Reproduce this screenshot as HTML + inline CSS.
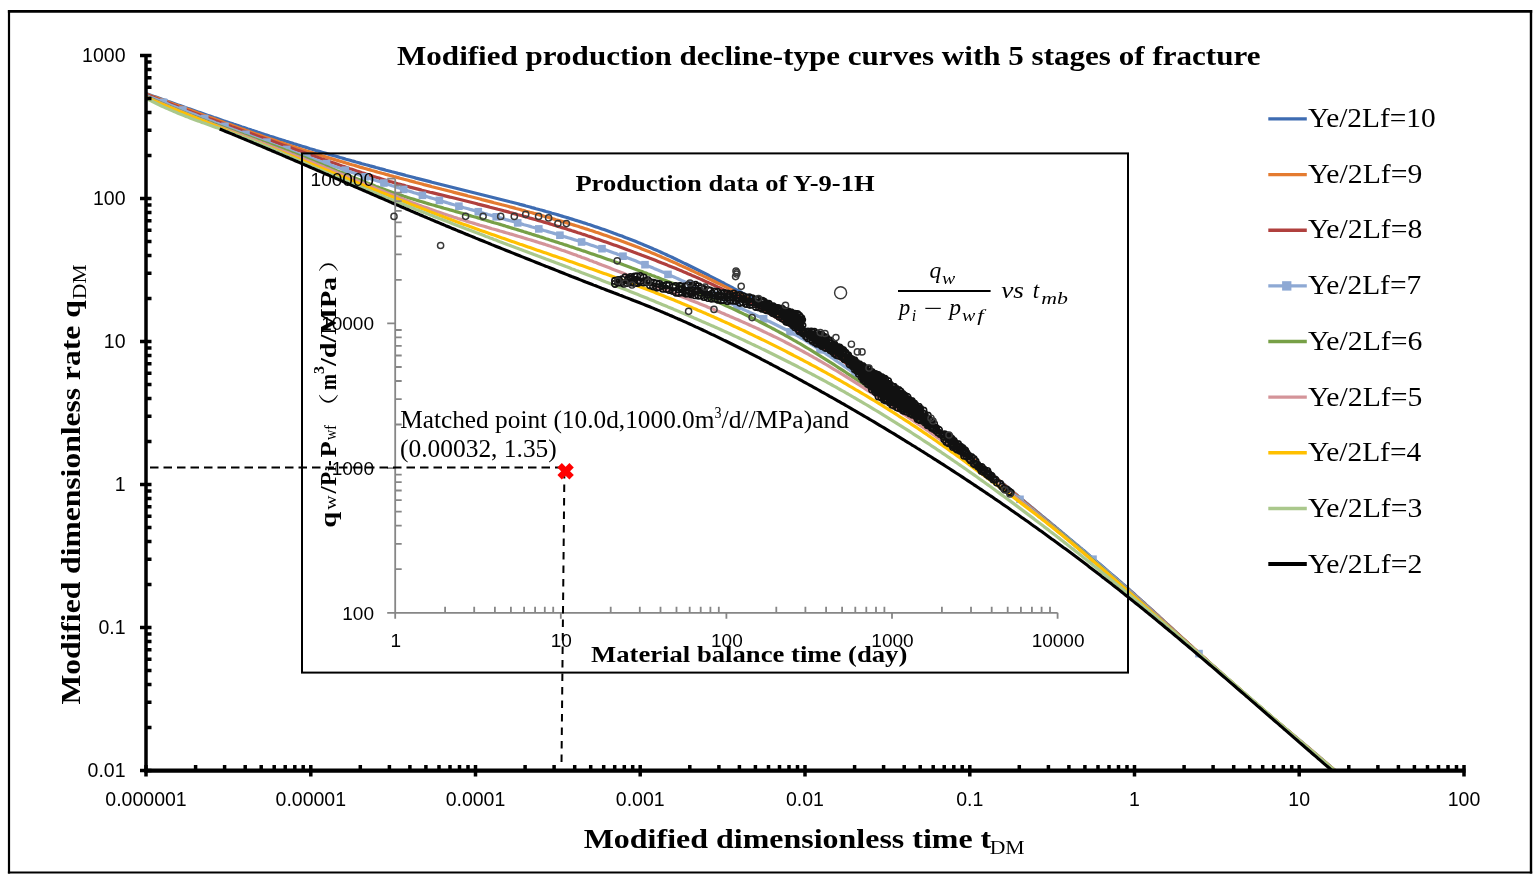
<!DOCTYPE html>
<html><head><meta charset="utf-8"><title>Modified production decline-type curves</title>
<style>html,body{margin:0;padding:0;background:#fff;overflow:hidden;} svg{display:block;}</style></head>
<body><svg width="1539" height="882" viewBox="0 0 1539 882">
<rect width="1539" height="882" fill="#fff"/>
<g stroke="#000" fill="none"><line x1="7.9" y1="11.4" x2="1532.2" y2="11.4" stroke-width="2.8"/><line x1="7.9" y1="872.5" x2="1532.2" y2="872.5" stroke-width="2.2"/><line x1="9" y1="10" x2="9" y2="873.6" stroke-width="2.2"/><line x1="1531" y1="10" x2="1531" y2="873.6" stroke-width="2.4"/></g>
<text x="395.7" y="647.0" font-family="'Liberation Sans',Arial,sans-serif" font-size="19" font-weight="normal" text-anchor="middle" fill="#000">1</text>
<text x="561.3" y="647.0" font-family="'Liberation Sans',Arial,sans-serif" font-size="19" font-weight="normal" text-anchor="middle" fill="#000">10</text>
<text x="726.9" y="647.0" font-family="'Liberation Sans',Arial,sans-serif" font-size="19" font-weight="normal" text-anchor="middle" fill="#000">100</text>
<text x="892.5" y="647.0" font-family="'Liberation Sans',Arial,sans-serif" font-size="19" font-weight="normal" text-anchor="middle" fill="#000">1000</text>
<text x="1058.1" y="647.0" font-family="'Liberation Sans',Arial,sans-serif" font-size="19" font-weight="normal" text-anchor="middle" fill="#000">10000</text>
<text x="575.40" y="190.70" font-family="'Liberation Serif',serif" font-size="24" font-weight="bold" font-style="normal" fill="#000" textLength="299.22" lengthAdjust="spacingAndGlyphs">Production data of Y-9-1H</text>
<text x="591.00" y="661.50" font-family="'Liberation Serif',serif" font-size="23.5" font-weight="bold" font-style="normal" fill="#000" textLength="316.36" lengthAdjust="spacingAndGlyphs">Material balance time (day)</text>
<text transform="translate(336.00,527.79) rotate(-90)" x="0" y="0" font-family="'Liberation Serif',serif" font-size="24" font-weight="bold" font-style="normal" fill="#000" textLength="15.92" lengthAdjust="spacingAndGlyphs">q</text>
<text transform="translate(335.80,509.80) rotate(-90)" x="0" y="0" font-family="'Liberation Serif',serif" font-size="16" font-weight="normal" font-style="normal" fill="#000" textLength="14.45" lengthAdjust="spacingAndGlyphs">w</text>
<text transform="translate(336.00,493.60) rotate(-90)" x="0" y="0" font-family="'Liberation Serif',serif" font-size="24" font-weight="bold" font-style="normal" fill="#000" textLength="7.24" lengthAdjust="spacingAndGlyphs">/</text>
<text transform="translate(336.20,486.00) rotate(-90)" x="0" y="0" font-family="'Liberation Serif',serif" font-size="24" font-weight="bold" font-style="normal" fill="#000" textLength="14.25" lengthAdjust="spacingAndGlyphs">P</text>
<text transform="translate(335.80,472.00) rotate(-90)" x="0" y="0" font-family="'Liberation Serif',serif" font-size="16" font-weight="normal" font-style="normal" fill="#000" textLength="6.12" lengthAdjust="spacingAndGlyphs">i</text>
<text transform="translate(336.00,466.00) rotate(-90)" x="0" y="0" font-family="'Liberation Serif',serif" font-size="24" font-weight="bold" font-style="normal" fill="#000" textLength="5.71" lengthAdjust="spacingAndGlyphs">-</text>
<text transform="translate(336.20,457.40) rotate(-90)" x="0" y="0" font-family="'Liberation Serif',serif" font-size="24" font-weight="bold" font-style="normal" fill="#000" textLength="16.35" lengthAdjust="spacingAndGlyphs">P</text>
<text transform="translate(335.80,440.00) rotate(-90)" x="0" y="0" font-family="'Liberation Serif',serif" font-size="16" font-weight="normal" font-style="normal" fill="#000" textLength="14.90" lengthAdjust="spacingAndGlyphs">wf</text>
<text transform="translate(335.90,420.78) rotate(-90)" x="0" y="0" font-family="'Liberation Serif','Noto Serif CJK SC','Noto Sans CJK SC',serif" font-size="20" font-weight="normal" font-style="normal" fill="#000" textLength="27.67" lengthAdjust="spacingAndGlyphs">（</text>
<text transform="translate(336.00,389.90) rotate(-90)" x="0" y="0" font-family="'Liberation Serif',serif" font-size="24" font-weight="bold" font-style="normal" fill="#000" textLength="15.90" lengthAdjust="spacingAndGlyphs">m</text>
<text transform="translate(323.50,374.00) rotate(-90)" x="0" y="0" font-family="'Liberation Serif',serif" font-size="15" font-weight="bold" font-style="normal" fill="#000" textLength="8.04" lengthAdjust="spacingAndGlyphs">3</text>
<text transform="translate(336.00,366.00) rotate(-90)" x="0" y="0" font-family="'Liberation Serif',serif" font-size="24" font-weight="bold" font-style="normal" fill="#000" textLength="89.20" lengthAdjust="spacingAndGlyphs">/d/MPa</text>
<text transform="translate(335.90,272.85) rotate(-90)" x="0" y="0" font-family="'Liberation Serif','Noto Serif CJK SC','Noto Sans CJK SC',serif" font-size="20" font-weight="normal" font-style="normal" fill="#000" textLength="27.00" lengthAdjust="spacingAndGlyphs">）</text>
<text x="400.20" y="427.70" font-family="'Liberation Serif',serif" font-size="24.5" font-weight="normal" font-style="normal" fill="#000" textLength="314.28" lengthAdjust="spacingAndGlyphs">Matched point (10.0d,1000.0m</text>
<text x="714.60" y="417.60" font-family="'Liberation Serif',serif" font-size="16" font-weight="normal" font-style="normal" fill="#000" textLength="7.00" lengthAdjust="spacingAndGlyphs">3</text>
<text x="721.60" y="427.70" font-family="'Liberation Serif',serif" font-size="24.5" font-weight="normal" font-style="normal" fill="#000" textLength="127.32" lengthAdjust="spacingAndGlyphs">/d//MPa)and</text>
<text x="399.96" y="456.80" font-family="'Liberation Serif',serif" font-size="24.5" font-weight="normal" font-style="normal" fill="#000" textLength="156.86" lengthAdjust="spacingAndGlyphs">(0.00032, 1.35)</text>
<line x1="898" y1="291" x2="990.6" y2="291" stroke="#000" stroke-width="2"/>
<text x="929.50" y="278.00" font-family="'Liberation Serif',serif" font-size="23" font-weight="normal" font-style="italic" fill="#000" textLength="11.71" lengthAdjust="spacingAndGlyphs">q</text>
<text x="942.10" y="283.80" font-family="'Liberation Serif',serif" font-size="16" font-weight="normal" font-style="italic" fill="#000" textLength="13.19" lengthAdjust="spacingAndGlyphs">w</text>
<text x="898.88" y="314.50" font-family="'Liberation Serif',serif" font-size="23" font-weight="normal" font-style="italic" fill="#000" textLength="11.21" lengthAdjust="spacingAndGlyphs">p</text>
<text x="911.85" y="320.70" font-family="'Liberation Serif',serif" font-size="16" font-weight="normal" font-style="italic" fill="#000">i</text>
<text x="923.75" y="315.50" font-family="'Liberation Serif',serif" font-size="23" font-weight="normal" font-style="normal" fill="#000" textLength="18.77" lengthAdjust="spacingAndGlyphs">−</text>
<text x="949.32" y="314.50" font-family="'Liberation Serif',serif" font-size="23" font-weight="normal" font-style="italic" fill="#000" textLength="11.79" lengthAdjust="spacingAndGlyphs">p</text>
<text x="961.90" y="320.70" font-family="'Liberation Serif',serif" font-size="16" font-weight="normal" font-style="italic" fill="#000" textLength="13.29" lengthAdjust="spacingAndGlyphs">w</text>
<text x="977.20" y="320.70" font-family="'Liberation Serif',serif" font-size="16" font-weight="normal" font-style="italic" fill="#000" textLength="6.43" lengthAdjust="spacingAndGlyphs">f</text>
<text x="1001.20" y="297.60" font-family="'Liberation Serif',serif" font-size="23" font-weight="normal" font-style="italic" fill="#000" textLength="22.80" lengthAdjust="spacingAndGlyphs">vs</text>
<text x="1032.75" y="297.60" font-family="'Liberation Serif',serif" font-size="23" font-weight="normal" font-style="italic" fill="#000">t</text>
<text x="1041.30" y="303.60" font-family="'Liberation Serif',serif" font-size="16" font-weight="normal" font-style="italic" fill="#000" textLength="26.67" lengthAdjust="spacingAndGlyphs">mb</text>
<defs><clipPath id="plotclip"><rect x="146" y="20" width="1320" height="750.6"/></clipPath></defs>
<g clip-path="url(#plotclip)">
<path d="M146.0,93.5 L148.0,94.2 L150.0,94.9 L152.0,95.7 L154.0,96.4 L156.0,97.1 L158.0,97.8 L160.0,98.5 L162.0,99.2 L164.0,99.9 L166.0,100.6 L168.0,101.4 L170.0,102.1 L172.0,102.8 L174.0,103.5 L176.0,104.2 L178.0,104.9 L180.0,105.6 L182.0,106.3 L184.0,107.0 L186.0,107.7 L188.0,108.4 L190.0,109.1 L192.0,109.8 L194.0,110.5 L196.0,111.2 L198.0,111.9 L200.0,112.6 L202.0,113.3 L204.0,114.0 L206.0,114.7 L208.0,115.4 L210.0,116.1 L212.0,116.8 L214.0,117.5 L216.0,118.1 L218.0,118.8 L220.0,119.5 L222.0,120.2 L224.0,120.9 L226.0,121.6 L228.0,122.2 L230.0,122.9 L232.0,123.6 L234.0,124.3 L236.0,124.9 L238.0,125.6 L240.0,126.3 L242.0,127.0 L244.0,127.6 L246.0,128.3 L248.0,129.0 L250.0,129.6 L252.0,130.3 L254.0,130.9 L256.0,131.6 L258.0,132.3 L260.0,132.9 L262.0,133.6 L264.0,134.2 L266.0,134.9 L268.0,135.5 L270.0,136.2 L272.0,136.8 L274.0,137.4 L276.0,138.1 L278.0,138.7 L280.0,139.4 L282.0,140.0 L284.0,140.6 L286.0,141.3 L288.0,141.9 L290.0,142.5 L292.0,143.1 L294.0,143.8 L296.0,144.4 L298.0,145.0 L300.0,145.6 L302.0,146.2 L304.0,146.8 L306.0,147.4 L308.0,148.0 L310.0,148.7 L312.0,149.3 L314.0,149.9 L316.0,150.5 L318.0,151.0 L320.0,151.6 L322.0,152.2 L324.0,152.8 L326.0,153.4 L328.0,154.0 L330.0,154.6 L332.0,155.2 L334.0,155.7 L336.0,156.3 L338.0,156.9 L340.0,157.5 L342.0,158.0 L344.0,158.6 L346.0,159.2 L348.0,159.7 L350.0,160.3 L352.0,160.9 L354.0,161.4 L356.0,162.0 L358.0,162.5 L360.0,163.1 L362.0,163.7 L364.0,164.2 L366.0,164.8 L368.0,165.3 L370.0,165.9 L372.0,166.4 L374.0,166.9 L376.0,167.5 L378.0,168.0 L380.0,168.6 L382.0,169.1 L384.0,169.6 L386.0,170.2 L388.0,170.7 L390.0,171.2 L392.0,171.8 L394.0,172.3 L396.0,172.8 L398.0,173.4 L400.0,173.9 L402.0,174.4 L404.0,174.9 L406.0,175.5 L408.0,176.0 L410.0,176.5 L412.0,177.0 L414.0,177.5 L416.0,178.1 L418.0,178.6 L420.0,179.1 L422.0,179.6 L424.0,180.1 L426.0,180.6 L428.0,181.1 L430.0,181.6 L432.0,182.2 L434.0,182.7 L436.0,183.2 L438.0,183.7 L440.0,184.2 L442.0,184.7 L444.0,185.2 L446.0,185.7 L448.0,186.2 L450.0,186.7 L452.0,187.2 L454.0,187.7 L456.0,188.2 L458.0,188.7 L460.0,189.2 L462.0,189.7 L464.0,190.2 L466.0,190.7 L468.0,191.2 L470.0,191.7 L472.0,192.2 L474.0,192.7 L476.0,193.2 L478.0,193.7 L480.0,194.2 L482.0,194.7 L484.0,195.2 L486.0,195.7 L488.0,196.2 L490.0,196.7 L492.0,197.2 L494.0,197.7 L496.0,198.2 L498.0,198.7 L500.0,199.2 L502.0,199.7 L504.0,200.2 L506.0,200.7 L508.0,201.2 L510.0,201.8 L512.0,202.3 L514.0,202.8 L516.0,203.3 L518.0,203.8 L520.0,204.4 L522.0,204.9 L524.0,205.4 L526.0,206.0 L528.0,206.5 L530.0,207.0 L532.0,207.6 L534.0,208.1 L536.0,208.7 L538.0,209.2 L540.0,209.8 L542.0,210.3 L544.0,210.9 L546.0,211.5 L548.0,212.0 L550.0,212.6 L552.0,213.2 L554.0,213.7 L556.0,214.3 L558.0,214.9 L560.0,215.5 L562.0,216.1 L564.0,216.7 L566.0,217.3 L568.0,217.9 L570.0,218.5 L572.0,219.1 L574.0,219.7 L576.0,220.4 L578.0,221.0 L580.0,221.6 L582.0,222.2 L584.0,222.9 L586.0,223.5 L588.0,224.2 L590.0,224.8 L592.0,225.5 L594.0,226.2 L596.0,226.9 L598.0,227.5 L600.0,228.2 L602.0,228.9 L604.0,229.6 L606.0,230.3 L608.0,231.0 L610.0,231.7 L612.0,232.4 L614.0,233.2 L616.0,233.9 L618.0,234.7 L620.0,235.4 L622.0,236.1 L624.0,236.9 L626.0,237.7 L628.0,238.4 L630.0,239.2 L632.0,240.0 L634.0,240.8 L636.0,241.6 L638.0,242.4 L640.0,243.2 L642.0,244.1 L644.0,244.9 L646.0,245.7 L648.0,246.6 L650.0,247.4 L652.0,248.3 L654.0,249.2 L656.0,250.0 L658.0,250.9 L660.0,251.8 L662.0,252.7 L664.0,253.6 L666.0,254.5 L668.0,255.5 L670.0,256.4 L672.0,257.3 L674.0,258.3 L676.0,259.2 L678.0,260.2 L680.0,261.1 L682.0,262.1 L684.0,263.1 L686.0,264.0 L688.0,265.0 L690.0,266.0 L692.0,267.0 L694.0,268.0 L696.0,269.0 L698.0,270.0 L700.0,271.0 L702.0,272.0 L704.0,273.0 L706.0,274.0 L708.0,275.0 L710.0,276.1 L712.0,277.1 L714.0,278.1 L716.0,279.2 L718.0,280.2 L720.0,281.2 L722.0,282.3 L724.0,283.3 L726.0,284.4 L728.0,285.4 L730.0,286.5 L732.0,287.5 L734.0,288.6 L736.0,289.6 L738.0,290.7 L740.0,291.8 L742.0,292.8 L744.0,293.9 L746.0,294.9 L748.0,296.0 L750.0,297.1 L752.0,298.2 L754.0,299.2 L756.0,300.3 L758.0,301.4 L760.0,302.5 L762.0,303.6 L764.0,304.7 L766.0,305.8 L768.0,307.0 L770.0,308.1 L772.0,309.2 L774.0,310.4 L776.0,311.5 L778.0,312.7 L780.0,313.8 L782.0,315.0 L784.0,316.2 L786.0,317.4 L788.0,318.6 L790.0,319.8 L792.0,321.0 L794.0,322.3 L796.0,323.5 L798.0,324.8 L800.0,326.0 L802.0,327.3 L804.0,328.6 L806.0,329.9 L808.0,331.2 L810.0,332.6 L812.0,333.9 L814.0,335.2 L816.0,336.6 L818.0,338.0 L820.0,339.4 L822.0,340.7 L824.0,342.1 L826.0,343.6 L828.0,345.0 L830.0,346.4 L832.0,347.8 L834.0,349.3 L836.0,350.7 L838.0,352.2 L840.0,353.6 L842.0,355.1 L844.0,356.6 L846.0,358.1 L848.0,359.6 L850.0,361.1 L852.0,362.6 L854.0,364.1 L856.0,365.6 L858.0,367.1 L860.0,368.7 L862.0,370.2 L864.0,371.7 L866.0,373.3 L868.0,374.8 L870.0,376.3 L872.0,377.9 L874.0,379.5 L876.0,381.0 L878.0,382.6 L880.0,384.1 L882.0,385.7 L884.0,387.3 L886.0,388.8 L888.0,390.4 L890.0,392.0 L892.0,393.5 L894.0,395.1 L896.0,396.7 L898.0,398.3 L900.0,399.8 L902.0,401.4 L904.0,403.0 L906.0,404.6 L908.0,406.1 L910.0,407.7 L912.0,409.3 L914.0,410.9 L916.0,412.4 L918.0,414.0 L920.0,415.6 L922.0,417.2 L924.0,418.7 L926.0,420.3 L928.0,421.9 L930.0,423.5 L932.0,425.1 L934.0,426.7 L936.0,428.3 L938.0,429.9 L940.0,431.5 L942.0,433.1 L944.0,434.7 L946.0,436.3 L948.0,438.0 L950.0,439.6 L952.0,441.2 L954.0,442.8 L956.0,444.5 L958.0,446.1 L960.0,447.8 L962.0,449.4 L964.0,451.1 L966.0,452.7 L968.0,454.4 L970.0,456.0 L972.0,457.7 L974.0,459.4 L976.0,461.0 L978.0,462.7 L980.0,464.4 L982.0,466.0 L984.0,467.7 L986.0,469.4 L988.0,471.0 L990.0,472.7 L992.0,474.4 L994.0,476.0 L996.0,477.7 L998.0,479.4 L1000.0,481.0 L1002.0,482.7 L1004.0,484.3 L1006.0,486.0 L1008.0,487.7 L1010.0,489.3 L1012.0,491.0 L1014.0,492.6 L1016.0,494.3 L1018.0,496.0 L1020.0,497.6 L1022.0,499.3 L1024.0,500.9 L1026.0,502.6 L1028.0,504.3 L1030.0,505.9 L1032.0,507.6 L1034.0,509.2 L1036.0,510.9 L1038.0,512.6 L1040.0,514.2 L1042.0,515.9 L1044.0,517.5 L1046.0,519.2 L1048.0,520.8 L1050.0,522.5 L1052.0,524.2 L1054.0,525.8 L1056.0,527.5 L1058.0,529.1 L1060.0,530.8 L1062.0,532.5 L1064.0,534.1 L1066.0,535.8 L1068.0,537.4 L1070.0,539.1 L1072.0,540.8 L1074.0,542.4 L1076.0,544.1 L1078.0,545.8 L1080.0,547.5 L1082.0,549.1 L1084.0,550.8 L1086.0,552.5 L1088.0,554.2 L1090.0,555.9 L1092.0,557.5 L1094.0,559.2 L1096.0,560.9 L1098.0,562.6 L1100.0,564.3 L1102.0,566.0 L1104.0,567.7 L1106.0,569.4 L1108.0,571.2 L1110.0,572.9 L1112.0,574.6 L1114.0,576.3 L1116.0,578.0 L1118.0,579.8 L1120.0,581.5 L1122.0,583.3 L1124.0,585.0 L1126.0,586.8 L1128.0,588.5 L1130.0,590.3 L1132.0,592.0 L1134.0,593.8 L1136.0,595.6 L1138.0,597.4 L1140.0,599.2 L1142.0,601.0 L1144.0,602.7 L1146.0,604.6 L1148.0,606.4 L1150.0,608.2 L1152.0,610.0 L1154.0,611.8 L1156.0,613.7 L1158.0,615.5 L1160.0,617.4 L1162.0,619.2 L1164.0,621.1 L1166.0,622.9 L1168.0,624.8 L1170.0,626.6 L1172.0,628.5 L1174.0,630.4 L1176.0,632.2 L1178.0,634.1 L1180.0,635.9 L1182.0,637.8 L1184.0,639.7 L1186.0,641.5 L1188.0,643.4 L1190.0,645.2 L1192.0,647.1 L1194.0,648.9 L1196.0,650.7 L1198.0,652.6 L1200.0,654.4 L1202.0,656.2 L1204.0,658.0 L1206.0,659.8 L1208.0,661.6 L1210.0,663.4 L1212.0,665.2 L1214.0,667.0 L1216.0,668.8 L1218.0,670.6 L1220.0,672.4 L1222.0,674.1 L1224.0,675.9 L1226.0,677.7 L1228.0,679.4 L1230.0,681.2 L1232.0,682.9 L1234.0,684.7 L1236.0,686.4 L1238.0,688.2 L1240.0,689.9 L1242.0,691.6 L1244.0,693.4 L1246.0,695.1 L1248.0,696.8 L1250.0,698.5 L1252.0,700.2 L1254.0,701.9 L1256.0,703.6 L1258.0,705.3 L1260.0,707.0 L1262.0,708.7 L1264.0,710.4 L1266.0,712.1 L1268.0,713.8 L1270.0,715.5 L1272.0,717.2 L1274.0,718.9 L1276.0,720.5 L1278.0,722.2 L1280.0,723.9 L1282.0,725.6 L1284.0,727.3 L1286.0,729.0 L1288.0,730.6 L1290.0,732.3 L1292.0,734.0 L1294.0,735.7 L1296.0,737.4 L1298.0,739.1 L1300.0,740.7 L1302.0,742.4 L1304.0,744.1 L1306.0,745.8 L1308.0,747.5 L1310.0,749.2 L1312.0,750.9 L1314.0,752.6 L1316.0,754.3 L1318.0,756.0 L1320.0,757.7 L1322.0,759.4 L1324.0,761.1 L1326.0,762.9 L1328.0,764.6 L1330.0,766.3 L1332.0,768.0 L1334.0,769.8 L1336.0,771.5 L1338.0,773.2 L1340.0,775.0 L1342.0,776.7 L1344.0,778.5 L1346.0,780.3" fill="none" stroke="#3E6CB2" stroke-width="3.2" stroke-linejoin="round"/>
<path d="M146.0,94.0 L148.0,94.7 L150.0,95.4 L152.0,96.2 L154.0,96.9 L156.0,97.6 L158.0,98.3 L160.0,99.1 L162.0,99.8 L164.0,100.5 L166.0,101.3 L168.0,102.0 L170.0,102.7 L172.0,103.4 L174.0,104.2 L176.0,104.9 L178.0,105.6 L180.0,106.4 L182.0,107.1 L184.0,107.8 L186.0,108.6 L188.0,109.3 L190.0,110.0 L192.0,110.8 L194.0,111.5 L196.0,112.2 L198.0,113.0 L200.0,113.7 L202.0,114.4 L204.0,115.2 L206.0,115.9 L208.0,116.6 L210.0,117.4 L212.0,118.1 L214.0,118.8 L216.0,119.6 L218.0,120.3 L220.0,121.0 L222.0,121.7 L224.0,122.5 L226.0,123.2 L228.0,123.9 L230.0,124.6 L232.0,125.3 L234.0,126.1 L236.0,126.8 L238.0,127.5 L240.0,128.2 L242.0,128.9 L244.0,129.6 L246.0,130.4 L248.0,131.1 L250.0,131.8 L252.0,132.5 L254.0,133.2 L256.0,133.9 L258.0,134.6 L260.0,135.3 L262.0,136.0 L264.0,136.7 L266.0,137.4 L268.0,138.1 L270.0,138.8 L272.0,139.4 L274.0,140.1 L276.0,140.8 L278.0,141.5 L280.0,142.2 L282.0,142.8 L284.0,143.5 L286.0,144.2 L288.0,144.9 L290.0,145.5 L292.0,146.2 L294.0,146.8 L296.0,147.5 L298.0,148.2 L300.0,148.8 L302.0,149.5 L304.0,150.1 L306.0,150.7 L308.0,151.4 L310.0,152.0 L312.0,152.6 L314.0,153.3 L316.0,153.9 L318.0,154.5 L320.0,155.2 L322.0,155.8 L324.0,156.4 L326.0,157.0 L328.0,157.6 L330.0,158.2 L332.0,158.8 L334.0,159.4 L336.0,160.0 L338.0,160.6 L340.0,161.2 L342.0,161.8 L344.0,162.4 L346.0,163.0 L348.0,163.6 L350.0,164.2 L352.0,164.8 L354.0,165.3 L356.0,165.9 L358.0,166.5 L360.0,167.1 L362.0,167.6 L364.0,168.2 L366.0,168.8 L368.0,169.4 L370.0,169.9 L372.0,170.5 L374.0,171.0 L376.0,171.6 L378.0,172.2 L380.0,172.7 L382.0,173.3 L384.0,173.8 L386.0,174.4 L388.0,174.9 L390.0,175.5 L392.0,176.0 L394.0,176.6 L396.0,177.1 L398.0,177.6 L400.0,178.2 L402.0,178.7 L404.0,179.3 L406.0,179.8 L408.0,180.3 L410.0,180.9 L412.0,181.4 L414.0,181.9 L416.0,182.5 L418.0,183.0 L420.0,183.5 L422.0,184.0 L424.0,184.6 L426.0,185.1 L428.0,185.6 L430.0,186.1 L432.0,186.7 L434.0,187.2 L436.0,187.7 L438.0,188.2 L440.0,188.7 L442.0,189.3 L444.0,189.8 L446.0,190.3 L448.0,190.8 L450.0,191.3 L452.0,191.8 L454.0,192.4 L456.0,192.9 L458.0,193.4 L460.0,193.9 L462.0,194.4 L464.0,194.9 L466.0,195.4 L468.0,196.0 L470.0,196.5 L472.0,197.0 L474.0,197.5 L476.0,198.0 L478.0,198.5 L480.0,199.0 L482.0,199.6 L484.0,200.1 L486.0,200.6 L488.0,201.1 L490.0,201.6 L492.0,202.1 L494.0,202.7 L496.0,203.2 L498.0,203.7 L500.0,204.2 L502.0,204.8 L504.0,205.3 L506.0,205.8 L508.0,206.3 L510.0,206.9 L512.0,207.4 L514.0,207.9 L516.0,208.5 L518.0,209.0 L520.0,209.5 L522.0,210.1 L524.0,210.6 L526.0,211.2 L528.0,211.7 L530.0,212.3 L532.0,212.8 L534.0,213.4 L536.0,213.9 L538.0,214.5 L540.0,215.1 L542.0,215.6 L544.0,216.2 L546.0,216.8 L548.0,217.3 L550.0,217.9 L552.0,218.5 L554.0,219.1 L556.0,219.7 L558.0,220.2 L560.0,220.8 L562.0,221.4 L564.0,222.0 L566.0,222.6 L568.0,223.2 L570.0,223.9 L572.0,224.5 L574.0,225.1 L576.0,225.7 L578.0,226.3 L580.0,227.0 L582.0,227.6 L584.0,228.2 L586.0,228.9 L588.0,229.5 L590.0,230.2 L592.0,230.8 L594.0,231.5 L596.0,232.2 L598.0,232.8 L600.0,233.5 L602.0,234.2 L604.0,234.9 L606.0,235.6 L608.0,236.3 L610.0,237.0 L612.0,237.7 L614.0,238.4 L616.0,239.1 L618.0,239.8 L620.0,240.5 L622.0,241.3 L624.0,242.0 L626.0,242.7 L628.0,243.5 L630.0,244.2 L632.0,245.0 L634.0,245.8 L636.0,246.6 L638.0,247.3 L640.0,248.1 L642.0,248.9 L644.0,249.7 L646.0,250.5 L648.0,251.3 L650.0,252.1 L652.0,253.0 L654.0,253.8 L656.0,254.6 L658.0,255.5 L660.0,256.3 L662.0,257.2 L664.0,258.1 L666.0,258.9 L668.0,259.8 L670.0,260.7 L672.0,261.6 L674.0,262.4 L676.0,263.3 L678.0,264.2 L680.0,265.2 L682.0,266.1 L684.0,267.0 L686.0,267.9 L688.0,268.8 L690.0,269.8 L692.0,270.7 L694.0,271.6 L696.0,272.6 L698.0,273.5 L700.0,274.5 L702.0,275.4 L704.0,276.4 L706.0,277.3 L708.0,278.3 L710.0,279.3 L712.0,280.2 L714.0,281.2 L716.0,282.2 L718.0,283.2 L720.0,284.1 L722.0,285.1 L724.0,286.1 L726.0,287.1 L728.0,288.1 L730.0,289.1 L732.0,290.1 L734.0,291.1 L736.0,292.1 L738.0,293.1 L740.0,294.1 L742.0,295.1 L744.0,296.1 L746.0,297.1 L748.0,298.1 L750.0,299.1 L752.0,300.2 L754.0,301.2 L756.0,302.2 L758.0,303.3 L760.0,304.3 L762.0,305.4 L764.0,306.5 L766.0,307.5 L768.0,308.6 L770.0,309.7 L772.0,310.8 L774.0,311.9 L776.0,313.1 L778.0,314.2 L780.0,315.3 L782.0,316.5 L784.0,317.7 L786.0,318.9 L788.0,320.1 L790.0,321.3 L792.0,322.5 L794.0,323.7 L796.0,325.0 L798.0,326.3 L800.0,327.6 L802.0,328.9 L804.0,330.2 L806.0,331.6 L808.0,332.9 L810.0,334.3 L812.0,335.7 L814.0,337.1 L816.0,338.5 L818.0,339.9 L820.0,341.3 L822.0,342.7 L824.0,344.2 L826.0,345.7 L828.0,347.1 L830.0,348.6 L832.0,350.1 L834.0,351.5 L836.0,353.0 L838.0,354.5 L840.0,356.0 L842.0,357.5 L844.0,359.0 L846.0,360.5 L848.0,362.0 L850.0,363.5 L852.0,365.0 L854.0,366.5 L856.0,368.0 L858.0,369.5 L860.0,370.9 L862.0,372.4 L864.0,373.9 L866.0,375.4 L868.0,376.9 L870.0,378.4 L872.0,379.9 L874.0,381.4 L876.0,382.9 L878.0,384.4 L880.0,385.9 L882.0,387.4 L884.0,388.9 L886.0,390.4 L888.0,391.9 L890.0,393.4 L892.0,394.9 L894.0,396.4 L896.0,397.9 L898.0,399.4 L900.0,400.9 L902.0,402.4 L904.0,404.0 L906.0,405.5 L908.0,407.0 L910.0,408.6 L912.0,410.1 L914.0,411.6 L916.0,413.2 L918.0,414.7 L920.0,416.3 L922.0,417.9 L924.0,419.4 L926.0,421.0 L928.0,422.5 L930.0,424.1 L932.0,425.7 L934.0,427.3 L936.0,428.9 L938.0,430.4 L940.0,432.0 L942.0,433.6 L944.0,435.2 L946.0,436.8 L948.0,438.4 L950.0,440.0 L952.0,441.6 L954.0,443.3 L956.0,444.9 L958.0,446.5 L960.0,448.1 L962.0,449.8 L964.0,451.4 L966.0,453.0 L968.0,454.7 L970.0,456.3 L972.0,457.9 L974.0,459.6 L976.0,461.2 L978.0,462.9 L980.0,464.6 L982.0,466.2 L984.0,467.9 L986.0,469.5 L988.0,471.2 L990.0,472.9 L992.0,474.5 L994.0,476.2 L996.0,477.9 L998.0,479.5 L1000.0,481.2 L1002.0,482.9 L1004.0,484.6 L1006.0,486.3 L1008.0,487.9 L1010.0,489.6 L1012.0,491.3 L1014.0,493.0 L1016.0,494.7 L1018.0,496.3 L1020.0,498.0 L1022.0,499.7 L1024.0,501.4 L1026.0,503.1 L1028.0,504.8 L1030.0,506.5 L1032.0,508.1 L1034.0,509.8 L1036.0,511.5 L1038.0,513.2 L1040.0,514.9 L1042.0,516.6 L1044.0,518.3 L1046.0,519.9 L1048.0,521.6 L1050.0,523.3 L1052.0,525.0 L1054.0,526.7 L1056.0,528.3 L1058.0,530.0 L1060.0,531.7 L1062.0,533.4 L1064.0,535.1 L1066.0,536.7 L1068.0,538.4 L1070.0,540.1 L1072.0,541.8 L1074.0,543.5 L1076.0,545.1 L1078.0,546.8 L1080.0,548.5 L1082.0,550.2 L1084.0,551.9 L1086.0,553.5 L1088.0,555.2 L1090.0,556.9 L1092.0,558.6 L1094.0,560.3 L1096.0,562.0 L1098.0,563.7 L1100.0,565.4 L1102.0,567.1 L1104.0,568.8 L1106.0,570.5 L1108.0,572.2 L1110.0,573.9 L1112.0,575.6 L1114.0,577.3 L1116.0,579.0 L1118.0,580.7 L1120.0,582.4 L1122.0,584.2 L1124.0,585.9 L1126.0,587.6 L1128.0,589.3 L1130.0,591.1 L1132.0,592.8 L1134.0,594.6 L1136.0,596.3 L1138.0,598.1 L1140.0,599.8 L1142.0,601.6 L1144.0,603.3 L1146.0,605.1 L1148.0,606.9 L1150.0,608.7 L1152.0,610.5 L1154.0,612.3 L1156.0,614.0 L1158.0,615.8 L1160.0,617.6 L1162.0,619.5 L1164.0,621.3 L1166.0,623.1 L1168.0,624.9 L1170.0,626.7 L1172.0,628.5 L1174.0,630.4 L1176.0,632.2 L1178.0,634.0 L1180.0,635.8 L1182.0,637.7 L1184.0,639.5 L1186.0,641.3 L1188.0,643.2 L1190.0,645.0 L1192.0,646.8 L1194.0,648.7 L1196.0,650.5 L1198.0,652.3 L1200.0,654.1 L1202.0,656.0 L1204.0,657.8 L1206.0,659.6 L1208.0,661.4 L1210.0,663.3 L1212.0,665.1 L1214.0,666.9 L1216.0,668.7 L1218.0,670.5 L1220.0,672.3 L1222.0,674.1 L1224.0,675.9 L1226.0,677.7 L1228.0,679.5 L1230.0,681.3 L1232.0,683.1 L1234.0,684.8 L1236.0,686.6 L1238.0,688.4 L1240.0,690.1 L1242.0,691.9 L1244.0,693.6 L1246.0,695.3 L1248.0,697.1 L1250.0,698.8 L1252.0,700.5 L1254.0,702.2 L1256.0,703.9 L1258.0,705.6 L1260.0,707.3 L1262.0,709.0 L1264.0,710.6 L1266.0,712.3 L1268.0,714.0 L1270.0,715.7 L1272.0,717.3 L1274.0,719.0 L1276.0,720.6 L1278.0,722.3 L1280.0,724.0 L1282.0,725.6 L1284.0,727.3 L1286.0,728.9 L1288.0,730.6 L1290.0,732.3 L1292.0,733.9 L1294.0,735.6 L1296.0,737.3 L1298.0,738.9 L1300.0,740.6 L1302.0,742.3 L1304.0,744.0 L1306.0,745.7 L1308.0,747.3 L1310.0,749.0 L1312.0,750.7 L1314.0,752.4 L1316.0,754.1 L1318.0,755.8 L1320.0,757.6 L1322.0,759.3 L1324.0,761.0 L1326.0,762.7 L1328.0,764.5 L1330.0,766.2 L1332.0,767.9 L1334.0,769.7 L1336.0,771.4 L1338.0,773.2 L1340.0,775.0 L1342.0,776.7 L1344.0,778.5 L1346.0,780.3" fill="none" stroke="#E47B30" stroke-width="3.2" stroke-linejoin="round"/>
<path d="M146.0,94.4 L148.0,95.2 L150.0,96.0 L152.0,96.8 L154.0,97.6 L156.0,98.4 L158.0,99.2 L160.0,99.9 L162.0,100.7 L164.0,101.5 L166.0,102.3 L168.0,103.1 L170.0,103.8 L172.0,104.6 L174.0,105.4 L176.0,106.1 L178.0,106.9 L180.0,107.7 L182.0,108.4 L184.0,109.2 L186.0,109.9 L188.0,110.7 L190.0,111.4 L192.0,112.2 L194.0,112.9 L196.0,113.7 L198.0,114.4 L200.0,115.2 L202.0,115.9 L204.0,116.7 L206.0,117.4 L208.0,118.1 L210.0,118.9 L212.0,119.6 L214.0,120.3 L216.0,121.1 L218.0,121.8 L220.0,122.5 L222.0,123.2 L224.0,124.0 L226.0,124.7 L228.0,125.4 L230.0,126.1 L232.0,126.9 L234.0,127.6 L236.0,128.3 L238.0,129.0 L240.0,129.7 L242.0,130.5 L244.0,131.2 L246.0,131.9 L248.0,132.6 L250.0,133.3 L252.0,134.0 L254.0,134.7 L256.0,135.5 L258.0,136.2 L260.0,136.9 L262.0,137.6 L264.0,138.3 L266.0,139.0 L268.0,139.7 L270.0,140.4 L272.0,141.1 L274.0,141.8 L276.0,142.6 L278.0,143.3 L280.0,144.0 L282.0,144.7 L284.0,145.4 L286.0,146.1 L288.0,146.8 L290.0,147.5 L292.0,148.2 L294.0,148.9 L296.0,149.7 L298.0,150.4 L300.0,151.1 L302.0,151.8 L304.0,152.5 L306.0,153.2 L308.0,153.9 L310.0,154.6 L312.0,155.4 L314.0,156.1 L316.0,156.8 L318.0,157.5 L320.0,158.2 L322.0,158.9 L324.0,159.6 L326.0,160.3 L328.0,161.0 L330.0,161.7 L332.0,162.4 L334.0,163.1 L336.0,163.8 L338.0,164.5 L340.0,165.2 L342.0,165.9 L344.0,166.6 L346.0,167.3 L348.0,168.0 L350.0,168.7 L352.0,169.3 L354.0,170.0 L356.0,170.7 L358.0,171.4 L360.0,172.0 L362.0,172.7 L364.0,173.3 L366.0,174.0 L368.0,174.6 L370.0,175.3 L372.0,175.9 L374.0,176.6 L376.0,177.2 L378.0,177.8 L380.0,178.4 L382.0,179.1 L384.0,179.7 L386.0,180.3 L388.0,180.9 L390.0,181.5 L392.0,182.0 L394.0,182.6 L396.0,183.2 L398.0,183.8 L400.0,184.3 L402.0,184.9 L404.0,185.4 L406.0,186.0 L408.0,186.5 L410.0,187.1 L412.0,187.6 L414.0,188.1 L416.0,188.6 L418.0,189.1 L420.0,189.6 L422.0,190.2 L424.0,190.7 L426.0,191.2 L428.0,191.7 L430.0,192.2 L432.0,192.6 L434.0,193.1 L436.0,193.6 L438.0,194.1 L440.0,194.6 L442.0,195.1 L444.0,195.6 L446.0,196.1 L448.0,196.6 L450.0,197.1 L452.0,197.5 L454.0,198.0 L456.0,198.5 L458.0,199.0 L460.0,199.5 L462.0,200.0 L464.0,200.5 L466.0,201.0 L468.0,201.5 L470.0,202.0 L472.0,202.5 L474.0,203.0 L476.0,203.5 L478.0,204.1 L480.0,204.6 L482.0,205.1 L484.0,205.6 L486.0,206.1 L488.0,206.6 L490.0,207.2 L492.0,207.7 L494.0,208.2 L496.0,208.7 L498.0,209.3 L500.0,209.8 L502.0,210.3 L504.0,210.9 L506.0,211.4 L508.0,211.9 L510.0,212.5 L512.0,213.0 L514.0,213.6 L516.0,214.1 L518.0,214.7 L520.0,215.2 L522.0,215.8 L524.0,216.4 L526.0,216.9 L528.0,217.5 L530.0,218.1 L532.0,218.6 L534.0,219.2 L536.0,219.8 L538.0,220.4 L540.0,221.0 L542.0,221.5 L544.0,222.1 L546.0,222.7 L548.0,223.3 L550.0,223.9 L552.0,224.5 L554.0,225.1 L556.0,225.7 L558.0,226.4 L560.0,227.0 L562.0,227.6 L564.0,228.2 L566.0,228.8 L568.0,229.5 L570.0,230.1 L572.0,230.8 L574.0,231.4 L576.0,232.0 L578.0,232.7 L580.0,233.3 L582.0,234.0 L584.0,234.6 L586.0,235.3 L588.0,236.0 L590.0,236.6 L592.0,237.3 L594.0,238.0 L596.0,238.7 L598.0,239.3 L600.0,240.0 L602.0,240.7 L604.0,241.4 L606.0,242.1 L608.0,242.8 L610.0,243.5 L612.0,244.2 L614.0,244.9 L616.0,245.6 L618.0,246.3 L620.0,247.1 L622.0,247.8 L624.0,248.5 L626.0,249.2 L628.0,250.0 L630.0,250.7 L632.0,251.4 L634.0,252.2 L636.0,252.9 L638.0,253.7 L640.0,254.4 L642.0,255.2 L644.0,255.9 L646.0,256.7 L648.0,257.5 L650.0,258.3 L652.0,259.0 L654.0,259.8 L656.0,260.6 L658.0,261.4 L660.0,262.2 L662.0,263.0 L664.0,263.7 L666.0,264.5 L668.0,265.4 L670.0,266.2 L672.0,267.0 L674.0,267.8 L676.0,268.6 L678.0,269.4 L680.0,270.3 L682.0,271.1 L684.0,272.0 L686.0,272.8 L688.0,273.7 L690.0,274.5 L692.0,275.4 L694.0,276.2 L696.0,277.1 L698.0,278.0 L700.0,278.9 L702.0,279.8 L704.0,280.7 L706.0,281.6 L708.0,282.5 L710.0,283.4 L712.0,284.3 L714.0,285.2 L716.0,286.1 L718.0,287.1 L720.0,288.0 L722.0,289.0 L724.0,289.9 L726.0,290.9 L728.0,291.9 L730.0,292.8 L732.0,293.8 L734.0,294.8 L736.0,295.8 L738.0,296.8 L740.0,297.8 L742.0,298.8 L744.0,299.8 L746.0,300.9 L748.0,301.9 L750.0,303.0 L752.0,304.0 L754.0,305.1 L756.0,306.1 L758.0,307.2 L760.0,308.3 L762.0,309.4 L764.0,310.5 L766.0,311.6 L768.0,312.7 L770.0,313.9 L772.0,315.0 L774.0,316.1 L776.0,317.3 L778.0,318.5 L780.0,319.6 L782.0,320.8 L784.0,322.0 L786.0,323.2 L788.0,324.4 L790.0,325.6 L792.0,326.8 L794.0,328.1 L796.0,329.3 L798.0,330.6 L800.0,331.8 L802.0,333.1 L804.0,334.4 L806.0,335.7 L808.0,337.0 L810.0,338.3 L812.0,339.6 L814.0,340.9 L816.0,342.3 L818.0,343.6 L820.0,344.9 L822.0,346.3 L824.0,347.7 L826.0,349.0 L828.0,350.4 L830.0,351.8 L832.0,353.2 L834.0,354.6 L836.0,356.0 L838.0,357.4 L840.0,358.8 L842.0,360.3 L844.0,361.7 L846.0,363.1 L848.0,364.6 L850.0,366.0 L852.0,367.4 L854.0,368.9 L856.0,370.4 L858.0,371.8 L860.0,373.3 L862.0,374.7 L864.0,376.2 L866.0,377.7 L868.0,379.2 L870.0,380.6 L872.0,382.1 L874.0,383.6 L876.0,385.1 L878.0,386.6 L880.0,388.1 L882.0,389.6 L884.0,391.1 L886.0,392.6 L888.0,394.0 L890.0,395.5 L892.0,397.0 L894.0,398.5 L896.0,400.0 L898.0,401.5 L900.0,403.0 L902.0,404.5 L904.0,406.0 L906.0,407.5 L908.0,409.0 L910.0,410.5 L912.0,412.0 L914.0,413.5 L916.0,415.0 L918.0,416.5 L920.0,418.0 L922.0,419.5 L924.0,421.0 L926.0,422.6 L928.0,424.1 L930.0,425.6 L932.0,427.1 L934.0,428.7 L936.0,430.2 L938.0,431.7 L940.0,433.3 L942.0,434.9 L944.0,436.4 L946.0,438.0 L948.0,439.6 L950.0,441.2 L952.0,442.8 L954.0,444.4 L956.0,446.0 L958.0,447.6 L960.0,449.2 L962.0,450.8 L964.0,452.5 L966.0,454.1 L968.0,455.8 L970.0,457.4 L972.0,459.0 L974.0,460.7 L976.0,462.4 L978.0,464.0 L980.0,465.7 L982.0,467.3 L984.0,469.0 L986.0,470.7 L988.0,472.3 L990.0,474.0 L992.0,475.6 L994.0,477.3 L996.0,478.9 L998.0,480.6 L1000.0,482.2 L1002.0,483.9 L1004.0,485.5 L1006.0,487.2 L1008.0,488.8 L1010.0,490.5 L1012.0,492.1 L1014.0,493.8 L1016.0,495.4 L1018.0,497.1 L1020.0,498.7 L1022.0,500.4 L1024.0,502.0 L1026.0,503.7 L1028.0,505.3 L1030.0,507.0 L1032.0,508.6 L1034.0,510.3 L1036.0,511.9 L1038.0,513.6 L1040.0,515.3 L1042.0,516.9 L1044.0,518.6 L1046.0,520.2 L1048.0,521.9 L1050.0,523.6 L1052.0,525.2 L1054.0,526.9 L1056.0,528.6 L1058.0,530.3 L1060.0,531.9 L1062.0,533.6 L1064.0,535.3 L1066.0,537.0 L1068.0,538.7 L1070.0,540.4 L1072.0,542.0 L1074.0,543.7 L1076.0,545.4 L1078.0,547.1 L1080.0,548.8 L1082.0,550.5 L1084.0,552.2 L1086.0,553.9 L1088.0,555.6 L1090.0,557.4 L1092.0,559.1 L1094.0,560.8 L1096.0,562.5 L1098.0,564.2 L1100.0,565.9 L1102.0,567.6 L1104.0,569.4 L1106.0,571.1 L1108.0,572.8 L1110.0,574.5 L1112.0,576.3 L1114.0,578.0 L1116.0,579.7 L1118.0,581.5 L1120.0,583.2 L1122.0,585.0 L1124.0,586.7 L1126.0,588.4 L1128.0,590.2 L1130.0,591.9 L1132.0,593.7 L1134.0,595.4 L1136.0,597.2 L1138.0,598.9 L1140.0,600.7 L1142.0,602.4 L1144.0,604.2 L1146.0,606.0 L1148.0,607.7 L1150.0,609.5 L1152.0,611.3 L1154.0,613.0 L1156.0,614.8 L1158.0,616.6 L1160.0,618.3 L1162.0,620.1 L1164.0,621.9 L1166.0,623.7 L1168.0,625.4 L1170.0,627.2 L1172.0,629.0 L1174.0,630.8 L1176.0,632.6 L1178.0,634.3 L1180.0,636.1 L1182.0,637.9 L1184.0,639.7 L1186.0,641.5 L1188.0,643.3 L1190.0,645.0 L1192.0,646.8 L1194.0,648.6 L1196.0,650.4 L1198.0,652.2 L1200.0,654.0 L1202.0,655.7 L1204.0,657.5 L1206.0,659.3 L1208.0,661.1 L1210.0,662.9 L1212.0,664.7 L1214.0,666.4 L1216.0,668.2 L1218.0,670.0 L1220.0,671.8 L1222.0,673.6 L1224.0,675.3 L1226.0,677.1 L1228.0,678.9 L1230.0,680.6 L1232.0,682.4 L1234.0,684.2 L1236.0,686.0 L1238.0,687.7 L1240.0,689.5 L1242.0,691.2 L1244.0,693.0 L1246.0,694.8 L1248.0,696.5 L1250.0,698.3 L1252.0,700.0 L1254.0,701.8 L1256.0,703.5 L1258.0,705.3 L1260.0,707.0 L1262.0,708.7 L1264.0,710.5 L1266.0,712.2 L1268.0,713.9 L1270.0,715.7 L1272.0,717.4 L1274.0,719.1 L1276.0,720.8 L1278.0,722.5 L1280.0,724.3 L1282.0,726.0 L1284.0,727.7 L1286.0,729.4 L1288.0,731.1 L1290.0,732.8 L1292.0,734.5 L1294.0,736.1 L1296.0,737.8 L1298.0,739.5 L1300.0,741.2 L1302.0,742.9 L1304.0,744.5 L1306.0,746.2 L1308.0,747.9 L1310.0,749.6 L1312.0,751.2 L1314.0,752.9 L1316.0,754.6 L1318.0,756.3 L1320.0,757.9 L1322.0,759.6 L1324.0,761.3 L1326.0,763.0 L1328.0,764.7 L1330.0,766.4 L1332.0,768.1 L1334.0,769.8 L1336.0,771.5 L1338.0,773.2 L1340.0,774.9 L1342.0,776.6 L1344.0,778.4 L1346.0,780.1" fill="none" stroke="#B0403E" stroke-width="3.2" stroke-linejoin="round"/>
<path d="M146.0,95.4 L148.0,96.2 L150.0,97.0 L152.0,97.7 L154.0,98.5 L156.0,99.3 L158.0,100.1 L160.0,100.9 L162.0,101.7 L164.0,102.5 L166.0,103.3 L168.0,104.1 L170.0,104.9 L172.0,105.7 L174.0,106.5 L176.0,107.3 L178.0,108.1 L180.0,108.9 L182.0,109.6 L184.0,110.4 L186.0,111.2 L188.0,112.0 L190.0,112.8 L192.0,113.6 L194.0,114.3 L196.0,115.1 L198.0,115.9 L200.0,116.7 L202.0,117.5 L204.0,118.2 L206.0,119.0 L208.0,119.8 L210.0,120.6 L212.0,121.3 L214.0,122.1 L216.0,122.9 L218.0,123.6 L220.0,124.4 L222.0,125.2 L224.0,126.0 L226.0,126.7 L228.0,127.5 L230.0,128.2 L232.0,129.0 L234.0,129.8 L236.0,130.5 L238.0,131.3 L240.0,132.0 L242.0,132.8 L244.0,133.6 L246.0,134.3 L248.0,135.1 L250.0,135.8 L252.0,136.6 L254.0,137.3 L256.0,138.1 L258.0,138.8 L260.0,139.6 L262.0,140.3 L264.0,141.1 L266.0,141.8 L268.0,142.5 L270.0,143.3 L272.0,144.0 L274.0,144.8 L276.0,145.5 L278.0,146.2 L280.0,147.0 L282.0,147.7 L284.0,148.4 L286.0,149.2 L288.0,149.9 L290.0,150.6 L292.0,151.3 L294.0,152.1 L296.0,152.8 L298.0,153.5 L300.0,154.2 L302.0,154.9 L304.0,155.7 L306.0,156.4 L308.0,157.1 L310.0,157.8 L312.0,158.5 L314.0,159.2 L316.0,159.9 L318.0,160.6 L320.0,161.3 L322.0,162.0 L324.0,162.7 L326.0,163.4 L328.0,164.1 L330.0,164.8 L332.0,165.5 L334.0,166.2 L336.0,166.9 L338.0,167.6 L340.0,168.3 L342.0,169.0 L344.0,169.7 L346.0,170.4 L348.0,171.1 L350.0,171.7 L352.0,172.4 L354.0,173.1 L356.0,173.8 L358.0,174.5 L360.0,175.1 L362.0,175.8 L364.0,176.5 L366.0,177.1 L368.0,177.8 L370.0,178.5 L372.0,179.1 L374.0,179.8 L376.0,180.5 L378.0,181.1 L380.0,181.8 L382.0,182.4 L384.0,183.1 L386.0,183.7 L388.0,184.4 L390.0,185.0 L392.0,185.7 L394.0,186.3 L396.0,187.0 L398.0,187.6 L400.0,188.2 L402.0,188.9 L404.0,189.5 L406.0,190.1 L408.0,190.8 L410.0,191.4 L412.0,192.0 L414.0,192.7 L416.0,193.3 L418.0,193.9 L420.0,194.5 L422.0,195.1 L424.0,195.8 L426.0,196.4 L428.0,197.0 L430.0,197.6 L432.0,198.2 L434.0,198.8 L436.0,199.4 L438.0,200.0 L440.0,200.6 L442.0,201.2 L444.0,201.8 L446.0,202.4 L448.0,203.0 L450.0,203.6 L452.0,204.2 L454.0,204.8 L456.0,205.3 L458.0,205.9 L460.0,206.5 L462.0,207.1 L464.0,207.7 L466.0,208.2 L468.0,208.8 L470.0,209.4 L472.0,209.9 L474.0,210.5 L476.0,211.1 L478.0,211.7 L480.0,212.2 L482.0,212.8 L484.0,213.4 L486.0,213.9 L488.0,214.5 L490.0,215.0 L492.0,215.6 L494.0,216.2 L496.0,216.7 L498.0,217.3 L500.0,217.9 L502.0,218.4 L504.0,219.0 L506.0,219.6 L508.0,220.1 L510.0,220.7 L512.0,221.3 L514.0,221.8 L516.0,222.4 L518.0,223.0 L520.0,223.5 L522.0,224.1 L524.0,224.7 L526.0,225.2 L528.0,225.8 L530.0,226.4 L532.0,227.0 L534.0,227.5 L536.0,228.1 L538.0,228.7 L540.0,229.3 L542.0,229.9 L544.0,230.5 L546.0,231.0 L548.0,231.6 L550.0,232.2 L552.0,232.8 L554.0,233.4 L556.0,234.0 L558.0,234.6 L560.0,235.2 L562.0,235.8 L564.0,236.5 L566.0,237.1 L568.0,237.7 L570.0,238.3 L572.0,238.9 L574.0,239.6 L576.0,240.2 L578.0,240.8 L580.0,241.5 L582.0,242.1 L584.0,242.7 L586.0,243.4 L588.0,244.0 L590.0,244.7 L592.0,245.4 L594.0,246.0 L596.0,246.7 L598.0,247.4 L600.0,248.1 L602.0,248.7 L604.0,249.4 L606.0,250.1 L608.0,250.8 L610.0,251.5 L612.0,252.2 L614.0,252.9 L616.0,253.6 L618.0,254.4 L620.0,255.1 L622.0,255.8 L624.0,256.6 L626.0,257.3 L628.0,258.1 L630.0,258.8 L632.0,259.6 L634.0,260.3 L636.0,261.1 L638.0,261.9 L640.0,262.7 L642.0,263.5 L644.0,264.3 L646.0,265.1 L648.0,265.9 L650.0,266.7 L652.0,267.5 L654.0,268.4 L656.0,269.2 L658.0,270.1 L660.0,270.9 L662.0,271.8 L664.0,272.6 L666.0,273.5 L668.0,274.4 L670.0,275.2 L672.0,276.1 L674.0,277.0 L676.0,277.9 L678.0,278.8 L680.0,279.7 L682.0,280.6 L684.0,281.5 L686.0,282.4 L688.0,283.3 L690.0,284.3 L692.0,285.2 L694.0,286.1 L696.0,287.0 L698.0,288.0 L700.0,288.9 L702.0,289.8 L704.0,290.8 L706.0,291.7 L708.0,292.7 L710.0,293.6 L712.0,294.5 L714.0,295.5 L716.0,296.4 L718.0,297.4 L720.0,298.3 L722.0,299.3 L724.0,300.2 L726.0,301.2 L728.0,302.1 L730.0,303.1 L732.0,304.0 L734.0,304.9 L736.0,305.9 L738.0,306.8 L740.0,307.8 L742.0,308.7 L744.0,309.7 L746.0,310.6 L748.0,311.5 L750.0,312.5 L752.0,313.4 L754.0,314.3 L756.0,315.3 L758.0,316.2 L760.0,317.1 L762.0,318.0 L764.0,319.0 L766.0,319.9 L768.0,320.9 L770.0,321.8 L772.0,322.8 L774.0,323.7 L776.0,324.7 L778.0,325.7 L780.0,326.7 L782.0,327.7 L784.0,328.7 L786.0,329.7 L788.0,330.8 L790.0,331.8 L792.0,332.9 L794.0,334.0 L796.0,335.1 L798.0,336.2 L800.0,337.4 L802.0,338.5 L804.0,339.7 L806.0,340.9 L808.0,342.1 L810.0,343.4 L812.0,344.6 L814.0,345.9 L816.0,347.2 L818.0,348.5 L820.0,349.8 L822.0,351.1 L824.0,352.4 L826.0,353.8 L828.0,355.1 L830.0,356.5 L832.0,357.8 L834.0,359.2 L836.0,360.6 L838.0,362.0 L840.0,363.3 L842.0,364.7 L844.0,366.1 L846.0,367.5 L848.0,368.9 L850.0,370.3 L852.0,371.6 L854.0,373.0 L856.0,374.4 L858.0,375.8 L860.0,377.2 L862.0,378.5 L864.0,379.9 L866.0,381.3 L868.0,382.7 L870.0,384.0 L872.0,385.4 L874.0,386.8 L876.0,388.2 L878.0,389.5 L880.0,390.9 L882.0,392.3 L884.0,393.7 L886.0,395.1 L888.0,396.4 L890.0,397.8 L892.0,399.2 L894.0,400.6 L896.0,402.0 L898.0,403.4 L900.0,404.8 L902.0,406.2 L904.0,407.7 L906.0,409.1 L908.0,410.5 L910.0,411.9 L912.0,413.4 L914.0,414.8 L916.0,416.3 L918.0,417.7 L920.0,419.2 L922.0,420.6 L924.0,422.1 L926.0,423.6 L928.0,425.1 L930.0,426.6 L932.0,428.1 L934.0,429.6 L936.0,431.1 L938.0,432.6 L940.0,434.2 L942.0,435.7 L944.0,437.3 L946.0,438.8 L948.0,440.4 L950.0,442.0 L952.0,443.6 L954.0,445.2 L956.0,446.8 L958.0,448.4 L960.0,450.0 L962.0,451.7 L964.0,453.3 L966.0,454.9 L968.0,456.6 L970.0,458.2 L972.0,459.9 L974.0,461.6 L976.0,463.2 L978.0,464.9 L980.0,466.5 L982.0,468.2 L984.0,469.9 L986.0,471.5 L988.0,473.2 L990.0,474.8 L992.0,476.5 L994.0,478.1 L996.0,479.8 L998.0,481.4 L1000.0,483.1 L1002.0,484.7 L1004.0,486.3 L1006.0,488.0 L1008.0,489.6 L1010.0,491.2 L1012.0,492.8 L1014.0,494.5 L1016.0,496.1 L1018.0,497.7 L1020.0,499.3 L1022.0,500.9 L1024.0,502.6 L1026.0,504.2 L1028.0,505.8 L1030.0,507.4 L1032.0,509.0 L1034.0,510.6 L1036.0,512.3 L1038.0,513.9 L1040.0,515.5 L1042.0,517.1 L1044.0,518.7 L1046.0,520.4 L1048.0,522.0 L1050.0,523.6 L1052.0,525.2 L1054.0,526.9 L1056.0,528.5 L1058.0,530.1 L1060.0,531.7 L1062.0,533.4 L1064.0,535.0 L1066.0,536.7 L1068.0,538.3 L1070.0,539.9 L1072.0,541.6 L1074.0,543.3 L1076.0,544.9 L1078.0,546.6 L1080.0,548.2 L1082.0,549.9 L1084.0,551.6 L1086.0,553.3 L1088.0,555.0 L1090.0,556.6 L1092.0,558.3 L1094.0,560.0 L1096.0,561.7 L1098.0,563.4 L1100.0,565.2 L1102.0,566.9 L1104.0,568.6 L1106.0,570.3 L1108.0,572.1 L1110.0,573.8 L1112.0,575.6 L1114.0,577.3 L1116.0,579.1 L1118.0,580.8 L1120.0,582.6 L1122.0,584.3 L1124.0,586.1 L1126.0,587.9 L1128.0,589.6 L1130.0,591.4 L1132.0,593.2 L1134.0,595.0 L1136.0,596.8 L1138.0,598.6 L1140.0,600.3 L1142.0,602.1 L1144.0,603.9 L1146.0,605.7 L1148.0,607.5 L1150.0,609.3 L1152.0,611.1 L1154.0,612.9 L1156.0,614.7 L1158.0,616.5 L1160.0,618.3 L1162.0,620.2 L1164.0,622.0 L1166.0,623.8 L1168.0,625.6 L1170.0,627.4 L1172.0,629.2 L1174.0,631.0 L1176.0,632.8 L1178.0,634.6 L1180.0,636.4 L1182.0,638.3 L1184.0,640.1 L1186.0,641.9 L1188.0,643.7 L1190.0,645.5 L1192.0,647.3 L1194.0,649.1 L1196.0,650.9 L1198.0,652.7 L1200.0,654.5 L1202.0,656.3 L1204.0,658.1 L1206.0,659.9 L1208.0,661.7 L1210.0,663.5 L1212.0,665.3 L1214.0,667.1 L1216.0,668.8 L1218.0,670.6 L1220.0,672.4 L1222.0,674.2 L1224.0,675.9 L1226.0,677.7 L1228.0,679.5 L1230.0,681.2 L1232.0,683.0 L1234.0,684.7 L1236.0,686.5 L1238.0,688.2 L1240.0,690.0 L1242.0,691.7 L1244.0,693.4 L1246.0,695.2 L1248.0,696.9 L1250.0,698.6 L1252.0,700.3 L1254.0,702.0 L1256.0,703.7 L1258.0,705.4 L1260.0,707.1 L1262.0,708.8 L1264.0,710.5 L1266.0,712.2 L1268.0,713.9 L1270.0,715.6 L1272.0,717.2 L1274.0,718.9 L1276.0,720.6 L1278.0,722.3 L1280.0,723.9 L1282.0,725.6 L1284.0,727.3 L1286.0,728.9 L1288.0,730.6 L1290.0,732.3 L1292.0,734.0 L1294.0,735.6 L1296.0,737.3 L1298.0,739.0 L1300.0,740.7 L1302.0,742.3 L1304.0,744.0 L1306.0,745.7 L1308.0,747.4 L1310.0,749.1 L1312.0,750.8 L1314.0,752.5 L1316.0,754.2 L1318.0,755.9 L1320.0,757.6 L1322.0,759.3 L1324.0,761.0 L1326.0,762.7 L1328.0,764.5 L1330.0,766.2 L1332.0,767.9 L1334.0,769.7 L1336.0,771.4 L1338.0,773.2 L1340.0,775.0 L1342.0,776.7 L1344.0,778.5 L1346.0,780.3" fill="none" stroke="#8EA9D4" stroke-width="3.2" stroke-linejoin="round"/>
<rect x="159.6" y="98.5" width="7.6" height="7.6" fill="#8EA9D4"/>
<rect x="179.1" y="106.2" width="7.6" height="7.6" fill="#8EA9D4"/>
<rect x="200.9" y="114.7" width="7.6" height="7.6" fill="#8EA9D4"/>
<rect x="221.2" y="122.5" width="7.6" height="7.6" fill="#8EA9D4"/>
<rect x="242.2" y="130.5" width="7.6" height="7.6" fill="#8EA9D4"/>
<rect x="263.1" y="138.3" width="7.6" height="7.6" fill="#8EA9D4"/>
<rect x="283.0" y="145.6" width="7.6" height="7.6" fill="#8EA9D4"/>
<rect x="302.9" y="152.8" width="7.6" height="7.6" fill="#8EA9D4"/>
<rect x="322.7" y="159.8" width="7.6" height="7.6" fill="#8EA9D4"/>
<rect x="341.5" y="166.3" width="7.6" height="7.6" fill="#8EA9D4"/>
<rect x="361.3" y="173.0" width="7.6" height="7.6" fill="#8EA9D4"/>
<rect x="380.1" y="179.2" width="7.6" height="7.6" fill="#8EA9D4"/>
<rect x="399.9" y="185.6" width="7.6" height="7.6" fill="#8EA9D4"/>
<rect x="418.6" y="191.5" width="7.6" height="7.6" fill="#8EA9D4"/>
<rect x="435.6" y="196.6" width="7.6" height="7.6" fill="#8EA9D4"/>
<rect x="455.1" y="202.4" width="7.6" height="7.6" fill="#8EA9D4"/>
<rect x="474.5" y="207.9" width="7.6" height="7.6" fill="#8EA9D4"/>
<rect x="492.4" y="213.0" width="7.6" height="7.6" fill="#8EA9D4"/>
<rect x="513.9" y="219.1" width="7.6" height="7.6" fill="#8EA9D4"/>
<rect x="535.0" y="225.1" width="7.6" height="7.6" fill="#8EA9D4"/>
<rect x="556.1" y="231.4" width="7.6" height="7.6" fill="#8EA9D4"/>
<rect x="577.8" y="238.2" width="7.6" height="7.6" fill="#8EA9D4"/>
<rect x="598.2" y="244.9" width="7.6" height="7.6" fill="#8EA9D4"/>
<rect x="619.2" y="252.4" width="7.6" height="7.6" fill="#8EA9D4"/>
<rect x="641.2" y="260.9" width="7.6" height="7.6" fill="#8EA9D4"/>
<rect x="664.2" y="270.6" width="7.6" height="7.6" fill="#8EA9D4"/>
<rect x="686.7" y="280.7" width="7.6" height="7.6" fill="#8EA9D4"/>
<rect x="709.2" y="291.2" width="7.6" height="7.6" fill="#8EA9D4"/>
<rect x="733.2" y="302.6" width="7.6" height="7.6" fill="#8EA9D4"/>
<rect x="759.8" y="315.0" width="7.6" height="7.6" fill="#8EA9D4"/>
<rect x="786.2" y="328.0" width="7.6" height="7.6" fill="#8EA9D4"/>
<rect x="816.2" y="346.0" width="7.6" height="7.6" fill="#8EA9D4"/>
<rect x="851.2" y="369.9" width="7.6" height="7.6" fill="#8EA9D4"/>
<rect x="895.2" y="400.3" width="7.6" height="7.6" fill="#8EA9D4"/>
<rect x="960.2" y="449.5" width="7.6" height="7.6" fill="#8EA9D4"/>
<rect x="1016.2" y="495.5" width="7.6" height="7.6" fill="#8EA9D4"/>
<rect x="1089.2" y="555.4" width="7.6" height="7.6" fill="#8EA9D4"/>
<rect x="1195.2" y="649.8" width="7.6" height="7.6" fill="#8EA9D4"/>
<path d="M146.0,96.2 L148.0,97.1 L150.0,98.0 L152.0,98.9 L154.0,99.8 L156.0,100.7 L158.0,101.5 L160.0,102.4 L162.0,103.3 L164.0,104.1 L166.0,105.0 L168.0,105.8 L170.0,106.6 L172.0,107.5 L174.0,108.3 L176.0,109.1 L178.0,109.9 L180.0,110.8 L182.0,111.6 L184.0,112.4 L186.0,113.2 L188.0,113.9 L190.0,114.7 L192.0,115.5 L194.0,116.3 L196.0,117.1 L198.0,117.8 L200.0,118.6 L202.0,119.4 L204.0,120.1 L206.0,120.9 L208.0,121.6 L210.0,122.4 L212.0,123.1 L214.0,123.9 L216.0,124.6 L218.0,125.4 L220.0,126.1 L222.0,126.8 L224.0,127.6 L226.0,128.3 L228.0,129.0 L230.0,129.8 L232.0,130.5 L234.0,131.2 L236.0,132.0 L238.0,132.7 L240.0,133.4 L242.0,134.1 L244.0,134.9 L246.0,135.6 L248.0,136.3 L250.0,137.0 L252.0,137.8 L254.0,138.5 L256.0,139.2 L258.0,140.0 L260.0,140.7 L262.0,141.4 L264.0,142.2 L266.0,142.9 L268.0,143.6 L270.0,144.4 L272.0,145.1 L274.0,145.8 L276.0,146.6 L278.0,147.3 L280.0,148.1 L282.0,148.8 L284.0,149.6 L286.0,150.4 L288.0,151.1 L290.0,151.9 L292.0,152.7 L294.0,153.4 L296.0,154.2 L298.0,155.0 L300.0,155.8 L302.0,156.6 L304.0,157.3 L306.0,158.1 L308.0,158.9 L310.0,159.8 L312.0,160.6 L314.0,161.4 L316.0,162.2 L318.0,163.0 L320.0,163.8 L322.0,164.6 L324.0,165.5 L326.0,166.3 L328.0,167.1 L330.0,167.9 L332.0,168.7 L334.0,169.6 L336.0,170.4 L338.0,171.2 L340.0,172.0 L342.0,172.8 L344.0,173.7 L346.0,174.5 L348.0,175.3 L350.0,176.1 L352.0,176.9 L354.0,177.7 L356.0,178.5 L358.0,179.3 L360.0,180.1 L362.0,180.9 L364.0,181.7 L366.0,182.5 L368.0,183.3 L370.0,184.1 L372.0,184.8 L374.0,185.6 L376.0,186.4 L378.0,187.1 L380.0,187.9 L382.0,188.6 L384.0,189.3 L386.0,190.1 L388.0,190.8 L390.0,191.5 L392.0,192.2 L394.0,192.9 L396.0,193.6 L398.0,194.3 L400.0,195.0 L402.0,195.6 L404.0,196.3 L406.0,196.9 L408.0,197.6 L410.0,198.2 L412.0,198.8 L414.0,199.4 L416.0,200.0 L418.0,200.6 L420.0,201.2 L422.0,201.8 L424.0,202.4 L426.0,203.0 L428.0,203.6 L430.0,204.2 L432.0,204.8 L434.0,205.3 L436.0,205.9 L438.0,206.5 L440.0,207.0 L442.0,207.6 L444.0,208.2 L446.0,208.7 L448.0,209.3 L450.0,209.9 L452.0,210.4 L454.0,211.0 L456.0,211.6 L458.0,212.1 L460.0,212.7 L462.0,213.3 L464.0,213.9 L466.0,214.4 L468.0,215.0 L470.0,215.6 L472.0,216.2 L474.0,216.8 L476.0,217.3 L478.0,217.9 L480.0,218.5 L482.0,219.1 L484.0,219.7 L486.0,220.3 L488.0,220.9 L490.0,221.5 L492.0,222.1 L494.0,222.7 L496.0,223.2 L498.0,223.8 L500.0,224.4 L502.0,225.0 L504.0,225.6 L506.0,226.3 L508.0,226.9 L510.0,227.5 L512.0,228.1 L514.0,228.7 L516.0,229.3 L518.0,229.9 L520.0,230.5 L522.0,231.1 L524.0,231.8 L526.0,232.4 L528.0,233.0 L530.0,233.6 L532.0,234.3 L534.0,234.9 L536.0,235.5 L538.0,236.1 L540.0,236.8 L542.0,237.4 L544.0,238.0 L546.0,238.7 L548.0,239.3 L550.0,240.0 L552.0,240.6 L554.0,241.2 L556.0,241.9 L558.0,242.5 L560.0,243.2 L562.0,243.8 L564.0,244.5 L566.0,245.1 L568.0,245.8 L570.0,246.5 L572.0,247.1 L574.0,247.8 L576.0,248.5 L578.0,249.1 L580.0,249.8 L582.0,250.5 L584.0,251.1 L586.0,251.8 L588.0,252.5 L590.0,253.2 L592.0,253.9 L594.0,254.5 L596.0,255.2 L598.0,255.9 L600.0,256.6 L602.0,257.3 L604.0,258.0 L606.0,258.7 L608.0,259.4 L610.0,260.1 L612.0,260.8 L614.0,261.5 L616.0,262.2 L618.0,262.9 L620.0,263.6 L622.0,264.3 L624.0,265.1 L626.0,265.8 L628.0,266.5 L630.0,267.2 L632.0,268.0 L634.0,268.7 L636.0,269.4 L638.0,270.2 L640.0,270.9 L642.0,271.6 L644.0,272.4 L646.0,273.1 L648.0,273.9 L650.0,274.6 L652.0,275.4 L654.0,276.1 L656.0,276.9 L658.0,277.6 L660.0,278.4 L662.0,279.2 L664.0,279.9 L666.0,280.7 L668.0,281.5 L670.0,282.3 L672.0,283.0 L674.0,283.8 L676.0,284.6 L678.0,285.4 L680.0,286.2 L682.0,287.0 L684.0,287.8 L686.0,288.6 L688.0,289.4 L690.0,290.2 L692.0,291.0 L694.0,291.9 L696.0,292.7 L698.0,293.5 L700.0,294.4 L702.0,295.2 L704.0,296.1 L706.0,296.9 L708.0,297.8 L710.0,298.6 L712.0,299.5 L714.0,300.4 L716.0,301.2 L718.0,302.1 L720.0,303.0 L722.0,303.9 L724.0,304.8 L726.0,305.7 L728.0,306.6 L730.0,307.5 L732.0,308.4 L734.0,309.4 L736.0,310.3 L738.0,311.2 L740.0,312.2 L742.0,313.1 L744.0,314.1 L746.0,315.0 L748.0,316.0 L750.0,317.0 L752.0,318.0 L754.0,318.9 L756.0,319.9 L758.0,320.9 L760.0,322.0 L762.0,323.0 L764.0,324.0 L766.0,325.0 L768.0,326.1 L770.0,327.1 L772.0,328.2 L774.0,329.2 L776.0,330.3 L778.0,331.4 L780.0,332.5 L782.0,333.5 L784.0,334.6 L786.0,335.8 L788.0,336.9 L790.0,338.0 L792.0,339.1 L794.0,340.3 L796.0,341.4 L798.0,342.6 L800.0,343.7 L802.0,344.9 L804.0,346.1 L806.0,347.3 L808.0,348.5 L810.0,349.7 L812.0,350.9 L814.0,352.1 L816.0,353.4 L818.0,354.6 L820.0,355.8 L822.0,357.1 L824.0,358.3 L826.0,359.6 L828.0,360.9 L830.0,362.2 L832.0,363.4 L834.0,364.7 L836.0,366.0 L838.0,367.3 L840.0,368.6 L842.0,369.9 L844.0,371.2 L846.0,372.5 L848.0,373.9 L850.0,375.2 L852.0,376.5 L854.0,377.8 L856.0,379.2 L858.0,380.5 L860.0,381.8 L862.0,383.2 L864.0,384.5 L866.0,385.9 L868.0,387.2 L870.0,388.6 L872.0,389.9 L874.0,391.3 L876.0,392.6 L878.0,394.0 L880.0,395.3 L882.0,396.7 L884.0,398.0 L886.0,399.4 L888.0,400.7 L890.0,402.1 L892.0,403.4 L894.0,404.8 L896.0,406.1 L898.0,407.5 L900.0,408.8 L902.0,410.2 L904.0,411.5 L906.0,412.9 L908.0,414.2 L910.0,415.6 L912.0,416.9 L914.0,418.3 L916.0,419.6 L918.0,421.0 L920.0,422.4 L922.0,423.7 L924.0,425.1 L926.0,426.5 L928.0,427.9 L930.0,429.3 L932.0,430.7 L934.0,432.2 L936.0,433.6 L938.0,435.1 L940.0,436.5 L942.0,438.0 L944.0,439.5 L946.0,441.0 L948.0,442.5 L950.0,444.1 L952.0,445.7 L954.0,447.2 L956.0,448.8 L958.0,450.5 L960.0,452.1 L962.0,453.7 L964.0,455.4 L966.0,457.0 L968.0,458.7 L970.0,460.4 L972.0,462.0 L974.0,463.7 L976.0,465.4 L978.0,467.1 L980.0,468.7 L982.0,470.4 L984.0,472.1 L986.0,473.7 L988.0,475.4 L990.0,477.0 L992.0,478.6 L994.0,480.3 L996.0,481.9 L998.0,483.5 L1000.0,485.1 L1002.0,486.7 L1004.0,488.3 L1006.0,489.8 L1008.0,491.4 L1010.0,493.0 L1012.0,494.5 L1014.0,496.1 L1016.0,497.6 L1018.0,499.2 L1020.0,500.7 L1022.0,502.3 L1024.0,503.8 L1026.0,505.4 L1028.0,506.9 L1030.0,508.5 L1032.0,510.0 L1034.0,511.6 L1036.0,513.2 L1038.0,514.7 L1040.0,516.3 L1042.0,517.8 L1044.0,519.4 L1046.0,521.0 L1048.0,522.6 L1050.0,524.2 L1052.0,525.8 L1054.0,527.4 L1056.0,529.0 L1058.0,530.6 L1060.0,532.2 L1062.0,533.9 L1064.0,535.5 L1066.0,537.2 L1068.0,538.8 L1070.0,540.5 L1072.0,542.2 L1074.0,543.8 L1076.0,545.5 L1078.0,547.2 L1080.0,548.9 L1082.0,550.6 L1084.0,552.3 L1086.0,554.0 L1088.0,555.7 L1090.0,557.4 L1092.0,559.1 L1094.0,560.8 L1096.0,562.6 L1098.0,564.3 L1100.0,566.0 L1102.0,567.8 L1104.0,569.5 L1106.0,571.3 L1108.0,573.0 L1110.0,574.8 L1112.0,576.5 L1114.0,578.3 L1116.0,580.0 L1118.0,581.8 L1120.0,583.6 L1122.0,585.3 L1124.0,587.1 L1126.0,588.9 L1128.0,590.6 L1130.0,592.4 L1132.0,594.2 L1134.0,595.9 L1136.0,597.7 L1138.0,599.5 L1140.0,601.3 L1142.0,603.0 L1144.0,604.8 L1146.0,606.6 L1148.0,608.4 L1150.0,610.2 L1152.0,611.9 L1154.0,613.7 L1156.0,615.5 L1158.0,617.3 L1160.0,619.0 L1162.0,620.8 L1164.0,622.6 L1166.0,624.3 L1168.0,626.1 L1170.0,627.9 L1172.0,629.7 L1174.0,631.4 L1176.0,633.2 L1178.0,635.0 L1180.0,636.7 L1182.0,638.5 L1184.0,640.3 L1186.0,642.0 L1188.0,643.8 L1190.0,645.6 L1192.0,647.3 L1194.0,649.1 L1196.0,650.9 L1198.0,652.6 L1200.0,654.4 L1202.0,656.1 L1204.0,657.9 L1206.0,659.7 L1208.0,661.4 L1210.0,663.2 L1212.0,664.9 L1214.0,666.7 L1216.0,668.4 L1218.0,670.2 L1220.0,671.9 L1222.0,673.7 L1224.0,675.5 L1226.0,677.2 L1228.0,678.9 L1230.0,680.7 L1232.0,682.4 L1234.0,684.2 L1236.0,685.9 L1238.0,687.7 L1240.0,689.4 L1242.0,691.2 L1244.0,692.9 L1246.0,694.6 L1248.0,696.4 L1250.0,698.1 L1252.0,699.9 L1254.0,701.6 L1256.0,703.3 L1258.0,705.1 L1260.0,706.8 L1262.0,708.5 L1264.0,710.3 L1266.0,712.0 L1268.0,713.7 L1270.0,715.4 L1272.0,717.2 L1274.0,718.9 L1276.0,720.6 L1278.0,722.3 L1280.0,724.1 L1282.0,725.8 L1284.0,727.5 L1286.0,729.2 L1288.0,730.9 L1290.0,732.6 L1292.0,734.3 L1294.0,736.1 L1296.0,737.8 L1298.0,739.5 L1300.0,741.2 L1302.0,742.9 L1304.0,744.6 L1306.0,746.3 L1308.0,748.0 L1310.0,749.7 L1312.0,751.4 L1314.0,753.1 L1316.0,754.8 L1318.0,756.5 L1320.0,758.2 L1322.0,759.9 L1324.0,761.5 L1326.0,763.2 L1328.0,764.9 L1330.0,766.6 L1332.0,768.3 L1334.0,770.0 L1336.0,771.6 L1338.0,773.3 L1340.0,775.0 L1342.0,776.7 L1344.0,778.3 L1346.0,780.0" fill="none" stroke="#77A047" stroke-width="3.2" stroke-linejoin="round"/>
<path d="M146.0,96.9 L148.0,97.7 L150.0,98.6 L152.0,99.5 L154.0,100.4 L156.0,101.2 L158.0,102.1 L160.0,102.9 L162.0,103.8 L164.0,104.6 L166.0,105.5 L168.0,106.3 L170.0,107.2 L172.0,108.0 L174.0,108.8 L176.0,109.6 L178.0,110.5 L180.0,111.3 L182.0,112.1 L184.0,112.9 L186.0,113.7 L188.0,114.5 L190.0,115.3 L192.0,116.1 L194.0,116.9 L196.0,117.7 L198.0,118.5 L200.0,119.2 L202.0,120.0 L204.0,120.8 L206.0,121.6 L208.0,122.4 L210.0,123.1 L212.0,123.9 L214.0,124.7 L216.0,125.4 L218.0,126.2 L220.0,127.0 L222.0,127.7 L224.0,128.5 L226.0,129.3 L228.0,130.0 L230.0,130.8 L232.0,131.5 L234.0,132.3 L236.0,133.1 L238.0,133.8 L240.0,134.6 L242.0,135.3 L244.0,136.1 L246.0,136.8 L248.0,137.6 L250.0,138.3 L252.0,139.1 L254.0,139.8 L256.0,140.6 L258.0,141.4 L260.0,142.1 L262.0,142.9 L264.0,143.6 L266.0,144.4 L268.0,145.1 L270.0,145.9 L272.0,146.7 L274.0,147.4 L276.0,148.2 L278.0,149.0 L280.0,149.7 L282.0,150.5 L284.0,151.3 L286.0,152.0 L288.0,152.8 L290.0,153.6 L292.0,154.4 L294.0,155.1 L296.0,155.9 L298.0,156.7 L300.0,157.5 L302.0,158.3 L304.0,159.1 L306.0,159.9 L308.0,160.7 L310.0,161.5 L312.0,162.3 L314.0,163.1 L316.0,163.9 L318.0,164.7 L320.0,165.5 L322.0,166.3 L324.0,167.1 L326.0,168.0 L328.0,168.8 L330.0,169.6 L332.0,170.4 L334.0,171.2 L336.0,172.0 L338.0,172.9 L340.0,173.7 L342.0,174.5 L344.0,175.3 L346.0,176.1 L348.0,177.0 L350.0,177.8 L352.0,178.6 L354.0,179.4 L356.0,180.2 L358.0,181.1 L360.0,181.9 L362.0,182.7 L364.0,183.5 L366.0,184.3 L368.0,185.1 L370.0,185.9 L372.0,186.8 L374.0,187.6 L376.0,188.4 L378.0,189.2 L380.0,190.0 L382.0,190.8 L384.0,191.6 L386.0,192.4 L388.0,193.2 L390.0,194.0 L392.0,194.7 L394.0,195.5 L396.0,196.3 L398.0,197.1 L400.0,197.9 L402.0,198.6 L404.0,199.4 L406.0,200.2 L408.0,200.9 L410.0,201.7 L412.0,202.5 L414.0,203.2 L416.0,203.9 L418.0,204.7 L420.0,205.4 L422.0,206.2 L424.0,206.9 L426.0,207.6 L428.0,208.3 L430.0,209.1 L432.0,209.8 L434.0,210.5 L436.0,211.2 L438.0,211.9 L440.0,212.5 L442.0,213.2 L444.0,213.9 L446.0,214.6 L448.0,215.2 L450.0,215.9 L452.0,216.5 L454.0,217.2 L456.0,217.8 L458.0,218.5 L460.0,219.1 L462.0,219.7 L464.0,220.3 L466.0,221.0 L468.0,221.6 L470.0,222.2 L472.0,222.8 L474.0,223.4 L476.0,224.0 L478.0,224.6 L480.0,225.2 L482.0,225.7 L484.0,226.3 L486.0,226.9 L488.0,227.5 L490.0,228.1 L492.0,228.7 L494.0,229.2 L496.0,229.8 L498.0,230.4 L500.0,231.0 L502.0,231.5 L504.0,232.1 L506.0,232.7 L508.0,233.3 L510.0,233.9 L512.0,234.4 L514.0,235.0 L516.0,235.6 L518.0,236.2 L520.0,236.8 L522.0,237.4 L524.0,238.0 L526.0,238.6 L528.0,239.2 L530.0,239.8 L532.0,240.4 L534.0,241.0 L536.0,241.6 L538.0,242.2 L540.0,242.9 L542.0,243.5 L544.0,244.1 L546.0,244.8 L548.0,245.4 L550.0,246.1 L552.0,246.8 L554.0,247.4 L556.0,248.1 L558.0,248.8 L560.0,249.5 L562.0,250.2 L564.0,250.8 L566.0,251.6 L568.0,252.3 L570.0,253.0 L572.0,253.7 L574.0,254.4 L576.0,255.1 L578.0,255.9 L580.0,256.6 L582.0,257.4 L584.0,258.1 L586.0,258.8 L588.0,259.6 L590.0,260.4 L592.0,261.1 L594.0,261.9 L596.0,262.6 L598.0,263.4 L600.0,264.2 L602.0,265.0 L604.0,265.7 L606.0,266.5 L608.0,267.3 L610.0,268.1 L612.0,268.9 L614.0,269.7 L616.0,270.4 L618.0,271.2 L620.0,272.0 L622.0,272.8 L624.0,273.6 L626.0,274.4 L628.0,275.2 L630.0,276.0 L632.0,276.8 L634.0,277.6 L636.0,278.4 L638.0,279.2 L640.0,280.0 L642.0,280.8 L644.0,281.6 L646.0,282.4 L648.0,283.2 L650.0,284.0 L652.0,284.8 L654.0,285.6 L656.0,286.4 L658.0,287.2 L660.0,288.0 L662.0,288.7 L664.0,289.5 L666.0,290.3 L668.0,291.1 L670.0,291.9 L672.0,292.7 L674.0,293.5 L676.0,294.3 L678.0,295.1 L680.0,295.9 L682.0,296.7 L684.0,297.5 L686.0,298.3 L688.0,299.1 L690.0,299.9 L692.0,300.7 L694.0,301.5 L696.0,302.3 L698.0,303.1 L700.0,303.9 L702.0,304.7 L704.0,305.5 L706.0,306.3 L708.0,307.2 L710.0,308.0 L712.0,308.8 L714.0,309.6 L716.0,310.5 L718.0,311.3 L720.0,312.1 L722.0,313.0 L724.0,313.8 L726.0,314.7 L728.0,315.5 L730.0,316.4 L732.0,317.2 L734.0,318.1 L736.0,319.0 L738.0,319.8 L740.0,320.7 L742.0,321.6 L744.0,322.5 L746.0,323.4 L748.0,324.3 L750.0,325.2 L752.0,326.1 L754.0,327.0 L756.0,327.9 L758.0,328.8 L760.0,329.8 L762.0,330.7 L764.0,331.7 L766.0,332.6 L768.0,333.6 L770.0,334.5 L772.0,335.5 L774.0,336.5 L776.0,337.4 L778.0,338.4 L780.0,339.4 L782.0,340.4 L784.0,341.4 L786.0,342.5 L788.0,343.5 L790.0,344.5 L792.0,345.6 L794.0,346.6 L796.0,347.7 L798.0,348.7 L800.0,349.8 L802.0,350.9 L804.0,352.0 L806.0,353.1 L808.0,354.2 L810.0,355.3 L812.0,356.4 L814.0,357.6 L816.0,358.7 L818.0,359.9 L820.0,361.0 L822.0,362.2 L824.0,363.3 L826.0,364.5 L828.0,365.7 L830.0,366.9 L832.0,368.1 L834.0,369.3 L836.0,370.5 L838.0,371.7 L840.0,372.9 L842.0,374.2 L844.0,375.4 L846.0,376.6 L848.0,377.9 L850.0,379.1 L852.0,380.4 L854.0,381.6 L856.0,382.9 L858.0,384.2 L860.0,385.4 L862.0,386.7 L864.0,388.0 L866.0,389.3 L868.0,390.6 L870.0,391.9 L872.0,393.2 L874.0,394.5 L876.0,395.8 L878.0,397.1 L880.0,398.4 L882.0,399.7 L884.0,401.0 L886.0,402.4 L888.0,403.7 L890.0,405.0 L892.0,406.4 L894.0,407.7 L896.0,409.0 L898.0,410.4 L900.0,411.7 L902.0,413.1 L904.0,414.4 L906.0,415.7 L908.0,417.1 L910.0,418.4 L912.0,419.8 L914.0,421.2 L916.0,422.5 L918.0,423.9 L920.0,425.3 L922.0,426.7 L924.0,428.0 L926.0,429.4 L928.0,430.8 L930.0,432.2 L932.0,433.6 L934.0,435.0 L936.0,436.5 L938.0,437.9 L940.0,439.3 L942.0,440.8 L944.0,442.2 L946.0,443.7 L948.0,445.2 L950.0,446.6 L952.0,448.1 L954.0,449.6 L956.0,451.1 L958.0,452.6 L960.0,454.2 L962.0,455.7 L964.0,457.2 L966.0,458.8 L968.0,460.3 L970.0,461.9 L972.0,463.4 L974.0,465.0 L976.0,466.5 L978.0,468.1 L980.0,469.7 L982.0,471.2 L984.0,472.8 L986.0,474.3 L988.0,475.9 L990.0,477.5 L992.0,479.0 L994.0,480.6 L996.0,482.2 L998.0,483.7 L1000.0,485.3 L1002.0,486.9 L1004.0,488.4 L1006.0,490.0 L1008.0,491.6 L1010.0,493.1 L1012.0,494.7 L1014.0,496.2 L1016.0,497.8 L1018.0,499.4 L1020.0,501.0 L1022.0,502.5 L1024.0,504.1 L1026.0,505.7 L1028.0,507.3 L1030.0,508.8 L1032.0,510.4 L1034.0,512.0 L1036.0,513.6 L1038.0,515.2 L1040.0,516.8 L1042.0,518.4 L1044.0,520.0 L1046.0,521.6 L1048.0,523.3 L1050.0,524.9 L1052.0,526.5 L1054.0,528.1 L1056.0,529.8 L1058.0,531.4 L1060.0,533.1 L1062.0,534.7 L1064.0,536.4 L1066.0,538.1 L1068.0,539.7 L1070.0,541.4 L1072.0,543.1 L1074.0,544.7 L1076.0,546.4 L1078.0,548.1 L1080.0,549.8 L1082.0,551.5 L1084.0,553.2 L1086.0,554.9 L1088.0,556.6 L1090.0,558.3 L1092.0,560.0 L1094.0,561.7 L1096.0,563.4 L1098.0,565.2 L1100.0,566.9 L1102.0,568.6 L1104.0,570.3 L1106.0,572.1 L1108.0,573.8 L1110.0,575.5 L1112.0,577.3 L1114.0,579.0 L1116.0,580.8 L1118.0,582.5 L1120.0,584.2 L1122.0,586.0 L1124.0,587.7 L1126.0,589.5 L1128.0,591.2 L1130.0,593.0 L1132.0,594.7 L1134.0,596.5 L1136.0,598.2 L1138.0,600.0 L1140.0,601.8 L1142.0,603.5 L1144.0,605.3 L1146.0,607.0 L1148.0,608.8 L1150.0,610.5 L1152.0,612.3 L1154.0,614.1 L1156.0,615.8 L1158.0,617.6 L1160.0,619.3 L1162.0,621.1 L1164.0,622.8 L1166.0,624.6 L1168.0,626.4 L1170.0,628.1 L1172.0,629.9 L1174.0,631.6 L1176.0,633.4 L1178.0,635.1 L1180.0,636.9 L1182.0,638.7 L1184.0,640.4 L1186.0,642.2 L1188.0,643.9 L1190.0,645.7 L1192.0,647.4 L1194.0,649.2 L1196.0,650.9 L1198.0,652.7 L1200.0,654.5 L1202.0,656.2 L1204.0,658.0 L1206.0,659.7 L1208.0,661.5 L1210.0,663.2 L1212.0,665.0 L1214.0,666.7 L1216.0,668.5 L1218.0,670.2 L1220.0,672.0 L1222.0,673.7 L1224.0,675.5 L1226.0,677.2 L1228.0,679.0 L1230.0,680.7 L1232.0,682.4 L1234.0,684.2 L1236.0,685.9 L1238.0,687.7 L1240.0,689.4 L1242.0,691.2 L1244.0,692.9 L1246.0,694.6 L1248.0,696.4 L1250.0,698.1 L1252.0,699.8 L1254.0,701.6 L1256.0,703.3 L1258.0,705.0 L1260.0,706.8 L1262.0,708.5 L1264.0,710.2 L1266.0,712.0 L1268.0,713.7 L1270.0,715.4 L1272.0,717.1 L1274.0,718.9 L1276.0,720.6 L1278.0,722.3 L1280.0,724.0 L1282.0,725.8 L1284.0,727.5 L1286.0,729.2 L1288.0,730.9 L1290.0,732.6 L1292.0,734.3 L1294.0,736.1 L1296.0,737.8 L1298.0,739.5 L1300.0,741.2 L1302.0,742.9 L1304.0,744.6 L1306.0,746.3 L1308.0,748.0 L1310.0,749.7 L1312.0,751.4 L1314.0,753.1 L1316.0,754.8 L1318.0,756.5 L1320.0,758.2 L1322.0,759.9 L1324.0,761.5 L1326.0,763.2 L1328.0,764.9 L1330.0,766.6 L1332.0,768.3 L1334.0,770.0 L1336.0,771.6 L1338.0,773.3 L1340.0,775.0 L1342.0,776.7 L1344.0,778.3 L1346.0,780.0" fill="none" stroke="#D49499" stroke-width="3.2" stroke-linejoin="round"/>
<path d="M146.0,97.6 L148.0,98.4 L150.0,99.3 L152.0,100.1 L154.0,100.9 L156.0,101.8 L158.0,102.6 L160.0,103.4 L162.0,104.3 L164.0,105.1 L166.0,105.9 L168.0,106.8 L170.0,107.6 L172.0,108.4 L174.0,109.2 L176.0,110.0 L178.0,110.8 L180.0,111.7 L182.0,112.5 L184.0,113.3 L186.0,114.1 L188.0,114.9 L190.0,115.7 L192.0,116.5 L194.0,117.3 L196.0,118.1 L198.0,118.9 L200.0,119.7 L202.0,120.5 L204.0,121.3 L206.0,122.1 L208.0,122.9 L210.0,123.7 L212.0,124.5 L214.0,125.3 L216.0,126.1 L218.0,126.9 L220.0,127.7 L222.0,128.5 L224.0,129.3 L226.0,130.1 L228.0,130.9 L230.0,131.7 L232.0,132.5 L234.0,133.3 L236.0,134.1 L238.0,134.9 L240.0,135.7 L242.0,136.4 L244.0,137.2 L246.0,138.0 L248.0,138.8 L250.0,139.6 L252.0,140.4 L254.0,141.2 L256.0,142.0 L258.0,142.8 L260.0,143.6 L262.0,144.3 L264.0,145.1 L266.0,145.9 L268.0,146.7 L270.0,147.5 L272.0,148.3 L274.0,149.1 L276.0,149.9 L278.0,150.7 L280.0,151.5 L282.0,152.3 L284.0,153.1 L286.0,153.9 L288.0,154.7 L290.0,155.5 L292.0,156.3 L294.0,157.1 L296.0,157.9 L298.0,158.7 L300.0,159.5 L302.0,160.3 L304.0,161.1 L306.0,161.9 L308.0,162.7 L310.0,163.5 L312.0,164.3 L314.0,165.1 L316.0,165.9 L318.0,166.7 L320.0,167.6 L322.0,168.4 L324.0,169.2 L326.0,170.0 L328.0,170.8 L330.0,171.6 L332.0,172.4 L334.0,173.2 L336.0,174.1 L338.0,174.9 L340.0,175.7 L342.0,176.5 L344.0,177.3 L346.0,178.1 L348.0,178.9 L350.0,179.8 L352.0,180.6 L354.0,181.4 L356.0,182.2 L358.0,183.0 L360.0,183.8 L362.0,184.6 L364.0,185.4 L366.0,186.3 L368.0,187.1 L370.0,187.9 L372.0,188.7 L374.0,189.5 L376.0,190.3 L378.0,191.1 L380.0,191.9 L382.0,192.7 L384.0,193.5 L386.0,194.3 L388.0,195.1 L390.0,195.9 L392.0,196.7 L394.0,197.5 L396.0,198.3 L398.0,199.1 L400.0,199.9 L402.0,200.7 L404.0,201.5 L406.0,202.3 L408.0,203.1 L410.0,203.9 L412.0,204.7 L414.0,205.4 L416.0,206.2 L418.0,207.0 L420.0,207.8 L422.0,208.6 L424.0,209.3 L426.0,210.1 L428.0,210.9 L430.0,211.7 L432.0,212.4 L434.0,213.2 L436.0,214.0 L438.0,214.7 L440.0,215.5 L442.0,216.2 L444.0,217.0 L446.0,217.7 L448.0,218.5 L450.0,219.2 L452.0,220.0 L454.0,220.7 L456.0,221.5 L458.0,222.2 L460.0,222.9 L462.0,223.7 L464.0,224.4 L466.0,225.1 L468.0,225.8 L470.0,226.6 L472.0,227.3 L474.0,228.0 L476.0,228.7 L478.0,229.4 L480.0,230.2 L482.0,230.9 L484.0,231.6 L486.0,232.3 L488.0,233.0 L490.0,233.7 L492.0,234.4 L494.0,235.1 L496.0,235.8 L498.0,236.5 L500.0,237.2 L502.0,237.9 L504.0,238.6 L506.0,239.3 L508.0,240.0 L510.0,240.7 L512.0,241.4 L514.0,242.1 L516.0,242.8 L518.0,243.5 L520.0,244.2 L522.0,244.8 L524.0,245.5 L526.0,246.2 L528.0,246.9 L530.0,247.6 L532.0,248.3 L534.0,249.0 L536.0,249.7 L538.0,250.4 L540.0,251.0 L542.0,251.7 L544.0,252.4 L546.0,253.1 L548.0,253.8 L550.0,254.5 L552.0,255.2 L554.0,255.9 L556.0,256.5 L558.0,257.2 L560.0,257.9 L562.0,258.6 L564.0,259.3 L566.0,260.0 L568.0,260.7 L570.0,261.4 L572.0,262.1 L574.0,262.8 L576.0,263.5 L578.0,264.2 L580.0,264.9 L582.0,265.6 L584.0,266.3 L586.0,267.0 L588.0,267.7 L590.0,268.4 L592.0,269.1 L594.0,269.8 L596.0,270.5 L598.0,271.2 L600.0,272.0 L602.0,272.7 L604.0,273.4 L606.0,274.1 L608.0,274.8 L610.0,275.6 L612.0,276.3 L614.0,277.0 L616.0,277.7 L618.0,278.5 L620.0,279.2 L622.0,279.9 L624.0,280.7 L626.0,281.4 L628.0,282.2 L630.0,282.9 L632.0,283.7 L634.0,284.4 L636.0,285.2 L638.0,285.9 L640.0,286.7 L642.0,287.5 L644.0,288.2 L646.0,289.0 L648.0,289.8 L650.0,290.5 L652.0,291.3 L654.0,292.1 L656.0,292.9 L658.0,293.7 L660.0,294.5 L662.0,295.3 L664.0,296.1 L666.0,296.9 L668.0,297.7 L670.0,298.5 L672.0,299.3 L674.0,300.1 L676.0,300.9 L678.0,301.8 L680.0,302.6 L682.0,303.4 L684.0,304.2 L686.0,305.1 L688.0,305.9 L690.0,306.8 L692.0,307.6 L694.0,308.5 L696.0,309.3 L698.0,310.2 L700.0,311.0 L702.0,311.9 L704.0,312.8 L706.0,313.6 L708.0,314.5 L710.0,315.4 L712.0,316.3 L714.0,317.1 L716.0,318.0 L718.0,318.9 L720.0,319.8 L722.0,320.7 L724.0,321.6 L726.0,322.5 L728.0,323.4 L730.0,324.3 L732.0,325.3 L734.0,326.2 L736.0,327.1 L738.0,328.0 L740.0,329.0 L742.0,329.9 L744.0,330.8 L746.0,331.8 L748.0,332.7 L750.0,333.7 L752.0,334.6 L754.0,335.6 L756.0,336.6 L758.0,337.5 L760.0,338.5 L762.0,339.5 L764.0,340.4 L766.0,341.4 L768.0,342.4 L770.0,343.4 L772.0,344.4 L774.0,345.4 L776.0,346.4 L778.0,347.4 L780.0,348.4 L782.0,349.4 L784.0,350.4 L786.0,351.4 L788.0,352.5 L790.0,353.5 L792.0,354.5 L794.0,355.6 L796.0,356.6 L798.0,357.6 L800.0,358.7 L802.0,359.7 L804.0,360.8 L806.0,361.9 L808.0,362.9 L810.0,364.0 L812.0,365.1 L814.0,366.1 L816.0,367.2 L818.0,368.3 L820.0,369.4 L822.0,370.5 L824.0,371.6 L826.0,372.7 L828.0,373.8 L830.0,374.9 L832.0,376.0 L834.0,377.1 L836.0,378.3 L838.0,379.4 L840.0,380.5 L842.0,381.7 L844.0,382.8 L846.0,383.9 L848.0,385.1 L850.0,386.3 L852.0,387.4 L854.0,388.6 L856.0,389.8 L858.0,390.9 L860.0,392.1 L862.0,393.3 L864.0,394.5 L866.0,395.7 L868.0,396.9 L870.0,398.1 L872.0,399.3 L874.0,400.5 L876.0,401.7 L878.0,402.9 L880.0,404.2 L882.0,405.4 L884.0,406.6 L886.0,407.9 L888.0,409.1 L890.0,410.4 L892.0,411.7 L894.0,412.9 L896.0,414.2 L898.0,415.5 L900.0,416.8 L902.0,418.0 L904.0,419.3 L906.0,420.6 L908.0,421.9 L910.0,423.2 L912.0,424.6 L914.0,425.9 L916.0,427.2 L918.0,428.5 L920.0,429.9 L922.0,431.2 L924.0,432.6 L926.0,433.9 L928.0,435.3 L930.0,436.6 L932.0,438.0 L934.0,439.4 L936.0,440.8 L938.0,442.2 L940.0,443.6 L942.0,445.0 L944.0,446.4 L946.0,447.8 L948.0,449.2 L950.0,450.6 L952.0,452.1 L954.0,453.5 L956.0,454.9 L958.0,456.4 L960.0,457.8 L962.0,459.3 L964.0,460.8 L966.0,462.2 L968.0,463.7 L970.0,465.2 L972.0,466.6 L974.0,468.1 L976.0,469.6 L978.0,471.1 L980.0,472.6 L982.0,474.0 L984.0,475.5 L986.0,477.0 L988.0,478.5 L990.0,480.0 L992.0,481.5 L994.0,482.9 L996.0,484.4 L998.0,485.9 L1000.0,487.4 L1002.0,488.9 L1004.0,490.4 L1006.0,491.9 L1008.0,493.4 L1010.0,494.8 L1012.0,496.3 L1014.0,497.8 L1016.0,499.3 L1018.0,500.8 L1020.0,502.3 L1022.0,503.9 L1024.0,505.4 L1026.0,506.9 L1028.0,508.4 L1030.0,509.9 L1032.0,511.5 L1034.0,513.0 L1036.0,514.5 L1038.0,516.1 L1040.0,517.6 L1042.0,519.2 L1044.0,520.8 L1046.0,522.3 L1048.0,523.9 L1050.0,525.5 L1052.0,527.1 L1054.0,528.7 L1056.0,530.3 L1058.0,531.9 L1060.0,533.5 L1062.0,535.1 L1064.0,536.8 L1066.0,538.4 L1068.0,540.1 L1070.0,541.7 L1072.0,543.4 L1074.0,545.0 L1076.0,546.7 L1078.0,548.4 L1080.0,550.0 L1082.0,551.7 L1084.0,553.4 L1086.0,555.1 L1088.0,556.8 L1090.0,558.5 L1092.0,560.2 L1094.0,561.9 L1096.0,563.6 L1098.0,565.3 L1100.0,567.1 L1102.0,568.8 L1104.0,570.5 L1106.0,572.2 L1108.0,574.0 L1110.0,575.7 L1112.0,577.5 L1114.0,579.2 L1116.0,580.9 L1118.0,582.7 L1120.0,584.4 L1122.0,586.2 L1124.0,587.9 L1126.0,589.7 L1128.0,591.4 L1130.0,593.2 L1132.0,595.0 L1134.0,596.7 L1136.0,598.5 L1138.0,600.2 L1140.0,602.0 L1142.0,603.8 L1144.0,605.5 L1146.0,607.3 L1148.0,609.0 L1150.0,610.8 L1152.0,612.6 L1154.0,614.3 L1156.0,616.1 L1158.0,617.8 L1160.0,619.6 L1162.0,621.4 L1164.0,623.1 L1166.0,624.9 L1168.0,626.6 L1170.0,628.4 L1172.0,630.1 L1174.0,631.9 L1176.0,633.6 L1178.0,635.4 L1180.0,637.1 L1182.0,638.9 L1184.0,640.7 L1186.0,642.4 L1188.0,644.2 L1190.0,645.9 L1192.0,647.7 L1194.0,649.4 L1196.0,651.2 L1198.0,652.9 L1200.0,654.7 L1202.0,656.4 L1204.0,658.1 L1206.0,659.9 L1208.0,661.6 L1210.0,663.4 L1212.0,665.1 L1214.0,666.9 L1216.0,668.6 L1218.0,670.4 L1220.0,672.1 L1222.0,673.8 L1224.0,675.6 L1226.0,677.3 L1228.0,679.1 L1230.0,680.8 L1232.0,682.5 L1234.0,684.3 L1236.0,686.0 L1238.0,687.7 L1240.0,689.5 L1242.0,691.2 L1244.0,692.9 L1246.0,694.7 L1248.0,696.4 L1250.0,698.1 L1252.0,699.9 L1254.0,701.6 L1256.0,703.3 L1258.0,705.0 L1260.0,706.8 L1262.0,708.5 L1264.0,710.2 L1266.0,711.9 L1268.0,713.7 L1270.0,715.4 L1272.0,717.1 L1274.0,718.8 L1276.0,720.5 L1278.0,722.3 L1280.0,724.0 L1282.0,725.7 L1284.0,727.4 L1286.0,729.1 L1288.0,730.8 L1290.0,732.5 L1292.0,734.3 L1294.0,736.0 L1296.0,737.7 L1298.0,739.4 L1300.0,741.1 L1302.0,742.8 L1304.0,744.5 L1306.0,746.2 L1308.0,747.9 L1310.0,749.6 L1312.0,751.3 L1314.0,753.0 L1316.0,754.7 L1318.0,756.4 L1320.0,758.1 L1322.0,759.8 L1324.0,761.5 L1326.0,763.2 L1328.0,764.9 L1330.0,766.6 L1332.0,768.3 L1334.0,769.9 L1336.0,771.6 L1338.0,773.3 L1340.0,775.0 L1342.0,776.7 L1344.0,778.4 L1346.0,780.1" fill="none" stroke="#FFC000" stroke-width="3.2" stroke-linejoin="round"/>
<path d="M146.0,98.1 L148.0,99.2 L150.0,100.2 L152.0,101.3 L154.0,102.3 L156.0,103.3 L158.0,104.3 L160.0,105.2 L162.0,106.2 L164.0,107.1 L166.0,108.0 L168.0,108.9 L170.0,109.8 L172.0,110.6 L174.0,111.5 L176.0,112.3 L178.0,113.2 L180.0,114.0 L182.0,114.8 L184.0,115.6 L186.0,116.4 L188.0,117.1 L190.0,117.9 L192.0,118.7 L194.0,119.4 L196.0,120.2 L198.0,120.9 L200.0,121.6 L202.0,122.4 L204.0,123.1 L206.0,123.8 L208.0,124.5 L210.0,125.2 L212.0,125.9 L214.0,126.7 L216.0,127.4 L218.0,128.1 L220.0,128.8 L222.0,129.5 L224.0,130.2 L226.0,130.9 L228.0,131.6 L230.0,132.3 L232.0,133.0 L234.0,133.8 L236.0,134.5 L238.0,135.2 L240.0,136.0 L242.0,136.7 L244.0,137.5 L246.0,138.2 L248.0,139.0 L250.0,139.8 L252.0,140.6 L254.0,141.4 L256.0,142.2 L258.0,143.0 L260.0,143.8 L262.0,144.6 L264.0,145.5 L266.0,146.3 L268.0,147.1 L270.0,148.0 L272.0,148.9 L274.0,149.7 L276.0,150.6 L278.0,151.5 L280.0,152.3 L282.0,153.2 L284.0,154.1 L286.0,155.0 L288.0,155.8 L290.0,156.7 L292.0,157.6 L294.0,158.5 L296.0,159.4 L298.0,160.3 L300.0,161.1 L302.0,162.0 L304.0,162.9 L306.0,163.8 L308.0,164.6 L310.0,165.5 L312.0,166.4 L314.0,167.2 L316.0,168.1 L318.0,169.0 L320.0,169.8 L322.0,170.7 L324.0,171.6 L326.0,172.4 L328.0,173.3 L330.0,174.1 L332.0,175.0 L334.0,175.8 L336.0,176.7 L338.0,177.5 L340.0,178.4 L342.0,179.2 L344.0,180.0 L346.0,180.9 L348.0,181.7 L350.0,182.6 L352.0,183.4 L354.0,184.2 L356.0,185.1 L358.0,185.9 L360.0,186.7 L362.0,187.5 L364.0,188.4 L366.0,189.2 L368.0,190.0 L370.0,190.8 L372.0,191.7 L374.0,192.5 L376.0,193.3 L378.0,194.1 L380.0,194.9 L382.0,195.7 L384.0,196.5 L386.0,197.4 L388.0,198.2 L390.0,199.0 L392.0,199.8 L394.0,200.6 L396.0,201.4 L398.0,202.2 L400.0,203.0 L402.0,203.8 L404.0,204.6 L406.0,205.4 L408.0,206.2 L410.0,207.0 L412.0,207.8 L414.0,208.6 L416.0,209.4 L418.0,210.1 L420.0,210.9 L422.0,211.7 L424.0,212.5 L426.0,213.3 L428.0,214.1 L430.0,214.9 L432.0,215.6 L434.0,216.4 L436.0,217.2 L438.0,218.0 L440.0,218.8 L442.0,219.5 L444.0,220.3 L446.0,221.1 L448.0,221.8 L450.0,222.6 L452.0,223.4 L454.0,224.2 L456.0,224.9 L458.0,225.7 L460.0,226.5 L462.0,227.2 L464.0,228.0 L466.0,228.8 L468.0,229.5 L470.0,230.3 L472.0,231.0 L474.0,231.8 L476.0,232.6 L478.0,233.3 L480.0,234.1 L482.0,234.8 L484.0,235.6 L486.0,236.4 L488.0,237.1 L490.0,237.9 L492.0,238.6 L494.0,239.4 L496.0,240.1 L498.0,240.9 L500.0,241.7 L502.0,242.4 L504.0,243.2 L506.0,243.9 L508.0,244.7 L510.0,245.4 L512.0,246.2 L514.0,246.9 L516.0,247.7 L518.0,248.4 L520.0,249.2 L522.0,249.9 L524.0,250.7 L526.0,251.4 L528.0,252.2 L530.0,253.0 L532.0,253.7 L534.0,254.5 L536.0,255.2 L538.0,256.0 L540.0,256.7 L542.0,257.5 L544.0,258.2 L546.0,259.0 L548.0,259.7 L550.0,260.5 L552.0,261.3 L554.0,262.0 L556.0,262.8 L558.0,263.5 L560.0,264.3 L562.0,265.0 L564.0,265.8 L566.0,266.6 L568.0,267.3 L570.0,268.1 L572.0,268.9 L574.0,269.6 L576.0,270.4 L578.0,271.1 L580.0,271.9 L582.0,272.7 L584.0,273.4 L586.0,274.2 L588.0,275.0 L590.0,275.8 L592.0,276.5 L594.0,277.3 L596.0,278.1 L598.0,278.8 L600.0,279.6 L602.0,280.4 L604.0,281.2 L606.0,282.0 L608.0,282.7 L610.0,283.5 L612.0,284.3 L614.0,285.1 L616.0,285.9 L618.0,286.7 L620.0,287.4 L622.0,288.2 L624.0,289.0 L626.0,289.8 L628.0,290.6 L630.0,291.4 L632.0,292.2 L634.0,293.0 L636.0,293.8 L638.0,294.6 L640.0,295.4 L642.0,296.2 L644.0,297.0 L646.0,297.8 L648.0,298.6 L650.0,299.5 L652.0,300.3 L654.0,301.1 L656.0,301.9 L658.0,302.7 L660.0,303.6 L662.0,304.4 L664.0,305.2 L666.0,306.0 L668.0,306.9 L670.0,307.7 L672.0,308.5 L674.0,309.4 L676.0,310.2 L678.0,311.1 L680.0,311.9 L682.0,312.7 L684.0,313.6 L686.0,314.5 L688.0,315.3 L690.0,316.2 L692.0,317.0 L694.0,317.9 L696.0,318.7 L698.0,319.6 L700.0,320.5 L702.0,321.4 L704.0,322.2 L706.0,323.1 L708.0,324.0 L710.0,324.9 L712.0,325.8 L714.0,326.6 L716.0,327.5 L718.0,328.4 L720.0,329.3 L722.0,330.2 L724.0,331.1 L726.0,332.0 L728.0,332.9 L730.0,333.8 L732.0,334.8 L734.0,335.7 L736.0,336.6 L738.0,337.5 L740.0,338.5 L742.0,339.4 L744.0,340.3 L746.0,341.3 L748.0,342.2 L750.0,343.1 L752.0,344.1 L754.0,345.0 L756.0,346.0 L758.0,346.9 L760.0,347.9 L762.0,348.9 L764.0,349.8 L766.0,350.8 L768.0,351.8 L770.0,352.8 L772.0,353.7 L774.0,354.7 L776.0,355.7 L778.0,356.7 L780.0,357.7 L782.0,358.7 L784.0,359.7 L786.0,360.7 L788.0,361.7 L790.0,362.7 L792.0,363.8 L794.0,364.8 L796.0,365.8 L798.0,366.8 L800.0,367.9 L802.0,368.9 L804.0,370.0 L806.0,371.0 L808.0,372.1 L810.0,373.1 L812.0,374.2 L814.0,375.2 L816.0,376.3 L818.0,377.4 L820.0,378.5 L822.0,379.5 L824.0,380.6 L826.0,381.7 L828.0,382.8 L830.0,383.9 L832.0,385.0 L834.0,386.1 L836.0,387.2 L838.0,388.4 L840.0,389.5 L842.0,390.6 L844.0,391.7 L846.0,392.9 L848.0,394.0 L850.0,395.2 L852.0,396.3 L854.0,397.5 L856.0,398.6 L858.0,399.8 L860.0,401.0 L862.0,402.1 L864.0,403.3 L866.0,404.5 L868.0,405.7 L870.0,406.9 L872.0,408.1 L874.0,409.3 L876.0,410.5 L878.0,411.7 L880.0,412.9 L882.0,414.1 L884.0,415.4 L886.0,416.6 L888.0,417.8 L890.0,419.1 L892.0,420.3 L894.0,421.6 L896.0,422.8 L898.0,424.1 L900.0,425.3 L902.0,426.6 L904.0,427.9 L906.0,429.1 L908.0,430.4 L910.0,431.7 L912.0,433.0 L914.0,434.3 L916.0,435.6 L918.0,436.9 L920.0,438.2 L922.0,439.5 L924.0,440.8 L926.0,442.1 L928.0,443.4 L930.0,444.7 L932.0,446.1 L934.0,447.4 L936.0,448.7 L938.0,450.1 L940.0,451.4 L942.0,452.8 L944.0,454.1 L946.0,455.5 L948.0,456.9 L950.0,458.2 L952.0,459.6 L954.0,461.0 L956.0,462.3 L958.0,463.7 L960.0,465.1 L962.0,466.5 L964.0,467.9 L966.0,469.3 L968.0,470.7 L970.0,472.1 L972.0,473.5 L974.0,474.9 L976.0,476.3 L978.0,477.7 L980.0,479.2 L982.0,480.6 L984.0,482.0 L986.0,483.5 L988.0,484.9 L990.0,486.3 L992.0,487.8 L994.0,489.2 L996.0,490.7 L998.0,492.1 L1000.0,493.6 L1002.0,495.1 L1004.0,496.5 L1006.0,498.0 L1008.0,499.5 L1010.0,500.9 L1012.0,502.4 L1014.0,503.9 L1016.0,505.4 L1018.0,506.9 L1020.0,508.4 L1022.0,509.9 L1024.0,511.4 L1026.0,512.9 L1028.0,514.4 L1030.0,515.9 L1032.0,517.4 L1034.0,518.9 L1036.0,520.5 L1038.0,522.0 L1040.0,523.5 L1042.0,525.0 L1044.0,526.6 L1046.0,528.1 L1048.0,529.6 L1050.0,531.2 L1052.0,532.7 L1054.0,534.3 L1056.0,535.8 L1058.0,537.4 L1060.0,538.9 L1062.0,540.5 L1064.0,542.1 L1066.0,543.6 L1068.0,545.2 L1070.0,546.8 L1072.0,548.4 L1074.0,549.9 L1076.0,551.5 L1078.0,553.1 L1080.0,554.7 L1082.0,556.3 L1084.0,557.9 L1086.0,559.5 L1088.0,561.1 L1090.0,562.7 L1092.0,564.3 L1094.0,565.9 L1096.0,567.5 L1098.0,569.1 L1100.0,570.7 L1102.0,572.4 L1104.0,574.0 L1106.0,575.6 L1108.0,577.2 L1110.0,578.9 L1112.0,580.5 L1114.0,582.1 L1116.0,583.8 L1118.0,585.4 L1120.0,587.0 L1122.0,588.7 L1124.0,590.3 L1126.0,592.0 L1128.0,593.6 L1130.0,595.3 L1132.0,596.9 L1134.0,598.6 L1136.0,600.3 L1138.0,601.9 L1140.0,603.6 L1142.0,605.3 L1144.0,606.9 L1146.0,608.6 L1148.0,610.3 L1150.0,612.0 L1152.0,613.7 L1154.0,615.3 L1156.0,617.0 L1158.0,618.7 L1160.0,620.4 L1162.0,622.1 L1164.0,623.8 L1166.0,625.5 L1168.0,627.2 L1170.0,628.9 L1172.0,630.6 L1174.0,632.3 L1176.0,634.0 L1178.0,635.7 L1180.0,637.4 L1182.0,639.1 L1184.0,640.8 L1186.0,642.5 L1188.0,644.3 L1190.0,646.0 L1192.0,647.7 L1194.0,649.4 L1196.0,651.1 L1198.0,652.8 L1200.0,654.6 L1202.0,656.3 L1204.0,658.0 L1206.0,659.7 L1208.0,661.5 L1210.0,663.2 L1212.0,664.9 L1214.0,666.6 L1216.0,668.4 L1218.0,670.1 L1220.0,671.8 L1222.0,673.6 L1224.0,675.3 L1226.0,677.0 L1228.0,678.8 L1230.0,680.5 L1232.0,682.2 L1234.0,684.0 L1236.0,685.7 L1238.0,687.4 L1240.0,689.2 L1242.0,690.9 L1244.0,692.6 L1246.0,694.4 L1248.0,696.1 L1250.0,697.8 L1252.0,699.6 L1254.0,701.3 L1256.0,703.0 L1258.0,704.8 L1260.0,706.5 L1262.0,708.2 L1264.0,710.0 L1266.0,711.7 L1268.0,713.4 L1270.0,715.2 L1272.0,716.9 L1274.0,718.6 L1276.0,720.4 L1278.0,722.1 L1280.0,723.8 L1282.0,725.6 L1284.0,727.3 L1286.0,729.0 L1288.0,730.7 L1290.0,732.4 L1292.0,734.2 L1294.0,735.9 L1296.0,737.6 L1298.0,739.3 L1300.0,741.0 L1302.0,742.8 L1304.0,744.5 L1306.0,746.2 L1308.0,747.9 L1310.0,749.6 L1312.0,751.3 L1314.0,753.0 L1316.0,754.7 L1318.0,756.4 L1320.0,758.1 L1322.0,759.8 L1324.0,761.5 L1326.0,763.2 L1328.0,764.9 L1330.0,766.6 L1332.0,768.3 L1334.0,770.0 L1336.0,771.7 L1338.0,773.4 L1340.0,775.1 L1342.0,776.7 L1344.0,778.4 L1346.0,780.1" fill="none" stroke="#AAC88C" stroke-width="3.2" stroke-linejoin="round"/>
<path d="M219.7,129.0 L221.7,129.8 L223.7,130.6 L225.7,131.5 L227.7,132.3 L229.7,133.1 L231.7,133.9 L233.7,134.7 L235.7,135.6 L237.7,136.4 L239.7,137.2 L241.7,138.1 L243.7,138.9 L245.7,139.7 L247.7,140.6 L249.7,141.4 L251.7,142.2 L253.7,143.1 L255.7,143.9 L257.7,144.8 L259.7,145.6 L261.7,146.4 L263.7,147.3 L265.7,148.1 L267.7,149.0 L269.7,149.8 L271.7,150.7 L273.7,151.5 L275.7,152.4 L277.7,153.2 L279.7,154.1 L281.7,154.9 L283.7,155.8 L285.7,156.7 L287.7,157.5 L289.7,158.4 L291.7,159.2 L293.7,160.1 L295.7,161.0 L297.7,161.8 L299.7,162.7 L301.7,163.6 L303.7,164.4 L305.7,165.3 L307.7,166.1 L309.7,167.0 L311.7,167.9 L313.7,168.7 L315.7,169.6 L317.7,170.5 L319.7,171.3 L321.7,172.2 L323.7,173.1 L325.7,174.0 L327.7,174.8 L329.7,175.7 L331.7,176.6 L333.7,177.4 L335.7,178.3 L337.7,179.2 L339.7,180.1 L341.7,180.9 L343.7,181.8 L345.7,182.7 L347.7,183.5 L349.7,184.4 L351.7,185.3 L353.7,186.2 L355.7,187.0 L357.7,187.9 L359.7,188.8 L361.7,189.6 L363.7,190.5 L365.7,191.4 L367.7,192.2 L369.7,193.1 L371.7,194.0 L373.7,194.9 L375.7,195.7 L377.7,196.6 L379.7,197.5 L381.7,198.3 L383.7,199.2 L385.7,200.1 L387.7,200.9 L389.7,201.8 L391.7,202.7 L393.7,203.5 L395.7,204.4 L397.7,205.2 L399.7,206.1 L401.7,207.0 L403.7,207.8 L405.7,208.7 L407.7,209.5 L409.7,210.4 L411.7,211.3 L413.7,212.1 L415.7,213.0 L417.7,213.8 L419.7,214.7 L421.7,215.5 L423.7,216.4 L425.7,217.2 L427.7,218.1 L429.7,218.9 L431.7,219.8 L433.7,220.6 L435.7,221.5 L437.7,222.3 L439.7,223.1 L441.7,224.0 L443.7,224.8 L445.7,225.7 L447.7,226.5 L449.7,227.3 L451.7,228.2 L453.7,229.0 L455.7,229.8 L457.7,230.7 L459.7,231.5 L461.7,232.3 L463.7,233.1 L465.7,234.0 L467.7,234.8 L469.7,235.6 L471.7,236.4 L473.7,237.2 L475.7,238.1 L477.7,238.9 L479.7,239.7 L481.7,240.5 L483.7,241.3 L485.7,242.1 L487.7,242.9 L489.7,243.7 L491.7,244.6 L493.7,245.4 L495.7,246.2 L497.7,247.0 L499.7,247.8 L501.7,248.6 L503.7,249.4 L505.7,250.2 L507.7,251.0 L509.7,251.8 L511.7,252.6 L513.7,253.4 L515.7,254.2 L517.7,255.0 L519.7,255.8 L521.7,256.6 L523.7,257.4 L525.7,258.2 L527.7,259.0 L529.7,259.8 L531.7,260.6 L533.7,261.4 L535.7,262.2 L537.7,263.0 L539.7,263.8 L541.7,264.6 L543.7,265.4 L545.7,266.2 L547.7,266.9 L549.7,267.7 L551.7,268.5 L553.7,269.3 L555.7,270.1 L557.7,270.9 L559.7,271.7 L561.7,272.5 L563.7,273.3 L565.7,274.1 L567.7,274.9 L569.7,275.7 L571.7,276.5 L573.7,277.2 L575.7,278.0 L577.7,278.8 L579.7,279.6 L581.7,280.4 L583.7,281.2 L585.7,282.0 L587.7,282.7 L589.7,283.5 L591.7,284.3 L593.7,285.1 L595.7,285.8 L597.7,286.6 L599.7,287.4 L601.7,288.2 L603.7,288.9 L605.7,289.7 L607.7,290.5 L609.7,291.2 L611.7,292.0 L613.7,292.8 L615.7,293.5 L617.7,294.3 L619.7,295.1 L621.7,295.8 L623.7,296.6 L625.7,297.4 L627.7,298.1 L629.7,298.9 L631.7,299.7 L633.7,300.5 L635.7,301.2 L637.7,302.0 L639.7,302.8 L641.7,303.6 L643.7,304.4 L645.7,305.2 L647.7,306.0 L649.7,306.8 L651.7,307.6 L653.7,308.4 L655.7,309.3 L657.7,310.1 L659.7,310.9 L661.7,311.8 L663.7,312.6 L665.7,313.5 L667.7,314.3 L669.7,315.2 L671.7,316.0 L673.7,316.9 L675.7,317.8 L677.7,318.7 L679.7,319.5 L681.7,320.4 L683.7,321.3 L685.7,322.2 L687.7,323.1 L689.7,324.0 L691.7,324.9 L693.7,325.8 L695.7,326.8 L697.7,327.7 L699.7,328.6 L701.7,329.5 L703.7,330.5 L705.7,331.4 L707.7,332.4 L709.7,333.3 L711.7,334.3 L713.7,335.2 L715.7,336.2 L717.7,337.1 L719.7,338.1 L721.7,339.1 L723.7,340.1 L725.7,341.0 L727.7,342.0 L729.7,343.0 L731.7,344.0 L733.7,345.0 L735.7,346.0 L737.7,347.0 L739.7,348.0 L741.7,349.0 L743.7,350.0 L745.7,351.0 L747.7,352.0 L749.7,353.1 L751.7,354.1 L753.7,355.1 L755.7,356.1 L757.7,357.2 L759.7,358.2 L761.7,359.3 L763.7,360.3 L765.7,361.4 L767.7,362.4 L769.7,363.5 L771.7,364.5 L773.7,365.6 L775.7,366.6 L777.7,367.7 L779.7,368.8 L781.7,369.8 L783.7,370.9 L785.7,372.0 L787.7,373.1 L789.7,374.1 L791.7,375.2 L793.7,376.3 L795.7,377.4 L797.7,378.5 L799.7,379.6 L801.7,380.7 L803.7,381.8 L805.7,382.9 L807.7,384.0 L809.7,385.1 L811.7,386.2 L813.7,387.3 L815.7,388.4 L817.7,389.5 L819.7,390.6 L821.7,391.8 L823.7,392.9 L825.7,394.0 L827.7,395.1 L829.7,396.3 L831.7,397.4 L833.7,398.5 L835.7,399.7 L837.7,400.8 L839.7,401.9 L841.7,403.1 L843.7,404.2 L845.7,405.4 L847.7,406.5 L849.7,407.7 L851.7,408.8 L853.7,410.0 L855.7,411.2 L857.7,412.3 L859.7,413.5 L861.7,414.7 L863.7,415.8 L865.7,417.0 L867.7,418.2 L869.7,419.4 L871.7,420.5 L873.7,421.7 L875.7,422.9 L877.7,424.1 L879.7,425.3 L881.7,426.5 L883.7,427.7 L885.7,428.9 L887.7,430.1 L889.7,431.3 L891.7,432.5 L893.7,433.7 L895.7,434.9 L897.7,436.2 L899.7,437.4 L901.7,438.6 L903.7,439.8 L905.7,441.1 L907.7,442.3 L909.7,443.5 L911.7,444.8 L913.7,446.0 L915.7,447.2 L917.7,448.5 L919.7,449.7 L921.7,451.0 L923.7,452.2 L925.7,453.5 L927.7,454.8 L929.7,456.0 L931.7,457.3 L933.7,458.6 L935.7,459.8 L937.7,461.1 L939.7,462.4 L941.7,463.7 L943.7,464.9 L945.7,466.2 L947.7,467.5 L949.7,468.8 L951.7,470.1 L953.7,471.4 L955.7,472.7 L957.7,474.0 L959.7,475.3 L961.7,476.6 L963.7,477.9 L965.7,479.3 L967.7,480.6 L969.7,481.9 L971.7,483.2 L973.7,484.6 L975.7,485.9 L977.7,487.2 L979.7,488.6 L981.7,489.9 L983.7,491.2 L985.7,492.6 L987.7,493.9 L989.7,495.3 L991.7,496.6 L993.7,498.0 L995.7,499.4 L997.7,500.7 L999.7,502.1 L1001.7,503.5 L1003.7,504.9 L1005.7,506.2 L1007.7,507.6 L1009.7,509.0 L1011.7,510.4 L1013.7,511.8 L1015.7,513.2 L1017.7,514.6 L1019.7,516.0 L1021.7,517.4 L1023.7,518.8 L1025.7,520.2 L1027.7,521.6 L1029.7,523.0 L1031.7,524.5 L1033.7,525.9 L1035.7,527.3 L1037.7,528.7 L1039.7,530.2 L1041.7,531.6 L1043.7,533.1 L1045.7,534.5 L1047.7,535.9 L1049.7,537.4 L1051.7,538.9 L1053.7,540.3 L1055.7,541.8 L1057.7,543.2 L1059.7,544.7 L1061.7,546.2 L1063.7,547.7 L1065.7,549.1 L1067.7,550.6 L1069.7,552.1 L1071.7,553.6 L1073.7,555.1 L1075.7,556.6 L1077.7,558.1 L1079.7,559.6 L1081.7,561.1 L1083.7,562.6 L1085.7,564.1 L1087.7,565.6 L1089.7,567.2 L1091.7,568.7 L1093.7,570.2 L1095.7,571.7 L1097.7,573.3 L1099.7,574.8 L1101.7,576.4 L1103.7,577.9 L1105.7,579.5 L1107.7,581.0 L1109.7,582.6 L1111.7,584.1 L1113.7,585.7 L1115.7,587.3 L1117.7,588.8 L1119.7,590.4 L1121.7,592.0 L1123.7,593.6 L1125.7,595.2 L1127.7,596.8 L1129.7,598.4 L1131.7,600.0 L1133.7,601.6 L1135.7,603.2 L1137.7,604.8 L1139.7,606.4 L1141.7,608.0 L1143.7,609.6 L1145.7,611.2 L1147.7,612.9 L1149.7,614.5 L1151.7,616.1 L1153.7,617.8 L1155.7,619.4 L1157.7,621.1 L1159.7,622.7 L1161.7,624.3 L1163.7,626.0 L1165.7,627.7 L1167.7,629.3 L1169.7,631.0 L1171.7,632.6 L1173.7,634.3 L1175.7,636.0 L1177.7,637.6 L1179.7,639.3 L1181.7,641.0 L1183.7,642.7 L1185.7,644.4 L1187.7,646.0 L1189.7,647.7 L1191.7,649.4 L1193.7,651.1 L1195.7,652.8 L1197.7,654.5 L1199.7,656.2 L1201.7,657.9 L1203.7,659.6 L1205.7,661.3 L1207.7,663.0 L1209.7,664.7 L1211.7,666.4 L1213.7,668.1 L1215.7,669.8 L1217.7,671.5 L1219.7,673.3 L1221.7,675.0 L1223.7,676.7 L1225.7,678.4 L1227.7,680.1 L1229.7,681.9 L1231.7,683.6 L1233.7,685.3 L1235.7,687.0 L1237.7,688.8 L1239.7,690.5 L1241.7,692.2 L1243.7,693.9 L1245.7,695.7 L1247.7,697.4 L1249.7,699.1 L1251.7,700.9 L1253.7,702.6 L1255.7,704.3 L1257.7,706.1 L1259.7,707.8 L1261.7,709.5 L1263.7,711.3 L1265.7,713.0 L1267.7,714.8 L1269.7,716.5 L1271.7,718.2 L1273.7,720.0 L1275.7,721.7 L1277.7,723.4 L1279.7,725.2 L1281.7,726.9 L1283.7,728.7 L1285.7,730.4 L1287.7,732.1 L1289.7,733.9 L1291.7,735.6 L1293.7,737.4 L1295.7,739.1 L1297.7,740.8 L1299.7,742.6 L1301.7,744.3 L1303.7,746.0 L1305.7,747.8 L1307.7,749.5 L1309.7,751.2 L1311.7,753.0 L1313.7,754.7 L1315.7,756.4 L1317.7,758.2 L1319.7,759.9 L1321.7,761.6 L1323.7,763.4 L1325.7,765.1 L1327.7,766.8 L1329.7,768.5 L1331.7,770.3 L1333.7,772.0 L1335.7,773.7 L1337.7,775.4 L1339.7,777.1 L1341.7,778.9 L1343.7,780.6 L1345.0,781.7" fill="none" stroke="#000000" stroke-width="3.1" stroke-linejoin="round"/>
</g>
<text x="374.0" y="185.7" font-family="'Liberation Sans',Arial,sans-serif" font-size="19" font-weight="normal" text-anchor="end" fill="#000">100000</text>
<text x="374.0" y="330.4" font-family="'Liberation Sans',Arial,sans-serif" font-size="19" font-weight="normal" text-anchor="end" fill="#000">10000</text>
<text x="374.0" y="475.1" font-family="'Liberation Sans',Arial,sans-serif" font-size="19" font-weight="normal" text-anchor="end" fill="#000">1000</text>
<text x="374.0" y="619.8" font-family="'Liberation Sans',Arial,sans-serif" font-size="19" font-weight="normal" text-anchor="end" fill="#000">100</text>
<rect x="302" y="153.4" width="826" height="519.2" fill="none" stroke="#000" stroke-width="2"/>
<path d="M395.2,178.7V612.8H1057.6M387.2,612.8H395.2M395.2,569.2H401.7M395.2,543.8H401.7M395.2,525.7H401.7M395.2,511.7H401.7M395.2,500.2H401.7M395.2,490.5H401.7M395.2,482.1H401.7M395.2,474.7H401.7M387.2,468.1H395.2M395.2,424.5H401.7M395.2,399.1H401.7M395.2,381.0H401.7M395.2,367.0H401.7M395.2,355.5H401.7M395.2,345.8H401.7M395.2,337.4H401.7M395.2,330.0H401.7M387.2,323.4H395.2M395.2,279.8H401.7M395.2,254.4H401.7M395.2,236.3H401.7M395.2,222.3H401.7M395.2,210.8H401.7M395.2,201.1H401.7M395.2,192.7H401.7M395.2,185.3H401.7M387.2,178.7H395.2M395.2,612.8V618.8M445.1,612.8V606.8M474.2,612.8V606.8M494.9,612.8V606.8M510.9,612.8V606.8M524.1,612.8V606.8M535.1,612.8V606.8M544.8,612.8V606.8M553.2,612.8V606.8M560.8,612.8V618.8M610.7,612.8V606.8M639.8,612.8V606.8M660.5,612.8V606.8M676.5,612.8V606.8M689.7,612.8V606.8M700.7,612.8V606.8M710.4,612.8V606.8M718.8,612.8V606.8M726.4,612.8V618.8M776.3,612.8V606.8M805.4,612.8V606.8M826.1,612.8V606.8M842.1,612.8V606.8M855.3,612.8V606.8M866.3,612.8V606.8M876.0,612.8V606.8M884.4,612.8V606.8M892.0,612.8V618.8M941.9,612.8V606.8M971.0,612.8V606.8M991.7,612.8V606.8M1007.7,612.8V606.8M1020.9,612.8V606.8M1031.9,612.8V606.8M1041.6,612.8V606.8M1050.0,612.8V606.8M1057.6,612.8V618.8" stroke="#868686" stroke-width="1.8" fill="none"/>
<line x1="150" y1="467.5" x2="560" y2="467.5" stroke="#000" stroke-width="2" stroke-dasharray="8.5 5"/>
<line x1="564.4" y1="470" x2="561.5" y2="764" stroke="#000" stroke-width="2" stroke-dasharray="7.5 6" stroke-dashoffset="-1"/>
<g stroke="#ff0000" stroke-width="6.2" stroke-linecap="butt"><line x1="559.6" y1="465.2" x2="571.6" y2="477.2"/><line x1="571.6" y1="465.2" x2="559.6" y2="477.2"/></g>
<path d="M611.8,280.9a3.3,3.3 0 1,0 6.6,0a3.3,3.3 0 1,0 -6.6,0M611.7,283.8a3.3,3.3 0 1,0 6.6,0a3.3,3.3 0 1,0 -6.6,0M615.0,280.1a3.3,3.3 0 1,0 6.6,0a3.3,3.3 0 1,0 -6.6,0M614.9,282.5a3.3,3.3 0 1,0 6.6,0a3.3,3.3 0 1,0 -6.6,0M618.5,279.3a3.3,3.3 0 1,0 6.6,0a3.3,3.3 0 1,0 -6.6,0M617.8,282.5a3.3,3.3 0 1,0 6.6,0a3.3,3.3 0 1,0 -6.6,0M621.7,277.4a3.3,3.3 0 1,0 6.6,0a3.3,3.3 0 1,0 -6.6,0M620.7,283.7a3.3,3.3 0 1,0 6.6,0a3.3,3.3 0 1,0 -6.6,0M625.2,278.4a3.3,3.3 0 1,0 6.6,0a3.3,3.3 0 1,0 -6.6,0M624.7,280.8a3.3,3.3 0 1,0 6.6,0a3.3,3.3 0 1,0 -6.6,0M623.8,282.8a3.3,3.3 0 1,0 6.6,0a3.3,3.3 0 1,0 -6.6,0M627.1,277.2a3.3,3.3 0 1,0 6.6,0a3.3,3.3 0 1,0 -6.6,0M627.3,279.7a3.3,3.3 0 1,0 6.6,0a3.3,3.3 0 1,0 -6.6,0M627.6,282.5a3.3,3.3 0 1,0 6.6,0a3.3,3.3 0 1,0 -6.6,0M631.4,276.5a3.3,3.3 0 1,0 6.6,0a3.3,3.3 0 1,0 -6.6,0M631.1,279.8a3.3,3.3 0 1,0 6.6,0a3.3,3.3 0 1,0 -6.6,0M631.1,282.9a3.3,3.3 0 1,0 6.6,0a3.3,3.3 0 1,0 -6.6,0M633.8,276.4a3.3,3.3 0 1,0 6.6,0a3.3,3.3 0 1,0 -6.6,0M634.8,280.3a3.3,3.3 0 1,0 6.6,0a3.3,3.3 0 1,0 -6.6,0M634.4,283.0a3.3,3.3 0 1,0 6.6,0a3.3,3.3 0 1,0 -6.6,0M636.9,276.2a3.3,3.3 0 1,0 6.6,0a3.3,3.3 0 1,0 -6.6,0M636.7,281.5a3.3,3.3 0 1,0 6.6,0a3.3,3.3 0 1,0 -6.6,0M640.4,277.5a3.3,3.3 0 1,0 6.6,0a3.3,3.3 0 1,0 -6.6,0M640.3,282.5a3.3,3.3 0 1,0 6.6,0a3.3,3.3 0 1,0 -6.6,0M644.2,280.1a3.3,3.3 0 1,0 6.6,0a3.3,3.3 0 1,0 -6.6,0M643.3,282.2a3.3,3.3 0 1,0 6.6,0a3.3,3.3 0 1,0 -6.6,0M646.9,282.1a3.3,3.3 0 1,0 6.6,0a3.3,3.3 0 1,0 -6.6,0M646.8,285.3a3.3,3.3 0 1,0 6.6,0a3.3,3.3 0 1,0 -6.6,0M650.3,282.8a3.3,3.3 0 1,0 6.6,0a3.3,3.3 0 1,0 -6.6,0M649.8,286.3a3.3,3.3 0 1,0 6.6,0a3.3,3.3 0 1,0 -6.6,0M653.1,283.6a3.3,3.3 0 1,0 6.6,0a3.3,3.3 0 1,0 -6.6,0M653.7,287.6a3.3,3.3 0 1,0 6.6,0a3.3,3.3 0 1,0 -6.6,0M656.1,284.1a3.3,3.3 0 1,0 6.6,0a3.3,3.3 0 1,0 -6.6,0M655.9,287.0a3.3,3.3 0 1,0 6.6,0a3.3,3.3 0 1,0 -6.6,0M659.2,285.8a3.3,3.3 0 1,0 6.6,0a3.3,3.3 0 1,0 -6.6,0M659.6,288.7a3.3,3.3 0 1,0 6.6,0a3.3,3.3 0 1,0 -6.6,0M663.2,285.1a3.3,3.3 0 1,0 6.6,0a3.3,3.3 0 1,0 -6.6,0M663.1,288.9a3.3,3.3 0 1,0 6.6,0a3.3,3.3 0 1,0 -6.6,0M666.0,285.4a3.3,3.3 0 1,0 6.6,0a3.3,3.3 0 1,0 -6.6,0M665.8,289.9a3.3,3.3 0 1,0 6.6,0a3.3,3.3 0 1,0 -6.6,0M669.7,287.4a3.3,3.3 0 1,0 6.6,0a3.3,3.3 0 1,0 -6.6,0M669.8,291.0a3.3,3.3 0 1,0 6.6,0a3.3,3.3 0 1,0 -6.6,0M672.4,286.2a3.3,3.3 0 1,0 6.6,0a3.3,3.3 0 1,0 -6.6,0M672.7,292.6a3.3,3.3 0 1,0 6.6,0a3.3,3.3 0 1,0 -6.6,0M676.4,286.1a3.3,3.3 0 1,0 6.6,0a3.3,3.3 0 1,0 -6.6,0M675.4,289.1a3.3,3.3 0 1,0 6.6,0a3.3,3.3 0 1,0 -6.6,0M675.5,292.9a3.3,3.3 0 1,0 6.6,0a3.3,3.3 0 1,0 -6.6,0M678.3,286.6a3.3,3.3 0 1,0 6.6,0a3.3,3.3 0 1,0 -6.6,0M679.0,289.2a3.3,3.3 0 1,0 6.6,0a3.3,3.3 0 1,0 -6.6,0M679.0,292.5a3.3,3.3 0 1,0 6.6,0a3.3,3.3 0 1,0 -6.6,0M682.0,286.3a3.3,3.3 0 1,0 6.6,0a3.3,3.3 0 1,0 -6.6,0M682.1,290.8a3.3,3.3 0 1,0 6.6,0a3.3,3.3 0 1,0 -6.6,0M682.6,293.6a3.3,3.3 0 1,0 6.6,0a3.3,3.3 0 1,0 -6.6,0M684.8,285.3a3.3,3.3 0 1,0 6.6,0a3.3,3.3 0 1,0 -6.6,0M685.7,290.6a3.3,3.3 0 1,0 6.6,0a3.3,3.3 0 1,0 -6.6,0M684.9,293.5a3.3,3.3 0 1,0 6.6,0a3.3,3.3 0 1,0 -6.6,0M689.1,285.7a3.3,3.3 0 1,0 6.6,0a3.3,3.3 0 1,0 -6.6,0M689.1,287.8a3.3,3.3 0 1,0 6.6,0a3.3,3.3 0 1,0 -6.6,0M688.6,292.0a3.3,3.3 0 1,0 6.6,0a3.3,3.3 0 1,0 -6.6,0M687.9,294.3a3.3,3.3 0 1,0 6.6,0a3.3,3.3 0 1,0 -6.6,0M692.3,284.9a3.3,3.3 0 1,0 6.6,0a3.3,3.3 0 1,0 -6.6,0M692.0,288.3a3.3,3.3 0 1,0 6.6,0a3.3,3.3 0 1,0 -6.6,0M692.2,291.5a3.3,3.3 0 1,0 6.6,0a3.3,3.3 0 1,0 -6.6,0M691.4,295.2a3.3,3.3 0 1,0 6.6,0a3.3,3.3 0 1,0 -6.6,0M695.2,286.3a3.3,3.3 0 1,0 6.6,0a3.3,3.3 0 1,0 -6.6,0M694.5,290.5a3.3,3.3 0 1,0 6.6,0a3.3,3.3 0 1,0 -6.6,0M695.4,295.7a3.3,3.3 0 1,0 6.6,0a3.3,3.3 0 1,0 -6.6,0M697.8,288.3a3.3,3.3 0 1,0 6.6,0a3.3,3.3 0 1,0 -6.6,0M697.7,292.9a3.3,3.3 0 1,0 6.6,0a3.3,3.3 0 1,0 -6.6,0M697.8,295.4a3.3,3.3 0 1,0 6.6,0a3.3,3.3 0 1,0 -6.6,0M700.7,289.1a3.3,3.3 0 1,0 6.6,0a3.3,3.3 0 1,0 -6.6,0M701.1,292.5a3.3,3.3 0 1,0 6.6,0a3.3,3.3 0 1,0 -6.6,0M700.8,297.0a3.3,3.3 0 1,0 6.6,0a3.3,3.3 0 1,0 -6.6,0M705.0,290.0a3.3,3.3 0 1,0 6.6,0a3.3,3.3 0 1,0 -6.6,0M704.7,294.8a3.3,3.3 0 1,0 6.6,0a3.3,3.3 0 1,0 -6.6,0M704.6,297.9a3.3,3.3 0 1,0 6.6,0a3.3,3.3 0 1,0 -6.6,0M707.0,290.7a3.3,3.3 0 1,0 6.6,0a3.3,3.3 0 1,0 -6.6,0M708.3,293.9a3.3,3.3 0 1,0 6.6,0a3.3,3.3 0 1,0 -6.6,0M708.3,298.6a3.3,3.3 0 1,0 6.6,0a3.3,3.3 0 1,0 -6.6,0M711.1,291.5a3.3,3.3 0 1,0 6.6,0a3.3,3.3 0 1,0 -6.6,0M711.2,295.5a3.3,3.3 0 1,0 6.6,0a3.3,3.3 0 1,0 -6.6,0M711.6,298.5a3.3,3.3 0 1,0 6.6,0a3.3,3.3 0 1,0 -6.6,0M714.2,291.9a3.3,3.3 0 1,0 6.6,0a3.3,3.3 0 1,0 -6.6,0M714.7,296.3a3.3,3.3 0 1,0 6.6,0a3.3,3.3 0 1,0 -6.6,0M714.4,299.6a3.3,3.3 0 1,0 6.6,0a3.3,3.3 0 1,0 -6.6,0M717.9,293.5a3.3,3.3 0 1,0 6.6,0a3.3,3.3 0 1,0 -6.6,0M717.6,295.9a3.3,3.3 0 1,0 6.6,0a3.3,3.3 0 1,0 -6.6,0M717.8,300.2a3.3,3.3 0 1,0 6.6,0a3.3,3.3 0 1,0 -6.6,0M720.9,293.1a3.3,3.3 0 1,0 6.6,0a3.3,3.3 0 1,0 -6.6,0M720.6,297.2a3.3,3.3 0 1,0 6.6,0a3.3,3.3 0 1,0 -6.6,0M720.3,300.0a3.3,3.3 0 1,0 6.6,0a3.3,3.3 0 1,0 -6.6,0M723.9,293.7a3.3,3.3 0 1,0 6.6,0a3.3,3.3 0 1,0 -6.6,0M723.9,296.1a3.3,3.3 0 1,0 6.6,0a3.3,3.3 0 1,0 -6.6,0M724.2,301.0a3.3,3.3 0 1,0 6.6,0a3.3,3.3 0 1,0 -6.6,0M726.7,294.3a3.3,3.3 0 1,0 6.6,0a3.3,3.3 0 1,0 -6.6,0M727.0,297.6a3.3,3.3 0 1,0 6.6,0a3.3,3.3 0 1,0 -6.6,0M727.4,300.3a3.3,3.3 0 1,0 6.6,0a3.3,3.3 0 1,0 -6.6,0M730.5,293.5a3.3,3.3 0 1,0 6.6,0a3.3,3.3 0 1,0 -6.6,0M730.2,296.6a3.3,3.3 0 1,0 6.6,0a3.3,3.3 0 1,0 -6.6,0M729.7,300.7a3.3,3.3 0 1,0 6.6,0a3.3,3.3 0 1,0 -6.6,0M733.3,295.2a3.3,3.3 0 1,0 6.6,0a3.3,3.3 0 1,0 -6.6,0M733.9,298.2a3.3,3.3 0 1,0 6.6,0a3.3,3.3 0 1,0 -6.6,0M732.6,300.8a3.3,3.3 0 1,0 6.6,0a3.3,3.3 0 1,0 -6.6,0M736.7,295.2a3.3,3.3 0 1,0 6.6,0a3.3,3.3 0 1,0 -6.6,0M736.0,298.3a3.3,3.3 0 1,0 6.6,0a3.3,3.3 0 1,0 -6.6,0M736.7,302.8a3.3,3.3 0 1,0 6.6,0a3.3,3.3 0 1,0 -6.6,0M740.2,296.3a3.3,3.3 0 1,0 6.6,0a3.3,3.3 0 1,0 -6.6,0M739.9,299.3a3.3,3.3 0 1,0 6.6,0a3.3,3.3 0 1,0 -6.6,0M739.6,302.3a3.3,3.3 0 1,0 6.6,0a3.3,3.3 0 1,0 -6.6,0M743.5,297.7a3.3,3.3 0 1,0 6.6,0a3.3,3.3 0 1,0 -6.6,0M742.7,301.1a3.3,3.3 0 1,0 6.6,0a3.3,3.3 0 1,0 -6.6,0M742.6,303.8a3.3,3.3 0 1,0 6.6,0a3.3,3.3 0 1,0 -6.6,0M746.1,297.3a3.3,3.3 0 1,0 6.6,0a3.3,3.3 0 1,0 -6.6,0M746.6,301.8a3.3,3.3 0 1,0 6.6,0a3.3,3.3 0 1,0 -6.6,0M746.7,304.8a3.3,3.3 0 1,0 6.6,0a3.3,3.3 0 1,0 -6.6,0M748.8,298.4a3.3,3.3 0 1,0 6.6,0a3.3,3.3 0 1,0 -6.6,0M749.0,301.9a3.3,3.3 0 1,0 6.6,0a3.3,3.3 0 1,0 -6.6,0M749.2,304.7a3.3,3.3 0 1,0 6.6,0a3.3,3.3 0 1,0 -6.6,0M752.5,299.8a3.3,3.3 0 1,0 6.6,0a3.3,3.3 0 1,0 -6.6,0M753.0,302.4a3.3,3.3 0 1,0 6.6,0a3.3,3.3 0 1,0 -6.6,0M752.4,306.8a3.3,3.3 0 1,0 6.6,0a3.3,3.3 0 1,0 -6.6,0M755.0,299.5a3.3,3.3 0 1,0 6.6,0a3.3,3.3 0 1,0 -6.6,0M755.1,304.3a3.3,3.3 0 1,0 6.6,0a3.3,3.3 0 1,0 -6.6,0M755.8,307.4a3.3,3.3 0 1,0 6.6,0a3.3,3.3 0 1,0 -6.6,0M759.3,300.8a3.3,3.3 0 1,0 6.6,0a3.3,3.3 0 1,0 -6.6,0M758.4,302.6a3.3,3.3 0 1,0 6.6,0a3.3,3.3 0 1,0 -6.6,0M758.2,305.7a3.3,3.3 0 1,0 6.6,0a3.3,3.3 0 1,0 -6.6,0M758.5,308.7a3.3,3.3 0 1,0 6.6,0a3.3,3.3 0 1,0 -6.6,0M760.5,301.5a3.3,3.3 0 1,0 6.6,0a3.3,3.3 0 1,0 -6.6,0M761.0,304.6a3.3,3.3 0 1,0 6.6,0a3.3,3.3 0 1,0 -6.6,0M761.3,306.8a3.3,3.3 0 1,0 6.6,0a3.3,3.3 0 1,0 -6.6,0M761.7,309.4a3.3,3.3 0 1,0 6.6,0a3.3,3.3 0 1,0 -6.6,0M762.9,303.6a3.3,3.3 0 1,0 6.6,0a3.3,3.3 0 1,0 -6.6,0M762.9,305.4a3.3,3.3 0 1,0 6.6,0a3.3,3.3 0 1,0 -6.6,0M763.3,306.7a3.3,3.3 0 1,0 6.6,0a3.3,3.3 0 1,0 -6.6,0M762.9,310.1a3.3,3.3 0 1,0 6.6,0a3.3,3.3 0 1,0 -6.6,0M765.3,303.9a3.3,3.3 0 1,0 6.6,0a3.3,3.3 0 1,0 -6.6,0M765.5,306.8a3.3,3.3 0 1,0 6.6,0a3.3,3.3 0 1,0 -6.6,0M765.9,308.8a3.3,3.3 0 1,0 6.6,0a3.3,3.3 0 1,0 -6.6,0M765.9,310.6a3.3,3.3 0 1,0 6.6,0a3.3,3.3 0 1,0 -6.6,0M767.1,306.2a3.3,3.3 0 1,0 6.6,0a3.3,3.3 0 1,0 -6.6,0M768.0,308.3a3.3,3.3 0 1,0 6.6,0a3.3,3.3 0 1,0 -6.6,0M767.6,309.0a3.3,3.3 0 1,0 6.6,0a3.3,3.3 0 1,0 -6.6,0M768.3,312.0a3.3,3.3 0 1,0 6.6,0a3.3,3.3 0 1,0 -6.6,0M770.0,306.3a3.3,3.3 0 1,0 6.6,0a3.3,3.3 0 1,0 -6.6,0M770.3,309.3a3.3,3.3 0 1,0 6.6,0a3.3,3.3 0 1,0 -6.6,0M769.8,311.5a3.3,3.3 0 1,0 6.6,0a3.3,3.3 0 1,0 -6.6,0M769.5,313.1a3.3,3.3 0 1,0 6.6,0a3.3,3.3 0 1,0 -6.6,0M772.5,307.9a3.3,3.3 0 1,0 6.6,0a3.3,3.3 0 1,0 -6.6,0M772.4,309.9a3.3,3.3 0 1,0 6.6,0a3.3,3.3 0 1,0 -6.6,0M772.7,311.2a3.3,3.3 0 1,0 6.6,0a3.3,3.3 0 1,0 -6.6,0M772.8,314.7a3.3,3.3 0 1,0 6.6,0a3.3,3.3 0 1,0 -6.6,0M774.7,308.1a3.3,3.3 0 1,0 6.6,0a3.3,3.3 0 1,0 -6.6,0M774.9,310.0a3.3,3.3 0 1,0 6.6,0a3.3,3.3 0 1,0 -6.6,0M774.1,313.2a3.3,3.3 0 1,0 6.6,0a3.3,3.3 0 1,0 -6.6,0M774.2,314.1a3.3,3.3 0 1,0 6.6,0a3.3,3.3 0 1,0 -6.6,0M776.9,308.7a3.3,3.3 0 1,0 6.6,0a3.3,3.3 0 1,0 -6.6,0M775.8,311.2a3.3,3.3 0 1,0 6.6,0a3.3,3.3 0 1,0 -6.6,0M775.9,314.3a3.3,3.3 0 1,0 6.6,0a3.3,3.3 0 1,0 -6.6,0M776.0,316.8a3.3,3.3 0 1,0 6.6,0a3.3,3.3 0 1,0 -6.6,0M779.1,308.9a3.3,3.3 0 1,0 6.6,0a3.3,3.3 0 1,0 -6.6,0M778.2,311.4a3.3,3.3 0 1,0 6.6,0a3.3,3.3 0 1,0 -6.6,0M779.0,315.0a3.3,3.3 0 1,0 6.6,0a3.3,3.3 0 1,0 -6.6,0M779.0,318.4a3.3,3.3 0 1,0 6.6,0a3.3,3.3 0 1,0 -6.6,0M780.9,310.6a3.3,3.3 0 1,0 6.6,0a3.3,3.3 0 1,0 -6.6,0M780.3,313.0a3.3,3.3 0 1,0 6.6,0a3.3,3.3 0 1,0 -6.6,0M780.9,314.1a3.3,3.3 0 1,0 6.6,0a3.3,3.3 0 1,0 -6.6,0M781.2,316.6a3.3,3.3 0 1,0 6.6,0a3.3,3.3 0 1,0 -6.6,0M780.9,319.6a3.3,3.3 0 1,0 6.6,0a3.3,3.3 0 1,0 -6.6,0M783.2,311.2a3.3,3.3 0 1,0 6.6,0a3.3,3.3 0 1,0 -6.6,0M782.9,312.8a3.3,3.3 0 1,0 6.6,0a3.3,3.3 0 1,0 -6.6,0M783.7,316.4a3.3,3.3 0 1,0 6.6,0a3.3,3.3 0 1,0 -6.6,0M783.6,317.8a3.3,3.3 0 1,0 6.6,0a3.3,3.3 0 1,0 -6.6,0M783.1,321.8a3.3,3.3 0 1,0 6.6,0a3.3,3.3 0 1,0 -6.6,0M784.9,311.6a3.3,3.3 0 1,0 6.6,0a3.3,3.3 0 1,0 -6.6,0M785.3,314.3a3.3,3.3 0 1,0 6.6,0a3.3,3.3 0 1,0 -6.6,0M784.6,317.2a3.3,3.3 0 1,0 6.6,0a3.3,3.3 0 1,0 -6.6,0M785.3,320.6a3.3,3.3 0 1,0 6.6,0a3.3,3.3 0 1,0 -6.6,0M785.7,322.3a3.3,3.3 0 1,0 6.6,0a3.3,3.3 0 1,0 -6.6,0M787.5,312.4a3.3,3.3 0 1,0 6.6,0a3.3,3.3 0 1,0 -6.6,0M786.9,314.9a3.3,3.3 0 1,0 6.6,0a3.3,3.3 0 1,0 -6.6,0M787.4,317.0a3.3,3.3 0 1,0 6.6,0a3.3,3.3 0 1,0 -6.6,0M788.1,320.1a3.3,3.3 0 1,0 6.6,0a3.3,3.3 0 1,0 -6.6,0M787.5,321.3a3.3,3.3 0 1,0 6.6,0a3.3,3.3 0 1,0 -6.6,0M787.4,323.4a3.3,3.3 0 1,0 6.6,0a3.3,3.3 0 1,0 -6.6,0M790.3,313.5a3.3,3.3 0 1,0 6.6,0a3.3,3.3 0 1,0 -6.6,0M789.4,315.4a3.3,3.3 0 1,0 6.6,0a3.3,3.3 0 1,0 -6.6,0M789.9,317.4a3.3,3.3 0 1,0 6.6,0a3.3,3.3 0 1,0 -6.6,0M789.2,321.3a3.3,3.3 0 1,0 6.6,0a3.3,3.3 0 1,0 -6.6,0M789.0,323.6a3.3,3.3 0 1,0 6.6,0a3.3,3.3 0 1,0 -6.6,0M789.3,325.0a3.3,3.3 0 1,0 6.6,0a3.3,3.3 0 1,0 -6.6,0M791.7,313.9a3.3,3.3 0 1,0 6.6,0a3.3,3.3 0 1,0 -6.6,0M792.1,316.0a3.3,3.3 0 1,0 6.6,0a3.3,3.3 0 1,0 -6.6,0M792.2,318.3a3.3,3.3 0 1,0 6.6,0a3.3,3.3 0 1,0 -6.6,0M791.9,321.0a3.3,3.3 0 1,0 6.6,0a3.3,3.3 0 1,0 -6.6,0M791.5,324.0a3.3,3.3 0 1,0 6.6,0a3.3,3.3 0 1,0 -6.6,0M791.8,327.2a3.3,3.3 0 1,0 6.6,0a3.3,3.3 0 1,0 -6.6,0M794.0,314.0a3.3,3.3 0 1,0 6.6,0a3.3,3.3 0 1,0 -6.6,0M793.6,316.7a3.3,3.3 0 1,0 6.6,0a3.3,3.3 0 1,0 -6.6,0M794.3,318.6a3.3,3.3 0 1,0 6.6,0a3.3,3.3 0 1,0 -6.6,0M794.1,321.8a3.3,3.3 0 1,0 6.6,0a3.3,3.3 0 1,0 -6.6,0M794.3,324.7a3.3,3.3 0 1,0 6.6,0a3.3,3.3 0 1,0 -6.6,0M793.7,327.1a3.3,3.3 0 1,0 6.6,0a3.3,3.3 0 1,0 -6.6,0M794.5,329.4a3.3,3.3 0 1,0 6.6,0a3.3,3.3 0 1,0 -6.6,0M796.0,315.6a3.3,3.3 0 1,0 6.6,0a3.3,3.3 0 1,0 -6.6,0M796.9,317.2a3.3,3.3 0 1,0 6.6,0a3.3,3.3 0 1,0 -6.6,0M797.0,319.6a3.3,3.3 0 1,0 6.6,0a3.3,3.3 0 1,0 -6.6,0M795.8,323.5a3.3,3.3 0 1,0 6.6,0a3.3,3.3 0 1,0 -6.6,0M796.6,324.9a3.3,3.3 0 1,0 6.6,0a3.3,3.3 0 1,0 -6.6,0M795.7,327.6a3.3,3.3 0 1,0 6.6,0a3.3,3.3 0 1,0 -6.6,0M796.2,331.3a3.3,3.3 0 1,0 6.6,0a3.3,3.3 0 1,0 -6.6,0M798.0,318.0a3.3,3.3 0 1,0 6.6,0a3.3,3.3 0 1,0 -6.6,0M798.8,319.8a3.3,3.3 0 1,0 6.6,0a3.3,3.3 0 1,0 -6.6,0M798.1,321.6a3.3,3.3 0 1,0 6.6,0a3.3,3.3 0 1,0 -6.6,0M799.1,325.3a3.3,3.3 0 1,0 6.6,0a3.3,3.3 0 1,0 -6.6,0M798.0,328.3a3.3,3.3 0 1,0 6.6,0a3.3,3.3 0 1,0 -6.6,0M798.9,330.0a3.3,3.3 0 1,0 6.6,0a3.3,3.3 0 1,0 -6.6,0M798.8,332.4a3.3,3.3 0 1,0 6.6,0a3.3,3.3 0 1,0 -6.6,0M800.1,331.5a3.3,3.3 0 1,0 6.6,0a3.3,3.3 0 1,0 -6.6,0M800.1,333.5a3.3,3.3 0 1,0 6.6,0a3.3,3.3 0 1,0 -6.6,0M802.9,332.2a3.3,3.3 0 1,0 6.6,0a3.3,3.3 0 1,0 -6.6,0M802.4,336.0a3.3,3.3 0 1,0 6.6,0a3.3,3.3 0 1,0 -6.6,0M804.7,331.6a3.3,3.3 0 1,0 6.6,0a3.3,3.3 0 1,0 -6.6,0M805.8,335.4a3.3,3.3 0 1,0 6.6,0a3.3,3.3 0 1,0 -6.6,0M804.5,338.1a3.3,3.3 0 1,0 6.6,0a3.3,3.3 0 1,0 -6.6,0M807.9,331.5a3.3,3.3 0 1,0 6.6,0a3.3,3.3 0 1,0 -6.6,0M807.7,334.4a3.3,3.3 0 1,0 6.6,0a3.3,3.3 0 1,0 -6.6,0M807.3,336.4a3.3,3.3 0 1,0 6.6,0a3.3,3.3 0 1,0 -6.6,0M807.2,338.9a3.3,3.3 0 1,0 6.6,0a3.3,3.3 0 1,0 -6.6,0M808.8,332.5a3.3,3.3 0 1,0 6.6,0a3.3,3.3 0 1,0 -6.6,0M810.0,335.4a3.3,3.3 0 1,0 6.6,0a3.3,3.3 0 1,0 -6.6,0M809.4,337.2a3.3,3.3 0 1,0 6.6,0a3.3,3.3 0 1,0 -6.6,0M809.4,340.9a3.3,3.3 0 1,0 6.6,0a3.3,3.3 0 1,0 -6.6,0M811.2,331.9a3.3,3.3 0 1,0 6.6,0a3.3,3.3 0 1,0 -6.6,0M811.0,334.8a3.3,3.3 0 1,0 6.6,0a3.3,3.3 0 1,0 -6.6,0M812.1,337.9a3.3,3.3 0 1,0 6.6,0a3.3,3.3 0 1,0 -6.6,0M812.2,340.0a3.3,3.3 0 1,0 6.6,0a3.3,3.3 0 1,0 -6.6,0M811.6,342.2a3.3,3.3 0 1,0 6.6,0a3.3,3.3 0 1,0 -6.6,0M813.9,333.6a3.3,3.3 0 1,0 6.6,0a3.3,3.3 0 1,0 -6.6,0M814.3,336.7a3.3,3.3 0 1,0 6.6,0a3.3,3.3 0 1,0 -6.6,0M814.5,337.9a3.3,3.3 0 1,0 6.6,0a3.3,3.3 0 1,0 -6.6,0M814.3,341.2a3.3,3.3 0 1,0 6.6,0a3.3,3.3 0 1,0 -6.6,0M813.8,343.7a3.3,3.3 0 1,0 6.6,0a3.3,3.3 0 1,0 -6.6,0M816.6,335.1a3.3,3.3 0 1,0 6.6,0a3.3,3.3 0 1,0 -6.6,0M816.5,337.3a3.3,3.3 0 1,0 6.6,0a3.3,3.3 0 1,0 -6.6,0M816.0,339.9a3.3,3.3 0 1,0 6.6,0a3.3,3.3 0 1,0 -6.6,0M815.5,342.3a3.3,3.3 0 1,0 6.6,0a3.3,3.3 0 1,0 -6.6,0M816.1,344.1a3.3,3.3 0 1,0 6.6,0a3.3,3.3 0 1,0 -6.6,0M818.1,334.6a3.3,3.3 0 1,0 6.6,0a3.3,3.3 0 1,0 -6.6,0M818.5,338.2a3.3,3.3 0 1,0 6.6,0a3.3,3.3 0 1,0 -6.6,0M818.9,340.0a3.3,3.3 0 1,0 6.6,0a3.3,3.3 0 1,0 -6.6,0M818.1,343.3a3.3,3.3 0 1,0 6.6,0a3.3,3.3 0 1,0 -6.6,0M818.4,345.8a3.3,3.3 0 1,0 6.6,0a3.3,3.3 0 1,0 -6.6,0M820.3,336.5a3.3,3.3 0 1,0 6.6,0a3.3,3.3 0 1,0 -6.6,0M820.7,339.9a3.3,3.3 0 1,0 6.6,0a3.3,3.3 0 1,0 -6.6,0M820.9,341.9a3.3,3.3 0 1,0 6.6,0a3.3,3.3 0 1,0 -6.6,0M819.8,345.0a3.3,3.3 0 1,0 6.6,0a3.3,3.3 0 1,0 -6.6,0M820.8,346.9a3.3,3.3 0 1,0 6.6,0a3.3,3.3 0 1,0 -6.6,0M822.6,337.4a3.3,3.3 0 1,0 6.6,0a3.3,3.3 0 1,0 -6.6,0M822.3,339.5a3.3,3.3 0 1,0 6.6,0a3.3,3.3 0 1,0 -6.6,0M822.1,342.6a3.3,3.3 0 1,0 6.6,0a3.3,3.3 0 1,0 -6.6,0M823.3,344.9a3.3,3.3 0 1,0 6.6,0a3.3,3.3 0 1,0 -6.6,0M822.7,348.0a3.3,3.3 0 1,0 6.6,0a3.3,3.3 0 1,0 -6.6,0M825.0,340.4a3.3,3.3 0 1,0 6.6,0a3.3,3.3 0 1,0 -6.6,0M825.1,342.8a3.3,3.3 0 1,0 6.6,0a3.3,3.3 0 1,0 -6.6,0M824.3,344.9a3.3,3.3 0 1,0 6.6,0a3.3,3.3 0 1,0 -6.6,0M825.3,346.8a3.3,3.3 0 1,0 6.6,0a3.3,3.3 0 1,0 -6.6,0M825.5,348.2a3.3,3.3 0 1,0 6.6,0a3.3,3.3 0 1,0 -6.6,0M827.1,340.7a3.3,3.3 0 1,0 6.6,0a3.3,3.3 0 1,0 -6.6,0M827.1,343.0a3.3,3.3 0 1,0 6.6,0a3.3,3.3 0 1,0 -6.6,0M826.5,346.0a3.3,3.3 0 1,0 6.6,0a3.3,3.3 0 1,0 -6.6,0M827.0,348.8a3.3,3.3 0 1,0 6.6,0a3.3,3.3 0 1,0 -6.6,0M827.2,350.3a3.3,3.3 0 1,0 6.6,0a3.3,3.3 0 1,0 -6.6,0M829.0,342.8a3.3,3.3 0 1,0 6.6,0a3.3,3.3 0 1,0 -6.6,0M829.4,346.2a3.3,3.3 0 1,0 6.6,0a3.3,3.3 0 1,0 -6.6,0M829.6,348.3a3.3,3.3 0 1,0 6.6,0a3.3,3.3 0 1,0 -6.6,0M828.6,351.2a3.3,3.3 0 1,0 6.6,0a3.3,3.3 0 1,0 -6.6,0M830.9,344.4a3.3,3.3 0 1,0 6.6,0a3.3,3.3 0 1,0 -6.6,0M831.9,346.9a3.3,3.3 0 1,0 6.6,0a3.3,3.3 0 1,0 -6.6,0M832.1,350.0a3.3,3.3 0 1,0 6.6,0a3.3,3.3 0 1,0 -6.6,0M830.9,353.3a3.3,3.3 0 1,0 6.6,0a3.3,3.3 0 1,0 -6.6,0M834.3,347.1a3.3,3.3 0 1,0 6.6,0a3.3,3.3 0 1,0 -6.6,0M834.3,348.1a3.3,3.3 0 1,0 6.6,0a3.3,3.3 0 1,0 -6.6,0M833.7,351.4a3.3,3.3 0 1,0 6.6,0a3.3,3.3 0 1,0 -6.6,0M833.3,355.1a3.3,3.3 0 1,0 6.6,0a3.3,3.3 0 1,0 -6.6,0M836.5,347.6a3.3,3.3 0 1,0 6.6,0a3.3,3.3 0 1,0 -6.6,0M835.9,350.6a3.3,3.3 0 1,0 6.6,0a3.3,3.3 0 1,0 -6.6,0M836.3,353.7a3.3,3.3 0 1,0 6.6,0a3.3,3.3 0 1,0 -6.6,0M835.4,355.7a3.3,3.3 0 1,0 6.6,0a3.3,3.3 0 1,0 -6.6,0M838.0,349.1a3.3,3.3 0 1,0 6.6,0a3.3,3.3 0 1,0 -6.6,0M837.5,351.0a3.3,3.3 0 1,0 6.6,0a3.3,3.3 0 1,0 -6.6,0M837.6,354.2a3.3,3.3 0 1,0 6.6,0a3.3,3.3 0 1,0 -6.6,0M838.3,356.7a3.3,3.3 0 1,0 6.6,0a3.3,3.3 0 1,0 -6.6,0M840.0,350.1a3.3,3.3 0 1,0 6.6,0a3.3,3.3 0 1,0 -6.6,0M840.2,353.0a3.3,3.3 0 1,0 6.6,0a3.3,3.3 0 1,0 -6.6,0M840.3,356.0a3.3,3.3 0 1,0 6.6,0a3.3,3.3 0 1,0 -6.6,0M840.9,359.1a3.3,3.3 0 1,0 6.6,0a3.3,3.3 0 1,0 -6.6,0M842.1,352.5a3.3,3.3 0 1,0 6.6,0a3.3,3.3 0 1,0 -6.6,0M843.0,354.0a3.3,3.3 0 1,0 6.6,0a3.3,3.3 0 1,0 -6.6,0M842.7,357.7a3.3,3.3 0 1,0 6.6,0a3.3,3.3 0 1,0 -6.6,0M842.2,359.5a3.3,3.3 0 1,0 6.6,0a3.3,3.3 0 1,0 -6.6,0M844.8,355.4a3.3,3.3 0 1,0 6.6,0a3.3,3.3 0 1,0 -6.6,0M844.9,357.5a3.3,3.3 0 1,0 6.6,0a3.3,3.3 0 1,0 -6.6,0M844.3,360.1a3.3,3.3 0 1,0 6.6,0a3.3,3.3 0 1,0 -6.6,0M845.4,361.5a3.3,3.3 0 1,0 6.6,0a3.3,3.3 0 1,0 -6.6,0M847.4,358.6a3.3,3.3 0 1,0 6.6,0a3.3,3.3 0 1,0 -6.6,0M846.3,359.1a3.3,3.3 0 1,0 6.6,0a3.3,3.3 0 1,0 -6.6,0M846.8,361.7a3.3,3.3 0 1,0 6.6,0a3.3,3.3 0 1,0 -6.6,0M846.3,364.4a3.3,3.3 0 1,0 6.6,0a3.3,3.3 0 1,0 -6.6,0M848.5,359.4a3.3,3.3 0 1,0 6.6,0a3.3,3.3 0 1,0 -6.6,0M849.3,360.9a3.3,3.3 0 1,0 6.6,0a3.3,3.3 0 1,0 -6.6,0M849.3,364.1a3.3,3.3 0 1,0 6.6,0a3.3,3.3 0 1,0 -6.6,0M849.1,366.2a3.3,3.3 0 1,0 6.6,0a3.3,3.3 0 1,0 -6.6,0M851.1,360.3a3.3,3.3 0 1,0 6.6,0a3.3,3.3 0 1,0 -6.6,0M851.8,363.9a3.3,3.3 0 1,0 6.6,0a3.3,3.3 0 1,0 -6.6,0M850.8,365.2a3.3,3.3 0 1,0 6.6,0a3.3,3.3 0 1,0 -6.6,0M851.5,369.2a3.3,3.3 0 1,0 6.6,0a3.3,3.3 0 1,0 -6.6,0M853.1,362.8a3.3,3.3 0 1,0 6.6,0a3.3,3.3 0 1,0 -6.6,0M853.2,364.4a3.3,3.3 0 1,0 6.6,0a3.3,3.3 0 1,0 -6.6,0M853.3,367.3a3.3,3.3 0 1,0 6.6,0a3.3,3.3 0 1,0 -6.6,0M854.2,369.2a3.3,3.3 0 1,0 6.6,0a3.3,3.3 0 1,0 -6.6,0M853.6,370.8a3.3,3.3 0 1,0 6.6,0a3.3,3.3 0 1,0 -6.6,0M856.3,364.3a3.3,3.3 0 1,0 6.6,0a3.3,3.3 0 1,0 -6.6,0M855.5,366.2a3.3,3.3 0 1,0 6.6,0a3.3,3.3 0 1,0 -6.6,0M856.2,368.1a3.3,3.3 0 1,0 6.6,0a3.3,3.3 0 1,0 -6.6,0M855.1,370.5a3.3,3.3 0 1,0 6.6,0a3.3,3.3 0 1,0 -6.6,0M855.7,373.9a3.3,3.3 0 1,0 6.6,0a3.3,3.3 0 1,0 -6.6,0M857.6,365.6a3.3,3.3 0 1,0 6.6,0a3.3,3.3 0 1,0 -6.6,0M857.3,368.5a3.3,3.3 0 1,0 6.6,0a3.3,3.3 0 1,0 -6.6,0M858.1,370.3a3.3,3.3 0 1,0 6.6,0a3.3,3.3 0 1,0 -6.6,0M857.6,372.9a3.3,3.3 0 1,0 6.6,0a3.3,3.3 0 1,0 -6.6,0M858.2,376.8a3.3,3.3 0 1,0 6.6,0a3.3,3.3 0 1,0 -6.6,0M859.6,366.2a3.3,3.3 0 1,0 6.6,0a3.3,3.3 0 1,0 -6.6,0M860.4,368.8a3.3,3.3 0 1,0 6.6,0a3.3,3.3 0 1,0 -6.6,0M859.6,371.3a3.3,3.3 0 1,0 6.6,0a3.3,3.3 0 1,0 -6.6,0M860.2,374.4a3.3,3.3 0 1,0 6.6,0a3.3,3.3 0 1,0 -6.6,0M860.7,377.3a3.3,3.3 0 1,0 6.6,0a3.3,3.3 0 1,0 -6.6,0M860.0,379.8a3.3,3.3 0 1,0 6.6,0a3.3,3.3 0 1,0 -6.6,0M862.0,368.4a3.3,3.3 0 1,0 6.6,0a3.3,3.3 0 1,0 -6.6,0M862.2,370.3a3.3,3.3 0 1,0 6.6,0a3.3,3.3 0 1,0 -6.6,0M862.9,374.2a3.3,3.3 0 1,0 6.6,0a3.3,3.3 0 1,0 -6.6,0M862.1,375.7a3.3,3.3 0 1,0 6.6,0a3.3,3.3 0 1,0 -6.6,0M862.1,378.6a3.3,3.3 0 1,0 6.6,0a3.3,3.3 0 1,0 -6.6,0M862.1,381.5a3.3,3.3 0 1,0 6.6,0a3.3,3.3 0 1,0 -6.6,0M864.6,368.7a3.3,3.3 0 1,0 6.6,0a3.3,3.3 0 1,0 -6.6,0M864.6,372.2a3.3,3.3 0 1,0 6.6,0a3.3,3.3 0 1,0 -6.6,0M864.6,374.8a3.3,3.3 0 1,0 6.6,0a3.3,3.3 0 1,0 -6.6,0M864.9,376.0a3.3,3.3 0 1,0 6.6,0a3.3,3.3 0 1,0 -6.6,0M864.2,379.8a3.3,3.3 0 1,0 6.6,0a3.3,3.3 0 1,0 -6.6,0M864.5,380.7a3.3,3.3 0 1,0 6.6,0a3.3,3.3 0 1,0 -6.6,0M864.6,384.1a3.3,3.3 0 1,0 6.6,0a3.3,3.3 0 1,0 -6.6,0M866.9,371.4a3.3,3.3 0 1,0 6.6,0a3.3,3.3 0 1,0 -6.6,0M866.1,373.7a3.3,3.3 0 1,0 6.6,0a3.3,3.3 0 1,0 -6.6,0M867.1,375.9a3.3,3.3 0 1,0 6.6,0a3.3,3.3 0 1,0 -6.6,0M866.1,377.7a3.3,3.3 0 1,0 6.6,0a3.3,3.3 0 1,0 -6.6,0M867.3,381.5a3.3,3.3 0 1,0 6.6,0a3.3,3.3 0 1,0 -6.6,0M866.9,383.0a3.3,3.3 0 1,0 6.6,0a3.3,3.3 0 1,0 -6.6,0M867.0,385.7a3.3,3.3 0 1,0 6.6,0a3.3,3.3 0 1,0 -6.6,0M868.5,372.2a3.3,3.3 0 1,0 6.6,0a3.3,3.3 0 1,0 -6.6,0M869.3,373.8a3.3,3.3 0 1,0 6.6,0a3.3,3.3 0 1,0 -6.6,0M869.3,376.7a3.3,3.3 0 1,0 6.6,0a3.3,3.3 0 1,0 -6.6,0M868.7,378.9a3.3,3.3 0 1,0 6.6,0a3.3,3.3 0 1,0 -6.6,0M869.1,382.3a3.3,3.3 0 1,0 6.6,0a3.3,3.3 0 1,0 -6.6,0M869.0,383.9a3.3,3.3 0 1,0 6.6,0a3.3,3.3 0 1,0 -6.6,0M869.2,386.7a3.3,3.3 0 1,0 6.6,0a3.3,3.3 0 1,0 -6.6,0M868.8,389.4a3.3,3.3 0 1,0 6.6,0a3.3,3.3 0 1,0 -6.6,0M871.3,373.8a3.3,3.3 0 1,0 6.6,0a3.3,3.3 0 1,0 -6.6,0M871.5,376.4a3.3,3.3 0 1,0 6.6,0a3.3,3.3 0 1,0 -6.6,0M871.6,378.9a3.3,3.3 0 1,0 6.6,0a3.3,3.3 0 1,0 -6.6,0M871.3,381.7a3.3,3.3 0 1,0 6.6,0a3.3,3.3 0 1,0 -6.6,0M871.4,383.4a3.3,3.3 0 1,0 6.6,0a3.3,3.3 0 1,0 -6.6,0M871.0,386.5a3.3,3.3 0 1,0 6.6,0a3.3,3.3 0 1,0 -6.6,0M870.6,388.3a3.3,3.3 0 1,0 6.6,0a3.3,3.3 0 1,0 -6.6,0M871.8,391.5a3.3,3.3 0 1,0 6.6,0a3.3,3.3 0 1,0 -6.6,0M872.8,374.3a3.3,3.3 0 1,0 6.6,0a3.3,3.3 0 1,0 -6.6,0M873.2,376.3a3.3,3.3 0 1,0 6.6,0a3.3,3.3 0 1,0 -6.6,0M874.0,378.9a3.3,3.3 0 1,0 6.6,0a3.3,3.3 0 1,0 -6.6,0M873.0,380.8a3.3,3.3 0 1,0 6.6,0a3.3,3.3 0 1,0 -6.6,0M873.5,383.2a3.3,3.3 0 1,0 6.6,0a3.3,3.3 0 1,0 -6.6,0M872.9,386.8a3.3,3.3 0 1,0 6.6,0a3.3,3.3 0 1,0 -6.6,0M873.2,387.9a3.3,3.3 0 1,0 6.6,0a3.3,3.3 0 1,0 -6.6,0M873.9,391.2a3.3,3.3 0 1,0 6.6,0a3.3,3.3 0 1,0 -6.6,0M872.8,392.5a3.3,3.3 0 1,0 6.6,0a3.3,3.3 0 1,0 -6.6,0M875.1,375.2a3.3,3.3 0 1,0 6.6,0a3.3,3.3 0 1,0 -6.6,0M875.8,377.8a3.3,3.3 0 1,0 6.6,0a3.3,3.3 0 1,0 -6.6,0M875.1,380.9a3.3,3.3 0 1,0 6.6,0a3.3,3.3 0 1,0 -6.6,0M875.2,382.7a3.3,3.3 0 1,0 6.6,0a3.3,3.3 0 1,0 -6.6,0M875.9,385.2a3.3,3.3 0 1,0 6.6,0a3.3,3.3 0 1,0 -6.6,0M875.6,387.9a3.3,3.3 0 1,0 6.6,0a3.3,3.3 0 1,0 -6.6,0M875.5,391.3a3.3,3.3 0 1,0 6.6,0a3.3,3.3 0 1,0 -6.6,0M876.0,392.8a3.3,3.3 0 1,0 6.6,0a3.3,3.3 0 1,0 -6.6,0M875.3,396.5a3.3,3.3 0 1,0 6.6,0a3.3,3.3 0 1,0 -6.6,0M878.3,377.1a3.3,3.3 0 1,0 6.6,0a3.3,3.3 0 1,0 -6.6,0M877.3,379.6a3.3,3.3 0 1,0 6.6,0a3.3,3.3 0 1,0 -6.6,0M878.3,381.4a3.3,3.3 0 1,0 6.6,0a3.3,3.3 0 1,0 -6.6,0M877.5,385.3a3.3,3.3 0 1,0 6.6,0a3.3,3.3 0 1,0 -6.6,0M877.7,387.4a3.3,3.3 0 1,0 6.6,0a3.3,3.3 0 1,0 -6.6,0M878.4,389.5a3.3,3.3 0 1,0 6.6,0a3.3,3.3 0 1,0 -6.6,0M877.3,392.7a3.3,3.3 0 1,0 6.6,0a3.3,3.3 0 1,0 -6.6,0M877.7,394.1a3.3,3.3 0 1,0 6.6,0a3.3,3.3 0 1,0 -6.6,0M878.1,397.4a3.3,3.3 0 1,0 6.6,0a3.3,3.3 0 1,0 -6.6,0M880.0,378.7a3.3,3.3 0 1,0 6.6,0a3.3,3.3 0 1,0 -6.6,0M879.4,380.2a3.3,3.3 0 1,0 6.6,0a3.3,3.3 0 1,0 -6.6,0M879.6,383.1a3.3,3.3 0 1,0 6.6,0a3.3,3.3 0 1,0 -6.6,0M879.9,386.7a3.3,3.3 0 1,0 6.6,0a3.3,3.3 0 1,0 -6.6,0M880.6,388.8a3.3,3.3 0 1,0 6.6,0a3.3,3.3 0 1,0 -6.6,0M879.9,390.8a3.3,3.3 0 1,0 6.6,0a3.3,3.3 0 1,0 -6.6,0M880.3,393.1a3.3,3.3 0 1,0 6.6,0a3.3,3.3 0 1,0 -6.6,0M880.3,395.4a3.3,3.3 0 1,0 6.6,0a3.3,3.3 0 1,0 -6.6,0M880.4,399.5a3.3,3.3 0 1,0 6.6,0a3.3,3.3 0 1,0 -6.6,0M881.8,378.9a3.3,3.3 0 1,0 6.6,0a3.3,3.3 0 1,0 -6.6,0M881.5,382.6a3.3,3.3 0 1,0 6.6,0a3.3,3.3 0 1,0 -6.6,0M882.1,384.8a3.3,3.3 0 1,0 6.6,0a3.3,3.3 0 1,0 -6.6,0M882.2,388.2a3.3,3.3 0 1,0 6.6,0a3.3,3.3 0 1,0 -6.6,0M881.8,390.6a3.3,3.3 0 1,0 6.6,0a3.3,3.3 0 1,0 -6.6,0M882.0,393.0a3.3,3.3 0 1,0 6.6,0a3.3,3.3 0 1,0 -6.6,0M881.5,395.8a3.3,3.3 0 1,0 6.6,0a3.3,3.3 0 1,0 -6.6,0M881.7,398.3a3.3,3.3 0 1,0 6.6,0a3.3,3.3 0 1,0 -6.6,0M882.1,400.3a3.3,3.3 0 1,0 6.6,0a3.3,3.3 0 1,0 -6.6,0M884.8,381.0a3.3,3.3 0 1,0 6.6,0a3.3,3.3 0 1,0 -6.6,0M884.0,383.8a3.3,3.3 0 1,0 6.6,0a3.3,3.3 0 1,0 -6.6,0M884.0,385.9a3.3,3.3 0 1,0 6.6,0a3.3,3.3 0 1,0 -6.6,0M884.6,389.1a3.3,3.3 0 1,0 6.6,0a3.3,3.3 0 1,0 -6.6,0M884.6,391.4a3.3,3.3 0 1,0 6.6,0a3.3,3.3 0 1,0 -6.6,0M884.2,393.4a3.3,3.3 0 1,0 6.6,0a3.3,3.3 0 1,0 -6.6,0M885.0,396.5a3.3,3.3 0 1,0 6.6,0a3.3,3.3 0 1,0 -6.6,0M884.5,399.7a3.3,3.3 0 1,0 6.6,0a3.3,3.3 0 1,0 -6.6,0M884.1,400.7a3.3,3.3 0 1,0 6.6,0a3.3,3.3 0 1,0 -6.6,0M886.1,384.0a3.3,3.3 0 1,0 6.6,0a3.3,3.3 0 1,0 -6.6,0M886.4,386.2a3.3,3.3 0 1,0 6.6,0a3.3,3.3 0 1,0 -6.6,0M887.2,387.6a3.3,3.3 0 1,0 6.6,0a3.3,3.3 0 1,0 -6.6,0M886.1,391.4a3.3,3.3 0 1,0 6.6,0a3.3,3.3 0 1,0 -6.6,0M886.2,393.5a3.3,3.3 0 1,0 6.6,0a3.3,3.3 0 1,0 -6.6,0M886.6,395.5a3.3,3.3 0 1,0 6.6,0a3.3,3.3 0 1,0 -6.6,0M886.3,397.7a3.3,3.3 0 1,0 6.6,0a3.3,3.3 0 1,0 -6.6,0M886.7,400.3a3.3,3.3 0 1,0 6.6,0a3.3,3.3 0 1,0 -6.6,0M886.1,402.4a3.3,3.3 0 1,0 6.6,0a3.3,3.3 0 1,0 -6.6,0M888.5,386.1a3.3,3.3 0 1,0 6.6,0a3.3,3.3 0 1,0 -6.6,0M888.8,389.1a3.3,3.3 0 1,0 6.6,0a3.3,3.3 0 1,0 -6.6,0M888.5,391.4a3.3,3.3 0 1,0 6.6,0a3.3,3.3 0 1,0 -6.6,0M888.1,394.2a3.3,3.3 0 1,0 6.6,0a3.3,3.3 0 1,0 -6.6,0M888.1,395.6a3.3,3.3 0 1,0 6.6,0a3.3,3.3 0 1,0 -6.6,0M889.0,399.2a3.3,3.3 0 1,0 6.6,0a3.3,3.3 0 1,0 -6.6,0M888.6,401.0a3.3,3.3 0 1,0 6.6,0a3.3,3.3 0 1,0 -6.6,0M888.8,404.8a3.3,3.3 0 1,0 6.6,0a3.3,3.3 0 1,0 -6.6,0M890.5,386.9a3.3,3.3 0 1,0 6.6,0a3.3,3.3 0 1,0 -6.6,0M890.4,389.6a3.3,3.3 0 1,0 6.6,0a3.3,3.3 0 1,0 -6.6,0M890.3,392.6a3.3,3.3 0 1,0 6.6,0a3.3,3.3 0 1,0 -6.6,0M890.8,396.1a3.3,3.3 0 1,0 6.6,0a3.3,3.3 0 1,0 -6.6,0M891.1,397.9a3.3,3.3 0 1,0 6.6,0a3.3,3.3 0 1,0 -6.6,0M891.3,400.9a3.3,3.3 0 1,0 6.6,0a3.3,3.3 0 1,0 -6.6,0M890.7,402.8a3.3,3.3 0 1,0 6.6,0a3.3,3.3 0 1,0 -6.6,0M890.2,405.4a3.3,3.3 0 1,0 6.6,0a3.3,3.3 0 1,0 -6.6,0M893.4,389.2a3.3,3.3 0 1,0 6.6,0a3.3,3.3 0 1,0 -6.6,0M893.5,392.7a3.3,3.3 0 1,0 6.6,0a3.3,3.3 0 1,0 -6.6,0M893.3,394.6a3.3,3.3 0 1,0 6.6,0a3.3,3.3 0 1,0 -6.6,0M892.9,395.9a3.3,3.3 0 1,0 6.6,0a3.3,3.3 0 1,0 -6.6,0M893.3,398.9a3.3,3.3 0 1,0 6.6,0a3.3,3.3 0 1,0 -6.6,0M892.9,401.0a3.3,3.3 0 1,0 6.6,0a3.3,3.3 0 1,0 -6.6,0M893.5,404.2a3.3,3.3 0 1,0 6.6,0a3.3,3.3 0 1,0 -6.6,0M893.3,407.2a3.3,3.3 0 1,0 6.6,0a3.3,3.3 0 1,0 -6.6,0M895.7,390.2a3.3,3.3 0 1,0 6.6,0a3.3,3.3 0 1,0 -6.6,0M895.4,394.0a3.3,3.3 0 1,0 6.6,0a3.3,3.3 0 1,0 -6.6,0M895.3,395.4a3.3,3.3 0 1,0 6.6,0a3.3,3.3 0 1,0 -6.6,0M895.6,397.4a3.3,3.3 0 1,0 6.6,0a3.3,3.3 0 1,0 -6.6,0M895.3,401.3a3.3,3.3 0 1,0 6.6,0a3.3,3.3 0 1,0 -6.6,0M895.8,403.2a3.3,3.3 0 1,0 6.6,0a3.3,3.3 0 1,0 -6.6,0M895.9,404.6a3.3,3.3 0 1,0 6.6,0a3.3,3.3 0 1,0 -6.6,0M894.9,407.8a3.3,3.3 0 1,0 6.6,0a3.3,3.3 0 1,0 -6.6,0M897.1,391.6a3.3,3.3 0 1,0 6.6,0a3.3,3.3 0 1,0 -6.6,0M897.8,395.2a3.3,3.3 0 1,0 6.6,0a3.3,3.3 0 1,0 -6.6,0M898.1,397.4a3.3,3.3 0 1,0 6.6,0a3.3,3.3 0 1,0 -6.6,0M897.4,400.2a3.3,3.3 0 1,0 6.6,0a3.3,3.3 0 1,0 -6.6,0M898.2,402.4a3.3,3.3 0 1,0 6.6,0a3.3,3.3 0 1,0 -6.6,0M898.1,405.1a3.3,3.3 0 1,0 6.6,0a3.3,3.3 0 1,0 -6.6,0M897.6,408.6a3.3,3.3 0 1,0 6.6,0a3.3,3.3 0 1,0 -6.6,0M899.4,393.9a3.3,3.3 0 1,0 6.6,0a3.3,3.3 0 1,0 -6.6,0M900.4,397.2a3.3,3.3 0 1,0 6.6,0a3.3,3.3 0 1,0 -6.6,0M899.8,399.6a3.3,3.3 0 1,0 6.6,0a3.3,3.3 0 1,0 -6.6,0M900.2,401.0a3.3,3.3 0 1,0 6.6,0a3.3,3.3 0 1,0 -6.6,0M900.3,403.8a3.3,3.3 0 1,0 6.6,0a3.3,3.3 0 1,0 -6.6,0M899.8,406.4a3.3,3.3 0 1,0 6.6,0a3.3,3.3 0 1,0 -6.6,0M899.3,410.0a3.3,3.3 0 1,0 6.6,0a3.3,3.3 0 1,0 -6.6,0M901.3,395.5a3.3,3.3 0 1,0 6.6,0a3.3,3.3 0 1,0 -6.6,0M901.5,397.0a3.3,3.3 0 1,0 6.6,0a3.3,3.3 0 1,0 -6.6,0M902.5,401.2a3.3,3.3 0 1,0 6.6,0a3.3,3.3 0 1,0 -6.6,0M901.6,403.2a3.3,3.3 0 1,0 6.6,0a3.3,3.3 0 1,0 -6.6,0M902.2,405.7a3.3,3.3 0 1,0 6.6,0a3.3,3.3 0 1,0 -6.6,0M902.0,407.6a3.3,3.3 0 1,0 6.6,0a3.3,3.3 0 1,0 -6.6,0M901.2,410.9a3.3,3.3 0 1,0 6.6,0a3.3,3.3 0 1,0 -6.6,0M904.1,396.8a3.3,3.3 0 1,0 6.6,0a3.3,3.3 0 1,0 -6.6,0M903.9,399.1a3.3,3.3 0 1,0 6.6,0a3.3,3.3 0 1,0 -6.6,0M903.6,402.2a3.3,3.3 0 1,0 6.6,0a3.3,3.3 0 1,0 -6.6,0M903.8,404.4a3.3,3.3 0 1,0 6.6,0a3.3,3.3 0 1,0 -6.6,0M903.9,406.9a3.3,3.3 0 1,0 6.6,0a3.3,3.3 0 1,0 -6.6,0M903.5,409.3a3.3,3.3 0 1,0 6.6,0a3.3,3.3 0 1,0 -6.6,0M903.6,411.7a3.3,3.3 0 1,0 6.6,0a3.3,3.3 0 1,0 -6.6,0M906.4,400.2a3.3,3.3 0 1,0 6.6,0a3.3,3.3 0 1,0 -6.6,0M906.2,402.0a3.3,3.3 0 1,0 6.6,0a3.3,3.3 0 1,0 -6.6,0M906.6,404.9a3.3,3.3 0 1,0 6.6,0a3.3,3.3 0 1,0 -6.6,0M906.7,407.9a3.3,3.3 0 1,0 6.6,0a3.3,3.3 0 1,0 -6.6,0M907.0,410.1a3.3,3.3 0 1,0 6.6,0a3.3,3.3 0 1,0 -6.6,0M906.8,413.4a3.3,3.3 0 1,0 6.6,0a3.3,3.3 0 1,0 -6.6,0M908.4,401.2a3.3,3.3 0 1,0 6.6,0a3.3,3.3 0 1,0 -6.6,0M909.1,404.0a3.3,3.3 0 1,0 6.6,0a3.3,3.3 0 1,0 -6.6,0M908.5,406.5a3.3,3.3 0 1,0 6.6,0a3.3,3.3 0 1,0 -6.6,0M909.1,408.9a3.3,3.3 0 1,0 6.6,0a3.3,3.3 0 1,0 -6.6,0M907.9,411.3a3.3,3.3 0 1,0 6.6,0a3.3,3.3 0 1,0 -6.6,0M909.1,414.6a3.3,3.3 0 1,0 6.6,0a3.3,3.3 0 1,0 -6.6,0M910.8,403.7a3.3,3.3 0 1,0 6.6,0a3.3,3.3 0 1,0 -6.6,0M910.4,406.2a3.3,3.3 0 1,0 6.6,0a3.3,3.3 0 1,0 -6.6,0M910.1,408.4a3.3,3.3 0 1,0 6.6,0a3.3,3.3 0 1,0 -6.6,0M910.6,410.0a3.3,3.3 0 1,0 6.6,0a3.3,3.3 0 1,0 -6.6,0M910.6,413.1a3.3,3.3 0 1,0 6.6,0a3.3,3.3 0 1,0 -6.6,0M911.0,414.7a3.3,3.3 0 1,0 6.6,0a3.3,3.3 0 1,0 -6.6,0M912.5,405.3a3.3,3.3 0 1,0 6.6,0a3.3,3.3 0 1,0 -6.6,0M912.8,407.3a3.3,3.3 0 1,0 6.6,0a3.3,3.3 0 1,0 -6.6,0M912.3,409.5a3.3,3.3 0 1,0 6.6,0a3.3,3.3 0 1,0 -6.6,0M913.6,413.0a3.3,3.3 0 1,0 6.6,0a3.3,3.3 0 1,0 -6.6,0M913.4,414.9a3.3,3.3 0 1,0 6.6,0a3.3,3.3 0 1,0 -6.6,0M913.3,416.7a3.3,3.3 0 1,0 6.6,0a3.3,3.3 0 1,0 -6.6,0M915.4,406.8a3.3,3.3 0 1,0 6.6,0a3.3,3.3 0 1,0 -6.6,0M915.7,410.2a3.3,3.3 0 1,0 6.6,0a3.3,3.3 0 1,0 -6.6,0M915.5,412.1a3.3,3.3 0 1,0 6.6,0a3.3,3.3 0 1,0 -6.6,0M915.2,414.9a3.3,3.3 0 1,0 6.6,0a3.3,3.3 0 1,0 -6.6,0M914.4,419.1a3.3,3.3 0 1,0 6.6,0a3.3,3.3 0 1,0 -6.6,0M917.0,408.8a3.3,3.3 0 1,0 6.6,0a3.3,3.3 0 1,0 -6.6,0M916.7,411.6a3.3,3.3 0 1,0 6.6,0a3.3,3.3 0 1,0 -6.6,0M917.7,415.3a3.3,3.3 0 1,0 6.6,0a3.3,3.3 0 1,0 -6.6,0M917.1,417.0a3.3,3.3 0 1,0 6.6,0a3.3,3.3 0 1,0 -6.6,0M916.7,420.0a3.3,3.3 0 1,0 6.6,0a3.3,3.3 0 1,0 -6.6,0M920.1,410.5a3.3,3.3 0 1,0 6.6,0a3.3,3.3 0 1,0 -6.6,0M919.5,413.5a3.3,3.3 0 1,0 6.6,0a3.3,3.3 0 1,0 -6.6,0M920.2,417.1a3.3,3.3 0 1,0 6.6,0a3.3,3.3 0 1,0 -6.6,0M919.1,418.8a3.3,3.3 0 1,0 6.6,0a3.3,3.3 0 1,0 -6.6,0M920.1,421.0a3.3,3.3 0 1,0 6.6,0a3.3,3.3 0 1,0 -6.6,0M921.3,414.0a3.3,3.3 0 1,0 6.6,0a3.3,3.3 0 1,0 -6.6,0M921.5,416.3a3.3,3.3 0 1,0 6.6,0a3.3,3.3 0 1,0 -6.6,0M921.2,418.1a3.3,3.3 0 1,0 6.6,0a3.3,3.3 0 1,0 -6.6,0M922.4,421.2a3.3,3.3 0 1,0 6.6,0a3.3,3.3 0 1,0 -6.6,0M921.9,422.4a3.3,3.3 0 1,0 6.6,0a3.3,3.3 0 1,0 -6.6,0M924.4,415.5a3.3,3.3 0 1,0 6.6,0a3.3,3.3 0 1,0 -6.6,0M923.3,418.0a3.3,3.3 0 1,0 6.6,0a3.3,3.3 0 1,0 -6.6,0M923.6,422.1a3.3,3.3 0 1,0 6.6,0a3.3,3.3 0 1,0 -6.6,0M924.4,425.2a3.3,3.3 0 1,0 6.6,0a3.3,3.3 0 1,0 -6.6,0M925.6,419.2a3.3,3.3 0 1,0 6.6,0a3.3,3.3 0 1,0 -6.6,0M926.7,421.6a3.3,3.3 0 1,0 6.6,0a3.3,3.3 0 1,0 -6.6,0M925.5,423.5a3.3,3.3 0 1,0 6.6,0a3.3,3.3 0 1,0 -6.6,0M925.8,425.5a3.3,3.3 0 1,0 6.6,0a3.3,3.3 0 1,0 -6.6,0M927.9,421.9a3.3,3.3 0 1,0 6.6,0a3.3,3.3 0 1,0 -6.6,0M927.9,424.0a3.3,3.3 0 1,0 6.6,0a3.3,3.3 0 1,0 -6.6,0M928.7,428.0a3.3,3.3 0 1,0 6.6,0a3.3,3.3 0 1,0 -6.6,0M930.7,424.1a3.3,3.3 0 1,0 6.6,0a3.3,3.3 0 1,0 -6.6,0M930.6,427.5a3.3,3.3 0 1,0 6.6,0a3.3,3.3 0 1,0 -6.6,0M930.2,428.8a3.3,3.3 0 1,0 6.6,0a3.3,3.3 0 1,0 -6.6,0M932.9,428.0a3.3,3.3 0 1,0 6.6,0a3.3,3.3 0 1,0 -6.6,0M932.9,430.6a3.3,3.3 0 1,0 6.6,0a3.3,3.3 0 1,0 -6.6,0M935.6,429.8a3.3,3.3 0 1,0 6.6,0a3.3,3.3 0 1,0 -6.6,0M934.9,432.5a3.3,3.3 0 1,0 6.6,0a3.3,3.3 0 1,0 -6.6,0M936.5,433.9a3.3,3.3 0 1,0 6.6,0a3.3,3.3 0 1,0 -6.6,0M939.0,434.4a3.3,3.3 0 1,0 6.6,0a3.3,3.3 0 1,0 -6.6,0M939.7,436.2a3.3,3.3 0 1,0 6.6,0a3.3,3.3 0 1,0 -6.6,0M941.2,434.4a3.3,3.3 0 1,0 6.6,0a3.3,3.3 0 1,0 -6.6,0M941.1,439.3a3.3,3.3 0 1,0 6.6,0a3.3,3.3 0 1,0 -6.6,0M943.8,435.7a3.3,3.3 0 1,0 6.6,0a3.3,3.3 0 1,0 -6.6,0M944.3,438.0a3.3,3.3 0 1,0 6.6,0a3.3,3.3 0 1,0 -6.6,0M943.0,441.9a3.3,3.3 0 1,0 6.6,0a3.3,3.3 0 1,0 -6.6,0M946.3,436.9a3.3,3.3 0 1,0 6.6,0a3.3,3.3 0 1,0 -6.6,0M946.5,439.9a3.3,3.3 0 1,0 6.6,0a3.3,3.3 0 1,0 -6.6,0M945.5,443.2a3.3,3.3 0 1,0 6.6,0a3.3,3.3 0 1,0 -6.6,0M948.3,438.7a3.3,3.3 0 1,0 6.6,0a3.3,3.3 0 1,0 -6.6,0M948.3,440.5a3.3,3.3 0 1,0 6.6,0a3.3,3.3 0 1,0 -6.6,0M948.1,443.4a3.3,3.3 0 1,0 6.6,0a3.3,3.3 0 1,0 -6.6,0M948.6,445.0a3.3,3.3 0 1,0 6.6,0a3.3,3.3 0 1,0 -6.6,0M950.3,440.9a3.3,3.3 0 1,0 6.6,0a3.3,3.3 0 1,0 -6.6,0M949.8,444.4a3.3,3.3 0 1,0 6.6,0a3.3,3.3 0 1,0 -6.6,0M949.8,447.0a3.3,3.3 0 1,0 6.6,0a3.3,3.3 0 1,0 -6.6,0M952.1,442.8a3.3,3.3 0 1,0 6.6,0a3.3,3.3 0 1,0 -6.6,0M952.9,445.2a3.3,3.3 0 1,0 6.6,0a3.3,3.3 0 1,0 -6.6,0M952.9,448.6a3.3,3.3 0 1,0 6.6,0a3.3,3.3 0 1,0 -6.6,0M954.7,444.2a3.3,3.3 0 1,0 6.6,0a3.3,3.3 0 1,0 -6.6,0M954.8,446.6a3.3,3.3 0 1,0 6.6,0a3.3,3.3 0 1,0 -6.6,0M954.0,449.6a3.3,3.3 0 1,0 6.6,0a3.3,3.3 0 1,0 -6.6,0M957.2,446.9a3.3,3.3 0 1,0 6.6,0a3.3,3.3 0 1,0 -6.6,0M957.4,449.1a3.3,3.3 0 1,0 6.6,0a3.3,3.3 0 1,0 -6.6,0M956.4,450.6a3.3,3.3 0 1,0 6.6,0a3.3,3.3 0 1,0 -6.6,0M959.1,448.1a3.3,3.3 0 1,0 6.6,0a3.3,3.3 0 1,0 -6.6,0M959.0,450.9a3.3,3.3 0 1,0 6.6,0a3.3,3.3 0 1,0 -6.6,0M959.5,452.7a3.3,3.3 0 1,0 6.6,0a3.3,3.3 0 1,0 -6.6,0M961.9,450.4a3.3,3.3 0 1,0 6.6,0a3.3,3.3 0 1,0 -6.6,0M961.4,453.3a3.3,3.3 0 1,0 6.6,0a3.3,3.3 0 1,0 -6.6,0M960.9,455.7a3.3,3.3 0 1,0 6.6,0a3.3,3.3 0 1,0 -6.6,0M963.2,452.8a3.3,3.3 0 1,0 6.6,0a3.3,3.3 0 1,0 -6.6,0M963.2,456.3a3.3,3.3 0 1,0 6.6,0a3.3,3.3 0 1,0 -6.6,0M965.7,455.9a3.3,3.3 0 1,0 6.6,0a3.3,3.3 0 1,0 -6.6,0M965.8,458.7a3.3,3.3 0 1,0 6.6,0a3.3,3.3 0 1,0 -6.6,0M968.3,457.1a3.3,3.3 0 1,0 6.6,0a3.3,3.3 0 1,0 -6.6,0M967.6,460.4a3.3,3.3 0 1,0 6.6,0a3.3,3.3 0 1,0 -6.6,0M970.4,459.2a3.3,3.3 0 1,0 6.6,0a3.3,3.3 0 1,0 -6.6,0M970.5,463.5a3.3,3.3 0 1,0 6.6,0a3.3,3.3 0 1,0 -6.6,0M972.2,461.1a3.3,3.3 0 1,0 6.6,0a3.3,3.3 0 1,0 -6.6,0M971.9,464.5a3.3,3.3 0 1,0 6.6,0a3.3,3.3 0 1,0 -6.6,0M973.9,464.7a3.3,3.3 0 1,0 6.6,0a3.3,3.3 0 1,0 -6.6,0M974.9,466.6a3.3,3.3 0 1,0 6.6,0a3.3,3.3 0 1,0 -6.6,0M976.2,466.8a3.3,3.3 0 1,0 6.6,0a3.3,3.3 0 1,0 -6.6,0M977.0,468.4a3.3,3.3 0 1,0 6.6,0a3.3,3.3 0 1,0 -6.6,0M978.5,467.1a3.3,3.3 0 1,0 6.6,0a3.3,3.3 0 1,0 -6.6,0M978.4,471.0a3.3,3.3 0 1,0 6.6,0a3.3,3.3 0 1,0 -6.6,0M980.8,469.7a3.3,3.3 0 1,0 6.6,0a3.3,3.3 0 1,0 -6.6,0M980.5,471.9a3.3,3.3 0 1,0 6.6,0a3.3,3.3 0 1,0 -6.6,0M984.0,471.1a3.3,3.3 0 1,0 6.6,0a3.3,3.3 0 1,0 -6.6,0M983.6,474.3a3.3,3.3 0 1,0 6.6,0a3.3,3.3 0 1,0 -6.6,0M985.2,473.4a3.3,3.3 0 1,0 6.6,0a3.3,3.3 0 1,0 -6.6,0M985.1,475.6a3.3,3.3 0 1,0 6.6,0a3.3,3.3 0 1,0 -6.6,0M988.3,475.9a3.3,3.3 0 1,0 6.6,0a3.3,3.3 0 1,0 -6.6,0M987.5,477.1a3.3,3.3 0 1,0 6.6,0a3.3,3.3 0 1,0 -6.6,0M990.1,479.4a3.3,3.3 0 1,0 6.6,0a3.3,3.3 0 1,0 -6.6,0M992.0,479.6a3.3,3.3 0 1,0 6.6,0a3.3,3.3 0 1,0 -6.6,0M993.7,482.6a3.3,3.3 0 1,0 6.6,0a3.3,3.3 0 1,0 -6.6,0M996.8,483.9a3.3,3.3 0 1,0 6.6,0a3.3,3.3 0 1,0 -6.6,0M998.8,486.7a3.3,3.3 0 1,0 6.6,0a3.3,3.3 0 1,0 -6.6,0M1000.8,488.6a3.3,3.3 0 1,0 6.6,0a3.3,3.3 0 1,0 -6.6,0M1003.6,489.6a3.3,3.3 0 1,0 6.6,0a3.3,3.3 0 1,0 -6.6,0M1005.7,491.4a3.3,3.3 0 1,0 6.6,0a3.3,3.3 0 1,0 -6.6,0M1007.3,492.5a3.3,3.3 0 1,0 6.6,0a3.3,3.3 0 1,0 -6.6,0" fill="none" stroke="#111" stroke-width="1.6"/>
<circle cx="394" cy="216.4" r="3.1" fill="none" stroke="#383838" stroke-width="1.45"/>
<circle cx="440.6" cy="245.5" r="3.1" fill="none" stroke="#383838" stroke-width="1.45"/>
<circle cx="465.6" cy="216.3" r="3.1" fill="none" stroke="#383838" stroke-width="1.45"/>
<circle cx="483.1" cy="216.3" r="3.1" fill="none" stroke="#383838" stroke-width="1.45"/>
<circle cx="500.7" cy="216.4" r="3.1" fill="none" stroke="#383838" stroke-width="1.45"/>
<circle cx="514.3" cy="216.4" r="3.1" fill="none" stroke="#383838" stroke-width="1.45"/>
<circle cx="525.7" cy="214.3" r="3.1" fill="none" stroke="#383838" stroke-width="1.45"/>
<circle cx="538.6" cy="216.4" r="3.1" fill="none" stroke="#383838" stroke-width="1.45"/>
<circle cx="548.6" cy="217.9" r="3.1" fill="none" stroke="#383838" stroke-width="1.45"/>
<circle cx="557.9" cy="223.6" r="3.1" fill="none" stroke="#383838" stroke-width="1.45"/>
<circle cx="566.4" cy="223.6" r="3.1" fill="none" stroke="#383838" stroke-width="1.45"/>
<circle cx="617.2" cy="260.8" r="3.1" fill="none" stroke="#383838" stroke-width="1.45"/>
<circle cx="741.2" cy="286.3" r="3.1" fill="none" stroke="#383838" stroke-width="1.45"/>
<circle cx="758.5" cy="298.6" r="3.1" fill="none" stroke="#383838" stroke-width="1.45"/>
<circle cx="688.6" cy="311.3" r="3.1" fill="none" stroke="#383838" stroke-width="1.45"/>
<circle cx="714" cy="309.4" r="3.1" fill="none" stroke="#383838" stroke-width="1.45"/>
<circle cx="752.1" cy="317.6" r="3.1" fill="none" stroke="#383838" stroke-width="1.45"/>
<circle cx="785.5" cy="305.4" r="3.1" fill="none" stroke="#383838" stroke-width="1.45"/>
<circle cx="820.3" cy="332.6" r="3.1" fill="none" stroke="#383838" stroke-width="1.45"/>
<circle cx="825" cy="333.5" r="3.1" fill="none" stroke="#383838" stroke-width="1.45"/>
<circle cx="835.9" cy="337.6" r="3.1" fill="none" stroke="#383838" stroke-width="1.45"/>
<circle cx="851.4" cy="344.2" r="3.1" fill="none" stroke="#383838" stroke-width="1.45"/>
<circle cx="857.4" cy="351.9" r="3.1" fill="none" stroke="#383838" stroke-width="1.45"/>
<circle cx="862" cy="351.9" r="3.1" fill="none" stroke="#383838" stroke-width="1.45"/>
<circle cx="869" cy="368" r="3.1" fill="none" stroke="#383838" stroke-width="1.45"/>
<circle cx="931" cy="418.2" r="3.1" fill="none" stroke="#383838" stroke-width="1.45"/>
<circle cx="933" cy="421" r="3.1" fill="none" stroke="#383838" stroke-width="1.45"/>
<circle cx="949" cy="435" r="3.1" fill="none" stroke="#383838" stroke-width="1.45"/>
<circle cx="618" cy="281" r="3.1" fill="none" stroke="#383838" stroke-width="1.45"/>
<circle cx="625" cy="283" r="3.1" fill="none" stroke="#383838" stroke-width="1.45"/>
<circle cx="632" cy="285" r="3.1" fill="none" stroke="#383838" stroke-width="1.45"/>
<circle cx="648" cy="282" r="3.1" fill="none" stroke="#383838" stroke-width="1.45"/>
<circle cx="690" cy="283" r="3.1" fill="none" stroke="#383838" stroke-width="1.45"/>
<circle cx="705" cy="287" r="3.1" fill="none" stroke="#383838" stroke-width="1.45"/>
<circle cx="1005" cy="490" r="3.1" fill="none" stroke="#383838" stroke-width="1.45"/>
<circle cx="1010" cy="494" r="3.1" fill="none" stroke="#383838" stroke-width="1.45"/>
<circle cx="840.6" cy="292.7" r="6.0" fill="none" stroke="#383838" stroke-width="1.45"/>
<circle cx="736.0" cy="271.0" r="3.1" fill="none" stroke="#383838" stroke-width="1.45"/>
<circle cx="736.6" cy="274.0" r="3.1" fill="none" stroke="#383838" stroke-width="1.45"/>
<circle cx="735.6" cy="276.6" r="3.1" fill="none" stroke="#383838" stroke-width="1.45"/>
<circle cx="736.8" cy="272.5" r="3.1" fill="none" stroke="#383838" stroke-width="1.45"/>
<g stroke="#000" stroke-width="3.5" fill="none">
<line x1="146.0" y1="54.0" x2="146.0" y2="772.2"/>
<line x1="144.3" y1="770.7" x2="1465.5" y2="770.7" stroke-width="4.2"/>
</g>
<path d="M140.0,770.5H151.5M146.0,727.5H151.5M146.0,702.3H151.5M146.0,684.4H151.5M146.0,670.5H151.5M146.0,659.2H151.5M146.0,649.7H151.5M146.0,641.4H151.5M146.0,634.0H151.5M140.0,627.5H151.5M146.0,584.5H151.5M146.0,559.3H151.5M146.0,541.4H151.5M146.0,527.5H151.5M146.0,516.2H151.5M146.0,506.7H151.5M146.0,498.4H151.5M146.0,491.0H151.5M140.0,484.5H151.5M146.0,441.5H151.5M146.0,416.3H151.5M146.0,398.4H151.5M146.0,384.5H151.5M146.0,373.2H151.5M146.0,363.7H151.5M146.0,355.4H151.5M146.0,348.0H151.5M140.0,341.5H151.5M146.0,298.5H151.5M146.0,273.3H151.5M146.0,255.4H151.5M146.0,241.5H151.5M146.0,230.2H151.5M146.0,220.7H151.5M146.0,212.4H151.5M146.0,205.0H151.5M140.0,198.5H151.5M146.0,155.5H151.5M146.0,130.3H151.5M146.0,112.4H151.5M146.0,98.5H151.5M146.0,87.2H151.5M146.0,77.7H151.5M146.0,69.4H151.5M146.0,62.0H151.5M140.0,55.5H151.5M146.0,765.0V776.5M195.6,765.0V770.5M224.6,765.0V770.5M245.2,765.0V770.5M261.2,765.0V770.5M274.2,765.0V770.5M285.2,765.0V770.5M294.8,765.0V770.5M303.2,765.0V770.5M310.8,765.0V776.5M360.3,765.0V770.5M389.4,765.0V770.5M409.9,765.0V770.5M425.9,765.0V770.5M439.0,765.0V770.5M450.0,765.0V770.5M459.5,765.0V770.5M468.0,765.0V770.5M475.5,765.0V776.5M525.1,765.0V770.5M554.1,765.0V770.5M574.7,765.0V770.5M590.7,765.0V770.5M603.7,765.0V770.5M614.7,765.0V770.5M624.3,765.0V770.5M632.7,765.0V770.5M640.2,765.0V776.5M689.8,765.0V770.5M718.9,765.0V770.5M739.4,765.0V770.5M755.4,765.0V770.5M768.5,765.0V770.5M779.5,765.0V770.5M789.0,765.0V770.5M797.5,765.0V770.5M805.0,765.0V776.5M854.6,765.0V770.5M883.6,765.0V770.5M904.2,765.0V770.5M920.2,765.0V770.5M933.2,765.0V770.5M944.2,765.0V770.5M953.8,765.0V770.5M962.2,765.0V770.5M969.8,765.0V776.5M1019.3,765.0V770.5M1048.4,765.0V770.5M1068.9,765.0V770.5M1084.9,765.0V770.5M1098.0,765.0V770.5M1109.0,765.0V770.5M1118.5,765.0V770.5M1127.0,765.0V770.5M1134.5,765.0V776.5M1184.1,765.0V770.5M1213.1,765.0V770.5M1233.7,765.0V770.5M1249.7,765.0V770.5M1262.7,765.0V770.5M1273.7,765.0V770.5M1283.3,765.0V770.5M1291.7,765.0V770.5M1299.2,765.0V776.5M1348.8,765.0V770.5M1377.9,765.0V770.5M1398.4,765.0V770.5M1414.4,765.0V770.5M1427.5,765.0V770.5M1438.5,765.0V770.5M1448.0,765.0V770.5M1456.5,765.0V770.5M1464.0,765.0V776.5" stroke="#000" stroke-width="3.5" fill="none"/>
<text x="125.5" y="62.4" font-family="'Liberation Sans',Arial,sans-serif" font-size="19.5" font-weight="normal" text-anchor="end" fill="#000">1000</text>
<text x="125.5" y="205.4" font-family="'Liberation Sans',Arial,sans-serif" font-size="19.5" font-weight="normal" text-anchor="end" fill="#000">100</text>
<text x="125.5" y="348.4" font-family="'Liberation Sans',Arial,sans-serif" font-size="19.5" font-weight="normal" text-anchor="end" fill="#000">10</text>
<text x="125.5" y="491.4" font-family="'Liberation Sans',Arial,sans-serif" font-size="19.5" font-weight="normal" text-anchor="end" fill="#000">1</text>
<text x="125.5" y="634.4" font-family="'Liberation Sans',Arial,sans-serif" font-size="19.5" font-weight="normal" text-anchor="end" fill="#000">0.1</text>
<text x="125.5" y="777.4" font-family="'Liberation Sans',Arial,sans-serif" font-size="19.5" font-weight="normal" text-anchor="end" fill="#000">0.01</text>
<text x="146.0" y="805.6" font-family="'Liberation Sans',Arial,sans-serif" font-size="19.5" font-weight="normal" text-anchor="middle" fill="#000">0.000001</text>
<text x="310.8" y="805.6" font-family="'Liberation Sans',Arial,sans-serif" font-size="19.5" font-weight="normal" text-anchor="middle" fill="#000">0.00001</text>
<text x="475.5" y="805.6" font-family="'Liberation Sans',Arial,sans-serif" font-size="19.5" font-weight="normal" text-anchor="middle" fill="#000">0.0001</text>
<text x="640.2" y="805.6" font-family="'Liberation Sans',Arial,sans-serif" font-size="19.5" font-weight="normal" text-anchor="middle" fill="#000">0.001</text>
<text x="805.0" y="805.6" font-family="'Liberation Sans',Arial,sans-serif" font-size="19.5" font-weight="normal" text-anchor="middle" fill="#000">0.01</text>
<text x="969.8" y="805.6" font-family="'Liberation Sans',Arial,sans-serif" font-size="19.5" font-weight="normal" text-anchor="middle" fill="#000">0.1</text>
<text x="1134.5" y="805.6" font-family="'Liberation Sans',Arial,sans-serif" font-size="19.5" font-weight="normal" text-anchor="middle" fill="#000">1</text>
<text x="1299.2" y="805.6" font-family="'Liberation Sans',Arial,sans-serif" font-size="19.5" font-weight="normal" text-anchor="middle" fill="#000">10</text>
<text x="1464.0" y="805.6" font-family="'Liberation Sans',Arial,sans-serif" font-size="19.5" font-weight="normal" text-anchor="middle" fill="#000">100</text>
<text x="583.70" y="848.30" font-family="'Liberation Serif',serif" font-size="27" font-weight="bold" font-style="normal" fill="#000" textLength="407.60" lengthAdjust="spacingAndGlyphs">Modified dimensionless time t</text>
<text x="989.70" y="854.10" font-family="'Liberation Serif',serif" font-size="19.5" font-weight="normal" font-style="normal" fill="#000" textLength="34.87" lengthAdjust="spacingAndGlyphs">DM</text>
<text transform="translate(79.70,704.60) rotate(-90)" x="0" y="0" font-family="'Liberation Serif',serif" font-size="27" font-weight="bold" font-style="normal" fill="#000" textLength="404.43" lengthAdjust="spacingAndGlyphs">Modified dimensionless rate q</text>
<text transform="translate(85.60,299.20) rotate(-90)" x="0" y="0" font-family="'Liberation Serif',serif" font-size="19.5" font-weight="normal" font-style="normal" fill="#000" textLength="34.77" lengthAdjust="spacingAndGlyphs">DM</text>
<text x="397.00" y="65.00" font-family="'Liberation Serif',serif" font-size="27" font-weight="bold" font-style="normal" fill="#000" textLength="863.49" lengthAdjust="spacingAndGlyphs">Modified production decline-type curves with 5 stages of fracture</text>
<line x1="1268.3" y1="118.9" x2="1306.8" y2="118.9" stroke="#3E6CB2" stroke-width="3.4"/>
<text x="1307.90" y="127.00" font-family="'Liberation Serif',serif" font-size="27.5" font-weight="normal" font-style="normal" fill="#000" textLength="127.82" lengthAdjust="spacingAndGlyphs">Ye/2Lf=10</text>
<line x1="1268.3" y1="174.6" x2="1306.8" y2="174.6" stroke="#E47B30" stroke-width="3.4"/>
<text x="1307.90" y="182.72" font-family="'Liberation Serif',serif" font-size="27.5" font-weight="normal" font-style="normal" fill="#000" textLength="114.40" lengthAdjust="spacingAndGlyphs">Ye/2Lf=9</text>
<line x1="1268.3" y1="230.2" x2="1306.8" y2="230.2" stroke="#B0403E" stroke-width="3.4"/>
<text x="1307.90" y="238.44" font-family="'Liberation Serif',serif" font-size="27.5" font-weight="normal" font-style="normal" fill="#000" textLength="114.40" lengthAdjust="spacingAndGlyphs">Ye/2Lf=8</text>
<line x1="1268.3" y1="285.9" x2="1306.8" y2="285.9" stroke="#8EA9D4" stroke-width="3.4"/>
<rect x="1282.1" y="281.2" width="9.3" height="9.4" fill="#8EA9D4"/>
<text x="1307.90" y="294.16" font-family="'Liberation Serif',serif" font-size="27.5" font-weight="normal" font-style="normal" fill="#000" textLength="113.32" lengthAdjust="spacingAndGlyphs">Ye/2Lf=7</text>
<line x1="1268.3" y1="341.5" x2="1306.8" y2="341.5" stroke="#77A047" stroke-width="3.4"/>
<text x="1307.90" y="349.88" font-family="'Liberation Serif',serif" font-size="27.5" font-weight="normal" font-style="normal" fill="#000" textLength="114.40" lengthAdjust="spacingAndGlyphs">Ye/2Lf=6</text>
<line x1="1268.3" y1="397.1" x2="1306.8" y2="397.1" stroke="#D49499" stroke-width="3.4"/>
<text x="1307.90" y="405.60" font-family="'Liberation Serif',serif" font-size="27.5" font-weight="normal" font-style="normal" fill="#000" textLength="114.40" lengthAdjust="spacingAndGlyphs">Ye/2Lf=5</text>
<line x1="1268.3" y1="452.8" x2="1306.8" y2="452.8" stroke="#FFC000" stroke-width="3.4"/>
<text x="1307.90" y="461.32" font-family="'Liberation Serif',serif" font-size="27.5" font-weight="normal" font-style="normal" fill="#000" textLength="113.32" lengthAdjust="spacingAndGlyphs">Ye/2Lf=4</text>
<line x1="1268.3" y1="508.5" x2="1306.8" y2="508.5" stroke="#AAC88C" stroke-width="3.4"/>
<text x="1307.90" y="517.04" font-family="'Liberation Serif',serif" font-size="27.5" font-weight="normal" font-style="normal" fill="#000" textLength="114.40" lengthAdjust="spacingAndGlyphs">Ye/2Lf=3</text>
<line x1="1268.3" y1="564.1" x2="1306.8" y2="564.1" stroke="#000000" stroke-width="4.0"/>
<text x="1307.90" y="572.76" font-family="'Liberation Serif',serif" font-size="27.5" font-weight="normal" font-style="normal" fill="#000" textLength="114.40" lengthAdjust="spacingAndGlyphs">Ye/2Lf=2</text>
</svg></body></html>
